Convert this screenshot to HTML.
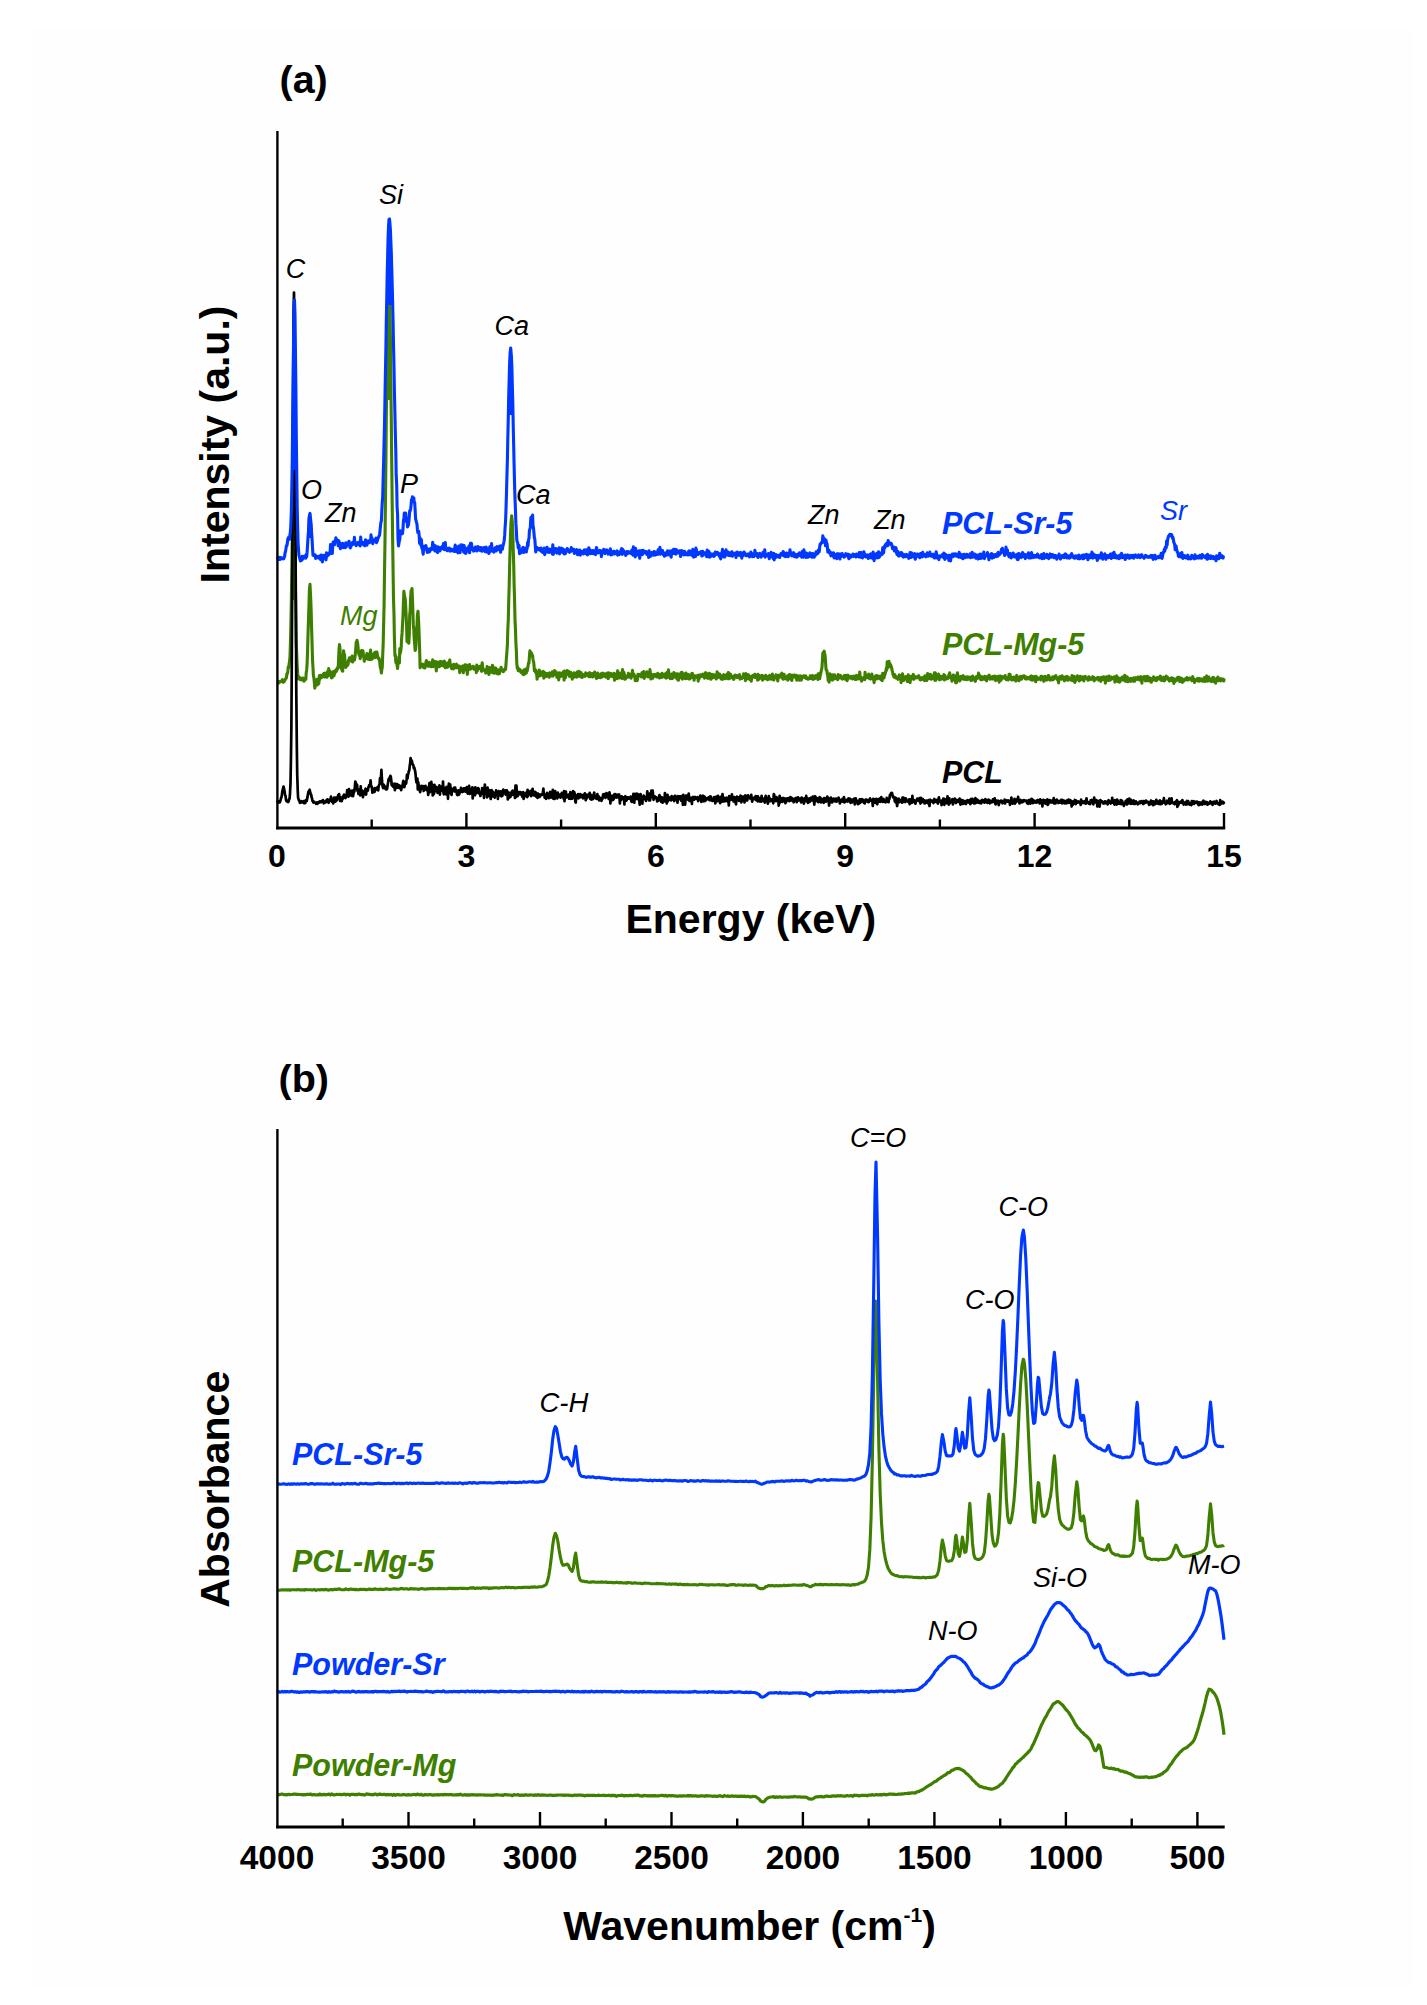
<!DOCTYPE html>
<html><head><meta charset="utf-8"><title>EDS and FTIR spectra</title>
<style>html,body{margin:0;padding:0;background:#fff;} svg{display:block;}</style>
</head><body>
<svg width="1427" height="2005" viewBox="0 0 1427 2005">
<rect x="0" y="0" width="1427" height="2005" fill="#ffffff"/>
<rect x="32" y="28" width="1381" height="1960" fill="#fefefe"/>
<g id="curves-a">
<path d="M277.0 681.9 L277.4 682.0 L277.9 682.1 L278.3 683.2 L278.8 682.8 L279.2 681.4 L279.7 682.2 L280.1 681.5 L280.6 681.4 L281.0 681.5 L281.5 681.2 L281.9 680.5 L282.4 679.6 L282.8 681.7 L283.3 682.3 L283.7 680.5 L284.2 681.6 L284.6 680.2 L285.1 680.0 L285.5 678.9 L286.0 678.4 L286.4 677.7 L286.9 673.7 L287.3 673.9 L287.8 671.8 L288.2 667.1 L288.7 667.7 L289.1 664.5 L289.6 660.6 L290.0 656.5 L290.5 640.6 L290.9 623.7 L291.4 597.9 L291.8 568.1 L292.3 532.1 L292.7 499.4 L293.2 477.7 L293.6 471.6 L294.1 483.7 L294.5 511.4 L295.0 546.5 L295.4 584.6 L295.9 618.3 L296.3 642.6 L296.8 656.8 L297.2 666.0 L297.7 673.7 L298.1 677.2 L298.6 678.9 L299.0 678.4 L299.5 677.1 L299.9 679.2 L300.4 679.7 L300.8 679.1 L301.3 678.6 L301.7 679.9 L302.2 679.3 L302.6 678.2 L303.1 679.7 L303.5 678.3 L304.0 681.2 L304.4 680.6 L304.9 678.5 L305.3 679.0 L305.8 679.4 L306.2 672.9 L306.7 669.7 L307.1 663.9 L307.6 650.0 L308.0 634.8 L308.5 619.6 L308.9 607.6 L309.4 589.6 L310.0 584.3 L310.7 598.5 L311.2 612.2 L311.6 628.3 L312.1 644.8 L312.5 659.4 L313.0 667.8 L313.4 675.4 L313.9 678.0 L314.3 681.9 L314.8 688.2 L315.2 686.7 L315.7 684.7 L316.1 684.2 L316.6 684.2 L317.0 679.4 L317.5 684.9 L317.9 680.5 L318.4 680.4 L318.8 683.7 L319.3 675.9 L319.7 679.5 L320.2 675.4 L320.6 676.8 L321.1 677.4 L321.5 676.6 L322.0 677.3 L322.4 675.3 L322.9 676.3 L323.3 674.1 L323.8 675.4 L324.2 673.3 L324.7 677.0 L325.1 673.1 L325.6 676.8 L326.0 674.5 L326.5 674.6 L326.9 677.3 L327.4 675.1 L327.8 671.0 L328.3 675.6 L328.7 668.6 L329.2 674.9 L329.6 673.4 L330.1 671.2 L330.5 674.2 L331.0 673.2 L331.4 677.9 L331.9 672.7 L332.3 677.5 L332.8 676.2 L333.2 671.9 L333.7 671.3 L334.1 675.6 L334.6 672.5 L335.0 672.9 L335.5 671.9 L335.9 669.8 L336.4 671.3 L336.8 669.9 L337.3 667.8 L337.7 668.8 L338.2 668.1 L338.6 658.6 L339.1 648.3 L339.5 644.6 L340.0 649.1 L340.4 659.9 L340.9 664.7 L341.3 667.6 L341.8 669.4 L342.2 670.8 L342.7 671.1 L343.1 658.2 L343.6 650.7 L344.0 654.1 L344.5 654.4 L344.9 659.3 L345.4 667.2 L345.8 667.4 L346.3 664.3 L346.7 662.6 L347.2 665.7 L347.6 662.4 L348.1 664.4 L348.5 660.2 L349.0 661.1 L349.4 657.8 L349.9 659.3 L350.3 658.4 L350.8 659.9 L351.2 661.1 L351.7 657.6 L352.1 656.1 L352.6 662.0 L353.0 658.6 L353.5 659.1 L353.9 658.8 L354.4 660.1 L354.8 658.0 L355.3 654.3 L355.7 649.5 L356.2 642.4 L356.6 644.5 L357.0 640.4 L357.5 642.3 L358.0 646.6 L358.4 651.8 L358.9 654.3 L359.3 655.5 L359.8 653.5 L360.2 658.7 L360.7 656.9 L361.1 651.5 L361.6 650.5 L362.0 650.6 L362.5 650.7 L362.9 650.8 L363.4 654.2 L363.8 656.4 L364.3 661.3 L364.7 656.1 L365.2 657.2 L365.6 655.6 L366.1 656.9 L366.5 658.6 L367.0 653.5 L367.4 656.1 L367.9 659.1 L368.3 657.7 L368.8 656.3 L369.2 659.5 L369.7 659.4 L370.1 652.9 L370.6 650.1 L371.0 659.5 L371.5 655.6 L371.9 656.3 L372.4 658.9 L372.8 657.3 L373.3 654.0 L373.7 654.9 L374.2 653.4 L374.6 657.1 L375.1 652.2 L375.5 657.7 L376.0 652.0 L376.4 655.3 L376.9 652.1 L377.3 654.4 L377.8 657.1 L378.2 657.4 L378.7 659.2 L379.1 658.3 L379.6 660.8 L380.0 664.7 L380.5 668.6 L380.9 668.5 L381.4 673.0 L381.8 669.8 L382.3 666.9 L382.7 655.1 L383.2 643.5 L383.6 625.2 L384.1 604.1 L384.5 572.1 L385.0 541.0 L385.4 504.8 L385.9 463.1 L386.3 416.1 L386.8 378.4 L387.2 338.4 L387.7 306.2 L388.1 283.0 L388.8 270.0 L389.5 283.5 L389.9 307.6 L390.4 338.2 L390.8 378.2 L391.3 419.3 L391.7 460.3 L392.2 503.7 L392.6 538.0 L393.1 571.9 L393.5 598.2 L394.0 614.7 L394.4 637.6 L394.9 655.7 L395.3 654.7 L395.8 661.7 L396.2 663.0 L396.7 662.4 L397.1 665.5 L397.6 668.4 L398.0 662.4 L398.5 662.5 L398.9 656.7 L399.4 662.9 L399.8 648.5 L400.3 653.2 L400.7 651.0 L401.2 647.2 L401.6 638.6 L402.1 632.7 L402.5 625.2 L403.0 616.4 L403.4 603.3 L403.9 591.4 L404.5 595.9 L405.2 598.6 L405.7 606.5 L406.1 614.5 L406.6 625.7 L407.0 641.5 L407.5 640.8 L407.9 640.6 L408.4 642.5 L408.8 643.2 L409.3 634.3 L409.7 614.9 L410.2 610.3 L410.6 597.9 L411.1 590.8 L411.5 590.3 L412.0 588.6 L412.4 597.9 L412.9 611.8 L413.3 624.4 L413.8 629.7 L414.2 638.7 L414.7 644.2 L415.1 650.4 L415.6 649.6 L416.0 643.8 L416.5 627.9 L416.9 627.9 L417.4 615.1 L418.0 611.2 L418.7 623.0 L419.2 636.6 L419.6 648.9 L420.1 667.7 L420.5 665.6 L421.0 664.2 L421.4 665.1 L421.9 665.0 L422.3 665.8 L422.8 664.2 L423.2 665.1 L423.7 667.7 L424.1 667.0 L424.6 665.6 L425.0 667.9 L425.5 665.2 L425.9 662.3 L426.4 660.6 L426.8 662.8 L427.3 664.1 L427.7 665.0 L428.2 666.2 L428.6 662.9 L429.1 662.3 L429.5 665.5 L430.0 666.3 L430.4 663.0 L430.9 664.6 L431.3 666.7 L431.8 664.6 L432.2 663.8 L432.7 659.8 L433.1 666.6 L433.6 665.3 L434.0 664.2 L434.5 663.1 L434.9 661.5 L435.4 663.9 L435.8 663.9 L436.3 671.0 L436.7 661.7 L437.2 667.0 L437.6 666.9 L438.1 666.6 L438.5 662.3 L439.0 665.0 L439.4 666.7 L439.9 664.6 L440.3 661.5 L440.8 663.8 L441.2 665.5 L441.7 661.7 L442.1 661.7 L442.6 665.1 L443.0 662.7 L443.5 666.0 L443.9 662.4 L444.4 661.1 L444.8 662.4 L445.3 667.8 L445.7 663.2 L446.2 665.0 L446.6 665.5 L447.1 663.2 L447.5 667.3 L448.0 665.5 L448.4 666.1 L448.9 662.0 L449.3 661.9 L449.8 659.9 L450.2 665.1 L450.7 665.1 L451.1 667.0 L451.6 668.6 L452.0 665.2 L452.5 665.2 L452.9 666.7 L453.4 668.9 L453.8 664.3 L454.3 667.2 L454.7 667.8 L455.2 665.4 L455.6 667.8 L456.1 664.7 L456.5 664.2 L457.0 667.7 L457.4 666.4 L457.9 665.9 L458.3 666.3 L458.8 667.6 L459.2 665.9 L459.7 672.7 L460.1 667.6 L460.6 669.7 L461.0 669.4 L461.5 670.4 L461.9 666.6 L462.4 667.3 L462.8 665.9 L463.3 672.8 L463.7 666.8 L464.2 668.4 L464.6 670.0 L465.1 664.7 L465.5 665.8 L466.0 666.7 L466.4 665.6 L466.9 665.1 L467.3 674.4 L467.8 670.2 L468.2 669.2 L468.7 667.9 L469.1 667.9 L469.6 664.6 L470.0 669.3 L470.5 668.8 L470.9 667.8 L471.4 668.5 L471.8 667.7 L472.3 667.2 L472.7 666.3 L473.2 666.9 L473.6 666.5 L474.1 669.3 L474.5 669.1 L475.0 669.1 L475.4 668.1 L475.9 667.7 L476.3 672.6 L476.8 665.0 L477.2 671.0 L477.7 669.4 L478.1 668.9 L478.6 667.8 L479.0 668.4 L479.5 666.6 L479.9 666.3 L480.4 668.8 L480.8 665.8 L481.3 670.7 L481.7 671.3 L482.2 662.7 L482.6 666.2 L483.1 669.8 L483.5 669.8 L484.0 669.6 L484.4 670.3 L484.9 670.9 L485.3 671.2 L485.8 673.0 L486.2 669.7 L486.7 671.3 L487.1 666.6 L487.6 669.5 L488.0 667.5 L488.5 672.6 L488.9 674.4 L489.4 671.0 L489.8 667.5 L490.3 669.8 L490.7 670.1 L491.2 670.5 L491.6 672.3 L492.1 672.1 L492.5 665.2 L493.0 672.9 L493.4 669.4 L493.9 669.3 L494.3 673.2 L494.8 670.0 L495.2 667.9 L495.7 668.0 L496.1 670.7 L496.6 672.4 L497.0 673.6 L497.5 670.4 L497.9 669.9 L498.4 673.9 L498.8 670.0 L499.3 673.7 L499.7 671.4 L500.2 671.4 L500.6 670.6 L501.1 667.2 L501.5 670.2 L502.0 669.8 L502.4 670.9 L502.9 669.9 L503.3 671.7 L503.8 671.2 L504.2 669.9 L504.7 669.4 L505.1 668.6 L505.6 669.3 L506.0 663.8 L506.5 657.0 L506.9 652.2 L507.4 644.6 L507.8 629.5 L508.3 619.7 L508.7 602.1 L509.2 585.0 L509.6 566.8 L510.1 548.9 L510.5 534.0 L511.0 522.6 L511.7 515.7 L512.3 521.8 L512.8 532.8 L513.2 547.8 L513.7 564.9 L514.1 583.9 L514.6 601.8 L515.0 619.6 L515.5 630.4 L515.9 642.8 L516.4 651.8 L516.8 663.1 L517.3 668.3 L517.7 667.1 L518.2 670.7 L518.6 670.8 L519.1 670.3 L519.5 669.1 L520.0 671.1 L520.4 669.9 L520.9 672.1 L521.3 672.6 L521.8 672.6 L522.2 672.6 L522.7 673.9 L523.1 671.3 L523.6 674.7 L524.0 669.9 L524.5 673.0 L524.9 673.8 L525.4 671.1 L525.8 669.1 L526.3 672.9 L526.7 670.6 L527.2 670.8 L527.6 668.6 L528.1 665.9 L528.5 663.0 L529.0 663.2 L529.4 656.4 L529.9 650.8 L530.3 652.3 L531.0 652.7 L531.7 653.4 L532.1 656.2 L532.6 655.7 L533.0 659.5 L533.5 661.6 L533.9 664.1 L534.4 670.8 L534.8 668.9 L535.3 671.6 L535.7 669.9 L536.2 673.6 L536.6 672.3 L537.1 679.2 L537.5 672.0 L538.0 672.0 L538.4 675.6 L538.9 676.0 L539.3 670.0 L539.8 674.4 L540.2 675.6 L540.7 671.7 L541.1 675.3 L541.6 673.0 L542.0 672.1 L542.5 673.4 L542.9 673.2 L543.4 671.4 L543.8 678.2 L544.3 673.2 L544.7 672.7 L545.2 675.7 L545.6 673.9 L546.1 676.6 L546.5 673.6 L547.0 674.8 L547.4 674.3 L547.9 673.6 L548.3 676.4 L548.8 674.0 L549.2 677.3 L549.7 672.9 L550.1 673.2 L550.6 673.6 L551.0 675.3 L551.5 675.0 L551.9 676.0 L552.4 671.8 L552.8 676.2 L553.3 673.9 L553.7 673.7 L554.2 674.6 L554.6 670.6 L555.1 674.8 L555.5 674.6 L556.0 671.7 L556.4 674.1 L556.9 677.2 L557.3 673.6 L557.8 675.4 L558.2 673.9 L558.7 679.9 L559.1 672.7 L559.6 673.7 L560.0 676.8 L560.5 675.9 L560.9 673.1 L561.4 676.3 L561.8 674.2 L562.3 673.2 L562.7 675.2 L563.2 672.8 L563.6 671.6 L564.1 680.2 L564.5 671.1 L565.0 675.5 L565.4 677.8 L565.9 674.5 L566.3 674.2 L566.8 673.7 L567.2 670.5 L567.7 674.3 L568.1 674.5 L568.6 672.9 L569.0 671.4 L569.5 676.4 L569.9 673.3 L570.4 673.4 L570.8 672.5 L571.3 675.3 L571.7 675.8 L572.2 679.1 L572.6 676.3 L573.1 675.4 L573.5 677.2 L574.0 672.8 L574.4 676.6 L574.9 673.7 L575.3 673.5 L575.8 676.7 L576.2 675.1 L576.7 677.1 L577.1 672.1 L577.6 675.2 L578.0 673.8 L578.5 674.2 L578.9 671.3 L579.4 676.4 L579.8 675.1 L580.3 673.0 L580.7 672.3 L581.2 673.2 L581.6 677.3 L582.1 677.4 L582.5 674.2 L583.0 675.7 L583.4 674.8 L583.9 675.2 L584.3 676.2 L584.8 675.4 L585.2 676.4 L585.7 672.7 L586.1 675.0 L586.6 674.2 L587.0 675.1 L587.5 674.8 L587.9 673.7 L588.4 674.3 L588.8 676.6 L589.3 673.9 L589.7 672.7 L590.2 676.0 L590.6 676.7 L591.1 674.5 L591.5 675.2 L592.0 673.5 L592.4 674.6 L592.9 676.9 L593.3 676.4 L593.8 675.2 L594.2 674.5 L594.7 672.1 L595.1 675.6 L595.6 676.2 L596.0 676.9 L596.5 678.6 L596.9 675.7 L597.4 676.7 L597.8 673.1 L598.3 677.2 L598.7 676.6 L599.2 677.5 L599.6 676.3 L600.1 675.9 L600.5 677.7 L601.0 673.9 L601.4 676.2 L601.9 677.0 L602.3 673.7 L602.8 673.1 L603.2 675.9 L603.7 675.3 L604.1 676.2 L604.6 676.3 L605.0 673.8 L605.5 675.7 L605.9 677.1 L606.4 674.5 L606.8 674.7 L607.3 673.2 L607.7 676.6 L608.2 678.6 L608.6 672.8 L609.1 676.5 L609.5 676.8 L610.0 674.2 L610.4 674.6 L610.9 673.4 L611.3 673.8 L611.8 675.5 L612.2 676.4 L612.7 675.4 L613.1 676.7 L613.6 675.6 L614.0 673.2 L614.5 680.3 L614.9 677.3 L615.4 674.0 L615.8 678.4 L616.3 676.1 L616.7 675.5 L617.2 678.6 L617.6 670.9 L618.1 672.5 L618.5 676.5 L619.0 674.9 L619.4 674.7 L619.9 677.9 L620.3 676.2 L620.8 673.1 L621.2 674.2 L621.7 676.8 L622.1 678.5 L622.6 669.5 L623.0 675.8 L623.5 674.7 L623.9 672.3 L624.4 675.1 L624.8 679.3 L625.3 679.0 L625.7 678.2 L626.2 676.3 L626.6 676.7 L627.1 676.4 L627.5 676.0 L628.0 677.1 L628.4 673.4 L628.9 674.8 L629.3 676.9 L629.8 674.2 L630.2 674.7 L630.7 677.5 L631.1 678.1 L631.6 674.4 L632.0 674.0 L632.5 670.4 L632.9 675.9 L633.4 674.3 L633.8 674.2 L634.3 676.4 L634.7 675.6 L635.2 680.6 L635.6 677.8 L636.1 676.9 L636.5 677.3 L637.0 680.8 L637.4 680.1 L637.9 674.3 L638.3 676.1 L638.8 675.6 L639.2 674.5 L639.7 676.0 L640.1 676.0 L640.6 675.4 L641.0 674.7 L641.5 677.0 L641.9 672.8 L642.4 677.0 L642.8 675.6 L643.3 676.0 L643.7 671.5 L644.2 678.5 L644.6 672.6 L645.1 674.1 L645.5 676.7 L646.0 674.5 L646.4 674.9 L646.9 671.8 L647.3 674.8 L647.8 676.0 L648.2 676.8 L648.7 674.9 L649.1 676.0 L649.6 676.4 L650.0 669.6 L650.5 674.3 L650.9 679.0 L651.4 674.2 L651.8 677.8 L652.3 675.8 L652.7 678.2 L653.2 674.6 L653.6 676.5 L654.1 676.2 L654.5 675.3 L655.0 676.2 L655.4 674.4 L655.9 675.5 L656.3 675.0 L656.8 677.0 L657.2 675.5 L657.7 673.3 L658.1 675.1 L658.6 675.5 L659.0 674.2 L659.5 678.0 L659.9 676.4 L660.4 677.1 L660.8 674.4 L661.3 675.0 L661.7 677.4 L662.2 673.3 L662.6 676.4 L663.1 675.9 L663.5 674.9 L664.0 675.9 L664.4 677.1 L664.9 676.1 L665.3 673.7 L665.8 673.6 L666.2 678.1 L666.7 674.6 L667.1 672.2 L667.6 677.4 L668.0 674.5 L668.5 669.8 L668.9 675.7 L669.4 677.4 L669.8 676.4 L670.3 678.7 L670.7 675.6 L671.2 676.8 L671.6 674.1 L672.1 676.1 L672.5 678.4 L673.0 676.7 L673.4 676.1 L673.9 672.5 L674.3 675.2 L674.8 673.6 L675.2 677.2 L675.7 673.9 L676.1 676.5 L676.6 674.1 L677.0 679.1 L677.5 673.9 L677.9 676.1 L678.4 680.3 L678.8 676.2 L679.3 674.4 L679.7 676.9 L680.2 677.6 L680.6 677.4 L681.1 672.6 L681.5 676.3 L682.0 672.3 L682.4 679.1 L682.9 676.0 L683.3 675.1 L683.8 677.1 L684.2 676.7 L684.7 673.9 L685.1 678.7 L685.6 675.5 L686.0 673.0 L686.5 678.3 L686.9 678.5 L687.4 678.1 L687.8 676.9 L688.3 674.5 L688.7 677.6 L689.2 679.1 L689.6 677.4 L690.1 678.7 L690.5 674.7 L691.0 677.7 L691.4 677.6 L691.9 673.5 L692.3 673.3 L692.8 674.8 L693.2 676.2 L693.7 676.8 L694.1 680.2 L694.6 675.9 L695.0 675.8 L695.5 676.2 L695.9 677.0 L696.4 676.9 L696.8 676.0 L697.3 677.7 L697.7 675.3 L698.2 681.2 L698.6 675.2 L699.1 678.8 L699.5 676.0 L700.0 676.6 L700.4 674.8 L700.9 675.5 L701.3 676.4 L701.8 676.1 L702.2 675.1 L702.7 674.2 L703.1 676.2 L703.6 676.4 L704.0 677.1 L704.5 678.2 L704.9 675.6 L705.4 672.8 L705.8 675.9 L706.3 673.1 L706.7 674.0 L707.2 677.9 L707.6 677.1 L708.1 678.3 L708.5 675.1 L709.0 676.0 L709.4 673.2 L709.9 677.0 L710.3 675.6 L710.8 679.3 L711.2 674.4 L711.7 677.9 L712.1 675.1 L712.6 677.9 L713.0 674.6 L713.5 677.5 L713.9 675.5 L714.4 674.9 L714.8 676.0 L715.3 677.1 L715.7 676.9 L716.2 678.9 L716.6 677.7 L717.1 671.9 L717.5 675.6 L718.0 673.0 L718.4 675.7 L718.9 677.3 L719.3 674.1 L719.8 674.3 L720.2 676.6 L720.7 675.8 L721.1 679.0 L721.6 676.9 L722.0 677.2 L722.5 679.3 L722.9 675.5 L723.4 676.4 L723.8 674.7 L724.3 676.8 L724.7 678.1 L725.2 678.7 L725.6 676.3 L726.1 675.2 L726.5 675.1 L727.0 674.1 L727.4 676.6 L727.9 678.7 L728.3 672.5 L728.8 672.8 L729.2 678.8 L729.7 677.1 L730.1 677.0 L730.6 674.3 L731.0 677.7 L731.5 677.8 L731.9 676.7 L732.4 677.8 L732.8 676.6 L733.3 677.4 L733.7 679.5 L734.2 678.3 L734.6 675.4 L735.1 675.2 L735.5 676.1 L736.0 676.1 L736.4 676.6 L736.9 675.5 L737.3 677.6 L737.8 676.6 L738.2 677.1 L738.7 676.6 L739.1 675.8 L739.6 674.6 L740.0 679.2 L740.5 677.1 L740.9 677.3 L741.4 677.6 L741.8 678.4 L742.3 677.8 L742.7 677.0 L743.2 676.3 L743.6 673.9 L744.1 677.0 L744.5 676.1 L745.0 676.1 L745.4 680.6 L745.9 673.6 L746.3 676.7 L746.8 678.6 L747.2 678.2 L747.7 678.7 L748.1 674.6 L748.6 675.1 L749.0 677.7 L749.5 676.2 L749.9 679.5 L750.4 677.1 L750.8 677.0 L751.3 681.2 L751.7 676.3 L752.2 676.9 L752.6 675.6 L753.1 676.7 L753.5 675.9 L754.0 677.1 L754.4 674.4 L754.9 674.3 L755.3 677.5 L755.8 677.1 L756.2 675.2 L756.7 676.4 L757.1 675.0 L757.6 680.1 L758.0 674.2 L758.5 679.6 L758.9 675.4 L759.4 677.5 L759.8 676.4 L760.3 676.2 L760.7 678.3 L761.2 678.1 L761.6 676.3 L762.1 675.3 L762.5 680.2 L763.0 679.1 L763.4 677.1 L763.9 676.4 L764.3 677.3 L764.8 677.0 L765.2 678.8 L765.7 675.3 L766.1 676.9 L766.6 676.4 L767.0 679.0 L767.5 679.8 L767.9 676.7 L768.4 677.8 L768.8 679.2 L769.3 676.4 L769.7 675.4 L770.2 678.6 L770.6 677.7 L771.1 676.6 L771.5 679.3 L772.0 677.3 L772.4 674.0 L772.9 677.5 L773.3 676.8 L773.8 680.0 L774.2 676.9 L774.7 676.6 L775.1 677.7 L775.6 677.3 L776.0 674.7 L776.5 677.2 L776.9 676.4 L777.4 679.2 L777.8 680.9 L778.3 675.2 L778.7 675.4 L779.2 675.6 L779.6 675.9 L780.1 675.9 L780.5 677.1 L781.0 674.4 L781.4 674.9 L781.9 673.2 L782.3 674.0 L782.8 678.8 L783.2 679.2 L783.7 674.5 L784.1 674.4 L784.6 677.2 L785.0 678.8 L785.5 678.7 L785.9 677.4 L786.4 678.1 L786.8 677.6 L787.3 676.2 L787.7 680.1 L788.2 675.9 L788.6 675.3 L789.1 676.3 L789.5 674.6 L790.0 677.1 L790.4 678.8 L790.9 675.0 L791.3 678.9 L791.8 680.5 L792.2 677.7 L792.7 675.2 L793.1 675.7 L793.6 676.6 L794.0 675.0 L794.5 675.1 L794.9 676.7 L795.4 676.8 L795.8 678.1 L796.3 675.2 L796.7 680.1 L797.2 678.8 L797.6 678.6 L798.1 676.1 L798.5 679.9 L799.0 676.6 L799.4 680.1 L799.9 678.9 L800.3 675.7 L800.8 676.4 L801.2 680.2 L801.7 678.8 L802.1 676.9 L802.6 677.5 L803.0 677.5 L803.5 675.9 L803.9 676.9 L804.4 676.1 L804.8 676.5 L805.3 677.9 L805.7 675.7 L806.2 678.4 L806.6 677.4 L807.1 678.4 L807.5 678.6 L808.0 679.2 L808.4 678.2 L808.9 678.3 L809.3 678.6 L809.8 678.1 L810.2 675.8 L810.7 676.8 L811.1 678.4 L811.6 677.1 L812.0 677.9 L812.5 675.6 L812.9 679.4 L813.4 676.3 L813.8 677.9 L814.3 677.2 L814.7 678.7 L815.2 676.6 L815.6 675.7 L816.1 676.7 L816.5 676.8 L817.0 675.4 L817.4 678.1 L817.9 679.5 L818.3 673.7 L818.8 675.1 L819.2 673.6 L819.7 678.7 L820.1 675.9 L820.6 674.1 L821.0 671.9 L821.5 669.5 L821.9 668.1 L822.4 661.1 L822.8 653.2 L823.3 652.4 L823.8 652.3 L824.2 651.2 L824.6 653.8 L825.1 655.5 L825.5 661.6 L826.0 669.2 L826.4 670.3 L826.9 670.6 L827.3 674.0 L827.8 675.8 L828.2 680.5 L828.7 677.5 L829.1 682.1 L829.6 678.1 L830.0 673.9 L830.5 677.9 L830.9 676.0 L831.4 675.2 L831.8 675.7 L832.3 680.2 L832.7 674.9 L833.2 676.4 L833.6 679.2 L834.1 678.4 L834.5 674.7 L835.0 677.2 L835.4 676.6 L835.9 677.1 L836.3 678.6 L836.8 676.5 L837.2 676.9 L837.7 679.7 L838.1 674.5 L838.6 676.8 L839.0 678.1 L839.5 675.4 L839.9 676.4 L840.4 675.3 L840.8 677.5 L841.3 676.4 L841.7 678.6 L842.2 679.0 L842.6 677.5 L843.1 676.8 L843.5 677.8 L844.0 677.5 L844.4 675.5 L844.9 679.1 L845.3 677.8 L845.8 678.7 L846.2 675.3 L846.7 678.8 L847.1 680.7 L847.6 678.4 L848.0 675.2 L848.5 677.5 L848.9 677.3 L849.4 677.8 L849.8 677.1 L850.3 678.2 L850.7 676.7 L851.2 677.8 L851.6 676.4 L852.1 677.6 L852.5 679.0 L853.0 676.7 L853.4 678.5 L853.9 676.1 L854.3 676.9 L854.8 677.1 L855.2 679.4 L855.7 676.3 L856.1 679.4 L856.6 675.2 L857.0 677.2 L857.5 678.9 L857.9 678.6 L858.4 675.9 L858.8 675.6 L859.3 678.8 L859.7 672.1 L860.2 678.4 L860.6 676.7 L861.1 677.5 L861.5 681.1 L862.0 679.9 L862.4 678.8 L862.9 678.2 L863.3 678.0 L863.8 677.6 L864.2 677.3 L864.7 679.6 L865.1 672.3 L865.6 678.0 L866.0 677.7 L866.5 676.3 L866.9 676.2 L867.4 675.5 L867.8 677.6 L868.3 677.6 L868.7 674.1 L869.2 675.3 L869.6 678.6 L870.1 678.7 L870.5 679.0 L871.0 678.4 L871.4 677.9 L871.9 674.1 L872.3 677.9 L872.8 676.7 L873.2 679.3 L873.7 679.6 L874.1 682.6 L874.6 678.6 L875.0 678.8 L875.5 676.0 L875.9 677.7 L876.4 675.6 L876.8 678.9 L877.3 675.7 L877.7 677.2 L878.2 676.3 L878.6 676.8 L879.1 678.3 L879.5 676.7 L880.0 677.9 L880.4 676.0 L880.9 679.6 L881.3 676.5 L881.8 678.7 L882.2 680.6 L882.7 673.3 L883.1 675.1 L883.6 675.8 L884.0 678.0 L884.5 675.1 L884.9 674.6 L885.4 672.3 L885.8 671.6 L886.3 668.2 L886.7 670.1 L887.2 661.9 L887.6 663.0 L888.1 667.5 L888.5 663.8 L889.0 661.2 L889.4 665.1 L889.9 663.8 L890.3 664.9 L890.8 665.0 L891.2 666.9 L891.7 668.0 L892.1 670.8 L892.6 672.1 L893.0 674.9 L893.5 675.1 L893.9 676.8 L894.4 674.5 L894.8 674.8 L895.3 676.9 L895.7 677.9 L896.2 676.7 L896.6 677.0 L897.1 678.5 L897.5 678.2 L898.0 679.3 L898.4 678.0 L898.9 676.3 L899.3 674.9 L899.8 677.3 L900.2 677.1 L900.7 677.1 L901.1 682.6 L901.6 675.2 L902.0 677.0 L902.5 673.7 L902.9 677.0 L903.4 676.3 L903.8 680.5 L904.3 678.3 L904.7 677.3 L905.2 677.9 L905.6 678.8 L906.1 676.5 L906.5 677.3 L907.0 677.1 L907.4 681.5 L907.9 677.8 L908.3 674.7 L908.8 678.9 L909.2 681.6 L909.7 676.2 L910.1 682.6 L910.6 677.6 L911.0 679.2 L911.5 676.8 L911.9 677.3 L912.4 675.8 L912.8 676.1 L913.3 674.4 L913.7 679.4 L914.2 675.9 L914.6 678.3 L915.1 678.2 L915.5 676.7 L916.0 677.8 L916.4 677.6 L916.9 676.9 L917.3 677.8 L917.8 677.8 L918.2 676.1 L918.7 675.7 L919.1 676.4 L919.6 677.9 L920.0 679.8 L920.5 679.9 L920.9 678.2 L921.4 679.2 L921.8 677.9 L922.3 679.4 L922.7 677.9 L923.2 678.2 L923.6 677.3 L924.1 677.7 L924.5 680.6 L925.0 675.9 L925.4 677.7 L925.9 676.8 L926.3 679.2 L926.8 680.5 L927.2 677.3 L927.7 673.5 L928.1 678.7 L928.6 678.7 L929.0 675.2 L929.5 677.4 L929.9 677.6 L930.4 674.2 L930.8 678.8 L931.3 679.2 L931.7 678.1 L932.2 676.1 L932.6 676.7 L933.1 676.8 L933.5 678.5 L934.0 676.3 L934.4 672.7 L934.9 680.5 L935.3 672.7 L935.8 680.3 L936.2 678.0 L936.7 676.9 L937.1 677.9 L937.6 675.0 L938.0 678.1 L938.5 674.0 L938.9 676.2 L939.4 679.8 L939.8 679.7 L940.3 677.3 L940.7 676.3 L941.2 679.2 L941.6 677.7 L942.1 678.1 L942.5 678.7 L943.0 676.2 L943.4 679.0 L943.9 674.6 L944.3 680.0 L944.8 675.4 L945.2 676.8 L945.7 676.8 L946.1 678.9 L946.6 678.9 L947.0 678.3 L947.5 678.6 L947.9 678.5 L948.4 677.7 L948.8 674.9 L949.3 675.8 L949.7 672.8 L950.2 677.7 L950.6 677.5 L951.1 677.6 L951.5 678.2 L952.0 681.2 L952.4 676.3 L952.9 675.6 L953.3 675.0 L953.8 679.7 L954.2 679.2 L954.7 675.8 L955.1 677.4 L955.6 682.7 L956.0 680.2 L956.5 682.7 L956.9 678.1 L957.4 672.9 L957.8 675.2 L958.3 676.7 L958.7 677.8 L959.2 676.8 L959.6 681.0 L960.1 679.1 L960.5 678.1 L961.0 676.4 L961.4 679.2 L961.9 678.8 L962.3 677.1 L962.8 677.2 L963.2 675.7 L963.7 677.7 L964.1 679.2 L964.6 679.4 L965.0 678.7 L965.5 679.1 L965.9 677.0 L966.4 677.2 L966.8 679.7 L967.3 678.5 L967.7 676.7 L968.2 678.6 L968.6 679.1 L969.1 678.9 L969.5 678.0 L970.0 677.1 L970.4 678.5 L970.9 680.4 L971.3 678.1 L971.8 676.9 L972.2 680.3 L972.7 676.1 L973.1 679.4 L973.6 677.5 L974.0 679.3 L974.5 678.1 L974.9 679.5 L975.4 681.3 L975.8 677.6 L976.3 676.7 L976.7 678.6 L977.2 677.8 L977.6 678.1 L978.1 677.0 L978.5 673.1 L979.0 678.0 L979.4 674.7 L979.9 677.6 L980.3 678.4 L980.8 679.7 L981.2 677.1 L981.7 676.7 L982.1 679.6 L982.6 677.0 L983.0 678.1 L983.5 678.6 L983.9 679.0 L984.4 678.0 L984.8 676.3 L985.3 679.4 L985.7 677.3 L986.2 677.2 L986.6 680.9 L987.1 677.1 L987.5 676.4 L988.0 677.3 L988.4 677.6 L988.9 676.9 L989.3 675.2 L989.8 679.1 L990.2 679.1 L990.7 678.3 L991.1 677.4 L991.6 678.3 L992.0 678.9 L992.5 676.5 L992.9 677.5 L993.4 677.2 L993.8 679.0 L994.3 678.4 L994.7 676.1 L995.2 677.1 L995.6 680.6 L996.1 676.6 L996.5 678.2 L997.0 677.1 L997.4 679.8 L997.9 677.9 L998.3 677.4 L998.8 676.1 L999.2 682.1 L999.7 679.2 L1000.1 679.0 L1000.6 676.1 L1001.0 680.3 L1001.5 677.7 L1001.9 676.5 L1002.4 678.2 L1002.8 677.1 L1003.3 677.2 L1003.7 677.1 L1004.2 677.9 L1004.6 677.3 L1005.1 675.6 L1005.5 678.8 L1006.0 677.3 L1006.4 679.8 L1006.9 678.8 L1007.3 678.9 L1007.8 678.3 L1008.2 679.9 L1008.7 677.6 L1009.1 674.2 L1009.6 678.6 L1010.0 674.2 L1010.5 677.5 L1010.9 679.1 L1011.4 677.5 L1011.8 679.9 L1012.3 679.1 L1012.7 678.3 L1013.2 677.5 L1013.6 679.7 L1014.1 677.1 L1014.5 677.5 L1015.0 679.2 L1015.4 679.0 L1015.9 681.0 L1016.3 677.8 L1016.8 675.4 L1017.2 679.1 L1017.7 679.9 L1018.1 677.9 L1018.6 680.3 L1019.0 680.7 L1019.5 677.2 L1019.9 677.4 L1020.4 676.3 L1020.8 678.9 L1021.3 679.2 L1021.7 678.9 L1022.2 676.4 L1022.6 677.1 L1023.1 676.1 L1023.5 675.9 L1024.0 676.2 L1024.4 675.9 L1024.9 677.9 L1025.3 678.8 L1025.8 679.0 L1026.2 678.1 L1026.7 677.2 L1027.1 678.1 L1027.6 679.0 L1028.0 677.7 L1028.5 678.2 L1028.9 677.7 L1029.4 677.4 L1029.8 678.2 L1030.3 676.6 L1030.7 679.7 L1031.2 676.0 L1031.6 678.8 L1032.1 676.3 L1032.5 680.3 L1033.0 679.4 L1033.4 677.1 L1033.9 677.6 L1034.3 676.6 L1034.8 678.1 L1035.2 678.8 L1035.7 681.8 L1036.1 676.3 L1036.6 680.0 L1037.0 677.4 L1037.5 678.6 L1037.9 679.5 L1038.4 679.0 L1038.8 678.8 L1039.3 678.0 L1039.7 678.2 L1040.2 678.5 L1040.6 679.9 L1041.1 676.2 L1041.5 677.6 L1042.0 676.5 L1042.4 678.1 L1042.9 677.1 L1043.3 679.8 L1043.8 681.3 L1044.2 680.2 L1044.7 676.6 L1045.1 678.4 L1045.6 676.7 L1046.0 678.9 L1046.5 680.1 L1046.9 679.1 L1047.4 679.5 L1047.8 678.1 L1048.3 675.5 L1048.7 675.5 L1049.2 678.2 L1049.6 678.0 L1050.1 680.1 L1050.5 677.8 L1051.0 678.4 L1051.4 678.7 L1051.9 679.8 L1052.3 678.2 L1052.8 676.8 L1053.2 679.8 L1053.7 678.9 L1054.1 678.9 L1054.6 676.6 L1055.0 678.3 L1055.5 675.9 L1055.9 675.6 L1056.4 678.0 L1056.8 677.7 L1057.3 679.1 L1057.7 680.3 L1058.2 678.3 L1058.6 682.9 L1059.1 677.5 L1059.5 679.4 L1060.0 676.6 L1060.4 678.5 L1060.9 677.9 L1061.3 678.1 L1061.8 679.2 L1062.2 675.8 L1062.7 678.5 L1063.1 677.3 L1063.6 678.5 L1064.0 678.9 L1064.5 680.8 L1064.9 677.9 L1065.4 676.8 L1065.8 679.2 L1066.3 677.5 L1066.7 679.0 L1067.2 676.4 L1067.6 680.3 L1068.1 677.0 L1068.5 680.0 L1069.0 677.8 L1069.4 679.2 L1069.9 678.2 L1070.3 679.4 L1070.8 678.4 L1071.2 680.2 L1071.7 679.4 L1072.1 675.5 L1072.6 680.7 L1073.0 677.5 L1073.5 680.2 L1073.9 678.5 L1074.4 676.4 L1074.8 682.5 L1075.3 678.2 L1075.7 680.8 L1076.2 677.8 L1076.6 678.5 L1077.1 678.8 L1077.5 675.9 L1078.0 679.2 L1078.4 677.1 L1078.9 680.4 L1079.3 680.8 L1079.8 678.5 L1080.2 676.3 L1080.7 678.7 L1081.1 678.7 L1081.6 679.5 L1082.0 678.1 L1082.5 676.9 L1082.9 678.3 L1083.4 677.2 L1083.8 680.9 L1084.3 677.6 L1084.7 677.6 L1085.2 676.4 L1085.6 676.8 L1086.1 677.9 L1086.5 678.3 L1087.0 677.9 L1087.4 678.2 L1087.9 680.2 L1088.3 679.1 L1088.8 676.7 L1089.2 678.0 L1089.7 679.6 L1090.1 677.7 L1090.6 678.7 L1091.0 678.5 L1091.5 679.3 L1091.9 678.3 L1092.4 678.4 L1092.8 676.7 L1093.3 679.1 L1093.7 677.3 L1094.2 680.9 L1094.6 678.6 L1095.1 678.3 L1095.5 679.6 L1096.0 678.5 L1096.4 678.7 L1096.9 678.5 L1097.3 677.6 L1097.8 677.4 L1098.2 677.7 L1098.7 680.1 L1099.1 677.8 L1099.6 678.1 L1100.0 678.0 L1100.5 679.6 L1100.9 681.3 L1101.4 677.4 L1101.8 679.4 L1102.3 678.8 L1102.7 678.2 L1103.2 679.3 L1103.6 676.9 L1104.1 679.8 L1104.5 678.9 L1105.0 677.3 L1105.4 683.1 L1105.9 679.8 L1106.3 680.2 L1106.8 676.7 L1107.2 678.3 L1107.7 678.0 L1108.1 679.5 L1108.6 680.5 L1109.0 676.1 L1109.5 678.7 L1109.9 678.5 L1110.4 680.0 L1110.8 678.6 L1111.3 677.0 L1111.7 678.4 L1112.2 677.3 L1112.6 677.7 L1113.1 678.8 L1113.5 678.1 L1114.0 679.1 L1114.4 676.7 L1114.9 682.2 L1115.3 680.4 L1115.8 679.7 L1116.2 677.0 L1116.7 675.9 L1117.1 677.6 L1117.6 678.4 L1118.0 681.7 L1118.5 680.5 L1118.9 678.0 L1119.4 680.3 L1119.8 682.1 L1120.3 678.8 L1120.7 680.4 L1121.2 679.2 L1121.6 677.9 L1122.1 677.2 L1122.5 678.6 L1123.0 680.1 L1123.4 677.0 L1123.9 676.7 L1124.3 679.5 L1124.8 675.2 L1125.2 681.2 L1125.7 678.2 L1126.1 679.8 L1126.6 681.2 L1127.0 676.9 L1127.5 677.4 L1127.9 681.8 L1128.4 678.4 L1128.8 678.6 L1129.3 679.1 L1129.7 680.2 L1130.2 680.6 L1130.6 681.3 L1131.1 678.4 L1131.5 678.8 L1132.0 679.2 L1132.4 680.6 L1132.9 679.0 L1133.3 681.2 L1133.8 677.7 L1134.2 679.5 L1134.7 681.1 L1135.1 680.5 L1135.6 679.3 L1136.0 677.7 L1136.5 677.9 L1136.9 678.7 L1137.4 679.3 L1137.8 678.5 L1138.3 677.0 L1138.7 677.9 L1139.2 679.6 L1139.6 680.0 L1140.1 677.1 L1140.5 678.4 L1141.0 676.7 L1141.4 678.2 L1141.9 683.2 L1142.3 679.0 L1142.8 678.5 L1143.2 678.1 L1143.7 677.3 L1144.1 676.5 L1144.6 678.9 L1145.0 678.6 L1145.5 680.8 L1145.9 676.8 L1146.4 679.5 L1146.8 680.7 L1147.3 676.4 L1147.7 679.8 L1148.2 676.9 L1148.6 679.6 L1149.1 680.9 L1149.5 679.0 L1150.0 679.3 L1150.4 678.1 L1150.9 679.3 L1151.3 682.2 L1151.8 678.7 L1152.2 678.8 L1152.7 679.5 L1153.1 680.0 L1153.6 676.9 L1154.0 679.1 L1154.5 678.1 L1154.9 679.6 L1155.4 680.3 L1155.8 679.4 L1156.3 680.7 L1156.7 677.7 L1157.2 678.5 L1157.6 677.7 L1158.1 679.1 L1158.5 677.8 L1159.0 678.8 L1159.4 677.5 L1159.9 678.9 L1160.3 676.0 L1160.8 679.8 L1161.2 678.7 L1161.7 680.5 L1162.1 679.3 L1162.6 678.7 L1163.0 678.8 L1163.5 677.2 L1163.9 680.3 L1164.4 680.9 L1164.8 679.0 L1165.3 679.6 L1165.7 677.2 L1166.2 676.2 L1166.6 678.4 L1167.1 678.8 L1167.5 677.1 L1168.0 679.2 L1168.4 679.5 L1168.9 679.9 L1169.3 681.1 L1169.8 680.1 L1170.2 678.6 L1170.7 679.2 L1171.1 679.9 L1171.6 677.8 L1172.0 680.8 L1172.5 680.3 L1172.9 678.8 L1173.4 678.3 L1173.8 683.4 L1174.3 680.2 L1174.7 680.3 L1175.2 681.4 L1175.6 680.4 L1176.1 679.4 L1176.5 680.0 L1177.0 678.0 L1177.4 680.1 L1177.9 677.2 L1178.3 679.7 L1178.8 679.9 L1179.2 677.2 L1179.7 681.6 L1180.1 677.7 L1180.6 680.5 L1181.0 678.5 L1181.5 679.6 L1181.9 678.4 L1182.4 682.4 L1182.8 680.5 L1183.3 681.5 L1183.7 680.2 L1184.2 680.1 L1184.6 679.4 L1185.1 678.9 L1185.5 680.0 L1186.0 679.4 L1186.4 679.0 L1186.9 677.5 L1187.3 678.9 L1187.8 680.0 L1188.2 678.7 L1188.7 679.7 L1189.1 679.1 L1189.6 678.0 L1190.0 678.1 L1190.5 678.3 L1190.9 678.9 L1191.4 679.0 L1191.8 680.7 L1192.3 677.9 L1192.7 676.7 L1193.2 680.2 L1193.6 678.7 L1194.1 679.2 L1194.5 682.5 L1195.0 681.2 L1195.4 680.1 L1195.9 680.5 L1196.3 679.5 L1196.8 680.5 L1197.2 678.6 L1197.7 678.4 L1198.1 678.8 L1198.6 681.3 L1199.0 681.3 L1199.5 678.6 L1199.9 680.8 L1200.4 679.2 L1200.8 680.7 L1201.3 679.0 L1201.7 680.6 L1202.2 679.2 L1202.6 681.2 L1203.1 679.4 L1203.5 679.6 L1204.0 678.7 L1204.4 677.7 L1204.9 681.5 L1205.3 678.9 L1205.8 677.1 L1206.2 676.6 L1206.7 675.9 L1207.1 678.7 L1207.6 681.1 L1208.0 677.4 L1208.5 679.0 L1208.9 677.1 L1209.4 680.8 L1209.8 679.9 L1210.3 679.8 L1210.7 681.1 L1211.2 681.5 L1211.6 680.7 L1212.1 678.7 L1212.5 677.8 L1213.0 678.2 L1213.4 677.3 L1213.9 681.7 L1214.3 679.2 L1214.8 679.6 L1215.2 679.7 L1215.7 683.1 L1216.1 678.8 L1216.6 681.0 L1217.0 679.9 L1217.5 679.3 L1217.9 677.1 L1218.4 680.6 L1218.8 678.6 L1219.3 678.9 L1219.7 679.8 L1220.2 679.6 L1220.6 680.9 L1221.1 678.7 L1221.5 679.7 L1222.0 679.9 L1222.4 679.6 L1222.9 680.4 L1223.3 679.2 L1223.8 681.0 L1224.0 678.3" fill="none" stroke="#3f7f00" stroke-width="3.1" stroke-linejoin="round"/>
<path d="M291.36 600.00 L291.40 597.94 L291.85 568.12 L292.30 532.14 L292.75 499.40 L293.20 477.69 L293.60 471.60 L294.10 483.69 L294.55 511.37 L295.00 546.49 L295.45 584.56 L295.66 600.00 Z" fill="#3f7f00" stroke="none"/>
<path d="M308.34 625.00 L308.50 619.61 L308.95 607.56 L309.40 589.57 L310.00 584.29 L310.75 598.51 L311.20 612.20 L311.56 625.00 Z" fill="#3f7f00" stroke="none"/>
<path d="M386.54 400.00 L386.80 378.39 L387.25 338.38 L387.70 306.24 L388.15 283.05 L388.80 270.00 L389.50 283.54 L389.95 307.60 L390.40 338.20 L390.85 378.21 L391.09 400.00 Z" fill="#3f7f00" stroke="none"/>
<path d="M510.22 545.00 L510.55 534.05 L511.00 522.58 L511.70 515.70 L512.35 521.80 L512.80 532.75 L513.17 545.00 Z" fill="#3f7f00" stroke="none"/>
<path d="M277.0 800.6 L277.4 801.6 L277.9 802.1 L278.3 802.5 L278.8 801.5 L279.2 801.8 L279.7 802.4 L280.1 801.6 L280.6 799.9 L281.0 798.2 L281.5 797.3 L281.9 794.6 L282.4 790.6 L282.8 789.4 L283.5 786.6 L284.2 789.4 L284.6 791.5 L285.1 795.4 L285.5 795.6 L286.0 799.8 L286.4 801.0 L286.9 801.4 L287.3 800.6 L287.8 800.9 L288.2 802.0 L288.7 801.2 L289.1 798.9 L289.6 798.7 L290.0 793.3 L290.5 783.6 L290.9 760.9 L291.4 724.4 L291.8 659.4 L292.3 570.8 L292.7 470.3 L293.2 375.1 L293.6 309.4 L294.0 292.5 L294.5 333.1 L295.0 415.0 L295.4 519.2 L295.9 612.7 L296.3 693.1 L296.8 744.7 L297.2 773.6 L297.7 789.6 L298.1 797.9 L298.6 799.3 L299.0 800.6 L299.5 800.5 L299.9 802.9 L300.4 801.9 L300.8 801.7 L301.3 801.3 L301.7 802.3 L302.2 801.9 L302.6 802.3 L303.1 801.4 L303.5 801.1 L304.0 803.2 L304.4 801.3 L304.9 801.9 L305.3 803.0 L305.8 800.0 L306.2 801.0 L306.7 800.9 L307.1 799.1 L307.6 796.6 L308.0 794.0 L308.5 791.6 L308.9 791.3 L309.7 789.7 L310.3 792.9 L310.7 794.2 L311.2 794.7 L311.6 797.3 L312.1 798.8 L312.5 801.1 L313.0 801.4 L313.4 802.5 L313.9 801.6 L314.3 802.0 L314.8 802.3 L315.2 802.6 L315.7 802.7 L316.1 803.8 L316.6 803.0 L317.0 802.3 L317.5 803.8 L317.9 802.5 L318.4 802.5 L318.8 802.6 L319.3 801.9 L319.7 801.3 L320.2 802.2 L320.6 801.8 L321.1 801.2 L321.5 802.0 L322.0 801.7 L322.4 801.2 L322.9 800.1 L323.3 801.5 L323.8 803.3 L324.2 802.4 L324.7 802.5 L325.1 801.3 L325.6 802.4 L326.0 800.5 L326.5 800.6 L326.9 801.6 L327.4 799.3 L327.8 801.0 L328.3 801.2 L328.7 802.8 L329.2 799.8 L329.6 801.1 L330.1 799.6 L330.5 799.7 L331.0 796.7 L331.4 798.9 L331.9 801.7 L332.3 800.7 L332.8 800.1 L333.2 803.4 L333.7 800.5 L334.1 797.7 L334.6 799.1 L335.0 799.2 L335.5 801.7 L335.9 797.6 L336.4 799.6 L336.8 800.4 L337.3 797.3 L337.7 798.6 L338.2 795.0 L338.6 798.4 L339.1 794.2 L339.5 797.3 L340.0 800.8 L340.4 798.4 L340.9 797.6 L341.3 797.6 L341.8 801.2 L342.2 798.1 L342.7 798.9 L343.1 796.0 L343.6 795.9 L344.0 794.6 L344.5 796.1 L344.9 797.1 L345.4 798.1 L345.8 797.3 L346.3 795.7 L346.7 794.8 L347.2 790.0 L347.6 794.4 L348.1 796.1 L348.5 796.7 L349.0 789.1 L349.4 790.3 L349.9 795.4 L350.3 792.8 L350.8 794.4 L351.2 793.7 L351.7 795.8 L352.1 790.6 L352.6 793.1 L353.0 796.2 L353.5 793.7 L353.9 790.2 L354.4 791.7 L354.8 787.5 L355.3 781.5 L356.0 783.3 L356.6 784.5 L357.1 784.9 L357.5 790.9 L358.0 789.2 L358.4 794.0 L358.9 792.5 L359.3 790.8 L359.8 791.4 L360.2 795.3 L360.7 786.3 L361.1 791.6 L361.6 790.8 L362.0 790.4 L362.5 794.3 L362.9 797.1 L363.4 795.0 L363.8 793.0 L364.3 793.4 L364.7 790.8 L365.2 790.4 L365.6 788.7 L366.1 794.6 L366.5 790.4 L367.0 789.5 L367.4 789.3 L367.9 790.5 L368.3 787.2 L368.8 787.0 L369.2 785.0 L370.0 785.6 L370.6 780.3 L371.0 786.3 L371.5 786.3 L371.9 787.5 L372.4 792.7 L372.8 791.1 L373.3 788.7 L373.7 790.6 L374.2 788.6 L374.6 791.9 L375.1 788.1 L375.5 790.2 L376.0 788.5 L376.4 788.9 L376.9 788.5 L377.3 787.3 L377.8 788.8 L378.2 790.4 L378.7 786.1 L379.1 785.1 L379.6 784.1 L380.0 778.2 L380.5 777.7 L381.0 777.5 L381.4 769.8 L381.8 777.1 L382.3 784.3 L382.7 786.5 L383.2 788.2 L383.6 784.5 L384.1 785.6 L384.5 787.1 L385.0 786.3 L385.4 788.8 L385.9 789.3 L386.3 788.2 L386.8 789.3 L387.2 788.2 L387.7 784.9 L388.1 782.4 L388.6 779.1 L389.0 780.7 L389.5 777.6 L390.0 777.7 L390.4 775.8 L390.8 776.7 L391.3 780.7 L391.7 785.2 L392.2 785.0 L392.6 786.0 L393.1 783.9 L393.5 787.0 L394.0 787.4 L394.4 783.9 L394.9 790.2 L395.3 783.9 L395.8 788.3 L396.2 785.6 L396.7 786.4 L397.1 784.2 L397.6 784.7 L398.0 787.7 L398.5 785.6 L398.9 785.2 L399.4 788.1 L399.8 787.8 L400.3 786.4 L400.7 786.5 L401.2 790.1 L401.6 785.6 L402.1 786.9 L402.5 787.0 L403.0 782.4 L403.4 780.8 L403.9 785.7 L404.3 787.1 L404.8 784.7 L405.2 782.3 L405.7 781.7 L406.1 783.7 L406.6 779.4 L407.0 774.6 L407.5 778.6 L407.9 775.4 L408.4 773.2 L408.8 771.1 L409.3 770.4 L409.7 766.0 L410.2 763.1 L410.6 758.2 L411.1 762.5 L411.8 760.5 L412.4 764.0 L412.9 764.5 L413.3 765.1 L413.8 768.3 L414.2 767.4 L414.7 769.4 L415.1 770.8 L415.6 774.5 L416.0 779.5 L416.5 782.5 L416.9 779.4 L417.4 778.6 L417.8 789.5 L418.3 782.3 L418.7 785.6 L419.2 787.4 L419.6 789.1 L420.1 792.1 L420.5 790.5 L421.0 787.7 L421.4 785.9 L421.9 787.8 L422.3 788.0 L422.8 788.8 L423.2 786.1 L423.7 791.0 L424.1 786.6 L424.6 790.1 L425.0 789.0 L425.5 785.9 L425.9 788.7 L426.4 788.7 L426.8 788.2 L427.3 790.7 L427.7 787.7 L428.2 795.0 L428.6 791.6 L429.1 786.7 L429.5 783.0 L430.0 792.1 L430.4 789.7 L430.9 789.3 L431.3 781.9 L431.8 785.7 L432.2 784.7 L432.7 795.5 L433.1 793.2 L433.6 789.2 L434.0 793.9 L434.5 784.9 L434.9 791.1 L435.4 791.2 L435.8 787.4 L436.3 788.4 L436.7 787.0 L437.2 789.7 L437.6 792.8 L438.1 792.1 L438.5 790.7 L439.0 789.3 L439.4 785.4 L439.9 794.7 L440.3 789.7 L440.8 786.6 L441.2 788.9 L441.7 788.3 L442.1 790.2 L442.6 790.8 L443.0 781.6 L443.5 793.2 L443.9 794.3 L444.4 787.6 L444.8 793.8 L445.3 793.3 L445.7 792.7 L446.2 794.3 L446.6 786.8 L447.1 792.1 L447.5 787.8 L448.0 798.8 L448.4 788.0 L448.9 783.6 L449.3 793.2 L449.8 792.0 L450.2 784.5 L450.7 790.9 L451.1 792.1 L451.6 794.9 L452.0 788.8 L452.5 789.2 L452.9 789.2 L453.4 790.5 L453.8 790.8 L454.3 787.6 L454.7 791.5 L455.2 787.7 L455.6 790.1 L456.1 790.2 L456.5 790.3 L457.0 794.6 L457.4 795.0 L457.9 793.6 L458.3 794.9 L458.8 790.3 L459.2 794.5 L459.7 790.9 L460.1 791.7 L460.6 791.8 L461.0 787.8 L461.5 789.7 L461.9 790.8 L462.4 792.1 L462.8 790.9 L463.3 789.2 L463.7 788.4 L464.2 791.3 L464.6 788.4 L465.1 788.5 L465.5 791.1 L466.0 791.8 L466.4 789.4 L466.9 787.1 L467.3 792.2 L467.8 793.5 L468.2 790.5 L468.7 790.6 L469.1 785.9 L469.6 793.8 L470.0 788.9 L470.5 793.4 L470.9 790.2 L471.4 791.3 L471.8 791.3 L472.3 787.3 L472.7 798.5 L473.2 787.9 L473.6 792.1 L474.1 789.8 L474.5 791.3 L475.0 795.2 L475.4 787.3 L475.9 791.6 L476.3 793.1 L476.8 792.3 L477.2 792.9 L477.7 790.2 L478.1 788.0 L478.6 788.8 L479.0 791.1 L479.5 793.9 L479.9 792.3 L480.4 796.0 L480.8 792.4 L481.3 792.6 L481.7 792.7 L482.2 788.0 L482.6 793.6 L483.1 789.6 L483.5 791.4 L484.0 798.0 L484.4 789.3 L484.9 784.5 L485.3 793.1 L485.8 792.7 L486.2 792.4 L486.7 791.1 L487.1 797.3 L487.6 787.6 L488.0 790.0 L488.5 796.1 L488.9 793.8 L489.4 790.7 L489.8 790.4 L490.3 792.0 L490.7 799.0 L491.2 793.8 L491.6 790.1 L492.1 793.2 L492.5 791.2 L493.0 796.3 L493.4 793.4 L493.9 795.8 L494.3 793.1 L494.8 797.7 L495.2 793.8 L495.7 793.5 L496.1 790.4 L496.6 791.8 L497.0 793.8 L497.5 791.7 L497.9 798.9 L498.4 792.9 L498.8 791.1 L499.3 795.3 L499.7 791.7 L500.2 794.0 L500.6 792.8 L501.1 791.3 L501.5 796.4 L502.0 793.3 L502.4 795.7 L502.9 792.3 L503.3 789.7 L503.8 790.2 L504.2 791.9 L504.7 792.8 L505.1 793.4 L505.6 794.5 L506.0 790.3 L506.5 793.8 L506.9 790.4 L507.4 791.7 L507.8 799.5 L508.3 796.4 L508.7 792.5 L509.2 797.7 L509.6 796.8 L510.1 795.5 L510.5 796.9 L511.0 792.9 L511.4 793.2 L511.9 791.5 L512.3 794.9 L512.8 790.6 L513.2 792.4 L513.7 794.7 L514.1 792.4 L514.6 794.4 L515.0 798.0 L515.5 785.6 L515.9 797.0 L516.4 785.6 L516.8 791.5 L517.3 794.3 L517.7 796.2 L518.2 792.1 L518.6 792.1 L519.1 792.8 L519.5 792.1 L520.0 794.3 L520.4 792.2 L520.9 793.3 L521.3 794.7 L521.8 792.9 L522.2 796.6 L522.7 792.3 L523.1 792.1 L523.6 798.8 L524.0 797.5 L524.5 794.2 L524.9 796.0 L525.4 794.8 L525.8 792.9 L526.3 795.7 L526.7 794.8 L527.2 797.1 L527.6 789.8 L528.1 796.0 L528.5 794.6 L529.0 792.6 L529.4 793.2 L529.9 793.3 L530.3 791.1 L530.8 792.9 L531.2 796.1 L531.7 790.7 L532.1 793.4 L532.6 788.8 L533.0 793.0 L533.5 795.3 L533.9 794.3 L534.4 794.5 L534.8 791.8 L535.3 795.8 L535.7 792.3 L536.2 796.6 L536.6 795.0 L537.1 793.6 L537.5 798.0 L538.0 793.6 L538.4 796.9 L538.9 794.8 L539.3 794.6 L539.8 796.9 L540.2 795.6 L540.7 794.6 L541.1 794.4 L541.6 795.2 L542.0 794.9 L542.5 793.9 L542.9 792.3 L543.4 788.7 L543.8 794.5 L544.3 794.2 L544.7 797.6 L545.2 795.8 L545.6 797.4 L546.1 798.8 L546.5 794.6 L547.0 792.9 L547.4 796.8 L547.9 793.5 L548.3 794.3 L548.8 798.2 L549.2 796.2 L549.7 797.5 L550.1 791.9 L550.6 795.1 L551.0 797.6 L551.5 792.1 L551.9 795.5 L552.4 796.0 L552.8 789.8 L553.3 798.7 L553.7 793.5 L554.2 794.8 L554.6 799.0 L555.1 791.0 L555.5 795.3 L556.0 794.2 L556.4 795.3 L556.9 793.3 L557.3 798.3 L557.8 792.7 L558.2 796.1 L558.7 796.5 L559.1 795.1 L559.6 794.7 L560.0 794.7 L560.5 797.7 L560.9 796.4 L561.4 795.2 L561.8 792.9 L562.3 795.8 L562.7 796.6 L563.2 795.3 L563.6 798.7 L564.1 791.1 L564.5 801.1 L565.0 795.1 L565.4 792.9 L565.9 791.6 L566.3 797.5 L566.8 796.8 L567.2 795.1 L567.7 795.5 L568.1 796.0 L568.6 794.6 L569.0 798.7 L569.5 797.0 L569.9 795.4 L570.4 792.0 L570.8 798.8 L571.3 794.6 L571.7 793.4 L572.2 798.6 L572.6 796.9 L573.1 791.2 L573.5 792.0 L574.0 794.9 L574.4 792.4 L574.9 795.5 L575.3 801.7 L575.8 802.5 L576.2 795.7 L576.7 797.7 L577.1 797.9 L577.6 795.6 L578.0 794.1 L578.5 798.3 L578.9 795.5 L579.4 797.0 L579.8 797.5 L580.3 794.2 L580.7 795.5 L581.2 796.2 L581.6 796.5 L582.1 795.1 L582.5 797.6 L583.0 798.3 L583.4 794.8 L583.9 797.4 L584.3 795.1 L584.8 793.4 L585.2 795.4 L585.7 800.2 L586.1 797.4 L586.6 798.6 L587.0 794.7 L587.5 795.5 L587.9 796.4 L588.4 796.9 L588.8 796.0 L589.3 794.1 L589.7 792.8 L590.2 798.9 L590.6 798.7 L591.1 794.8 L591.5 799.6 L592.0 796.2 L592.4 797.3 L592.9 799.1 L593.3 795.3 L593.8 794.6 L594.2 792.5 L594.7 797.1 L595.1 797.4 L595.6 798.3 L596.0 797.8 L596.5 796.7 L596.9 799.0 L597.4 794.2 L597.8 797.3 L598.3 797.6 L598.7 796.2 L599.2 800.3 L599.6 797.5 L600.1 799.5 L600.5 798.5 L601.0 798.1 L601.4 800.8 L601.9 799.0 L602.3 799.3 L602.8 796.4 L603.2 794.3 L603.7 796.3 L604.1 794.2 L604.6 797.1 L605.0 795.7 L605.5 797.9 L605.9 796.5 L606.4 793.2 L606.8 795.6 L607.3 794.8 L607.7 793.9 L608.2 796.2 L608.6 798.8 L609.1 794.3 L609.5 792.4 L610.0 796.4 L610.4 803.4 L610.9 795.5 L611.3 797.4 L611.8 795.9 L612.2 798.7 L612.7 800.0 L613.1 796.5 L613.6 799.5 L614.0 794.5 L614.5 797.4 L614.9 794.2 L615.4 797.3 L615.8 795.6 L616.3 797.5 L616.7 794.5 L617.2 797.5 L617.6 797.2 L618.1 795.8 L618.5 795.3 L619.0 794.4 L619.4 796.2 L619.9 803.5 L620.3 796.8 L620.8 797.4 L621.2 799.8 L621.7 796.4 L622.1 797.7 L622.6 798.9 L623.0 798.2 L623.5 798.0 L623.9 797.3 L624.4 804.4 L624.8 797.0 L625.3 796.3 L625.7 798.5 L626.2 800.7 L626.6 800.3 L627.1 797.3 L627.5 799.0 L628.0 798.3 L628.4 797.4 L628.9 798.7 L629.3 798.6 L629.8 797.6 L630.2 798.9 L630.7 796.5 L631.1 800.3 L631.6 801.8 L632.0 801.9 L632.5 797.9 L632.9 797.0 L633.4 793.9 L633.8 797.2 L634.3 802.6 L634.7 794.0 L635.2 794.1 L635.6 799.2 L636.1 798.7 L636.5 793.5 L637.0 797.3 L637.4 798.2 L637.9 794.2 L638.3 799.5 L638.8 794.6 L639.2 799.9 L639.7 804.6 L640.1 796.0 L640.6 794.1 L641.0 796.8 L641.5 797.3 L641.9 797.3 L642.4 803.7 L642.8 797.1 L643.3 799.4 L643.7 795.6 L644.2 797.1 L644.6 798.6 L645.1 797.6 L645.5 799.4 L646.0 800.9 L646.4 796.9 L646.9 798.1 L647.3 791.4 L647.8 796.9 L648.2 799.1 L648.7 795.3 L649.1 800.5 L649.6 793.7 L650.0 800.5 L650.5 796.6 L650.9 795.6 L651.4 790.6 L651.8 797.2 L652.3 795.6 L652.7 790.6 L653.2 796.7 L653.6 799.8 L654.1 798.6 L654.5 797.6 L655.0 796.5 L655.4 797.1 L655.9 797.1 L656.3 798.1 L656.8 798.8 L657.2 801.5 L657.7 799.3 L658.1 798.2 L658.6 800.7 L659.0 796.2 L659.5 795.1 L659.9 799.3 L660.4 798.2 L660.8 798.2 L661.3 801.8 L661.7 797.2 L662.2 797.7 L662.6 802.7 L663.1 799.3 L663.5 800.0 L664.0 798.2 L664.4 801.3 L664.9 793.0 L665.3 800.5 L665.8 794.7 L666.2 797.9 L666.7 803.3 L667.1 797.3 L667.6 794.8 L668.0 801.4 L668.5 796.9 L668.9 797.7 L669.4 797.7 L669.8 799.6 L670.3 799.5 L670.7 797.8 L671.2 800.4 L671.6 796.2 L672.1 799.5 L672.5 796.8 L673.0 799.6 L673.4 796.8 L673.9 797.2 L674.3 801.2 L674.8 795.9 L675.2 795.8 L675.7 799.4 L676.1 797.6 L676.6 797.3 L677.0 797.9 L677.5 802.6 L677.9 796.1 L678.4 797.7 L678.8 798.6 L679.3 796.3 L679.7 798.2 L680.2 799.3 L680.6 796.4 L681.1 800.6 L681.5 796.0 L682.0 798.0 L682.4 799.0 L682.9 804.8 L683.3 794.8 L683.8 798.9 L684.2 803.5 L684.7 797.1 L685.1 804.6 L685.6 798.8 L686.0 795.5 L686.5 799.2 L686.9 796.6 L687.4 798.6 L687.8 795.4 L688.3 799.9 L688.7 793.5 L689.2 798.1 L689.6 801.0 L690.1 799.5 L690.5 797.7 L691.0 798.0 L691.4 797.6 L691.9 804.0 L692.3 798.4 L692.8 798.5 L693.2 797.0 L693.7 797.5 L694.1 799.7 L694.6 797.3 L695.0 796.9 L695.5 797.4 L695.9 797.8 L696.4 798.9 L696.8 797.6 L697.3 798.2 L697.7 797.1 L698.2 801.1 L698.6 798.8 L699.1 798.0 L699.5 799.2 L700.0 798.5 L700.4 795.5 L700.9 798.3 L701.3 801.9 L701.8 799.6 L702.2 801.0 L702.7 797.3 L703.1 795.7 L703.6 797.3 L704.0 801.4 L704.5 796.7 L704.9 797.1 L705.4 800.9 L705.8 798.2 L706.3 798.3 L706.7 799.5 L707.2 798.9 L707.6 798.1 L708.1 799.2 L708.5 797.3 L709.0 798.7 L709.4 800.1 L709.9 796.7 L710.3 798.4 L710.8 796.5 L711.2 800.3 L711.7 800.0 L712.1 800.7 L712.6 800.9 L713.0 800.8 L713.5 800.2 L713.9 797.3 L714.4 800.7 L714.8 797.1 L715.3 803.4 L715.7 799.4 L716.2 800.0 L716.6 796.5 L717.1 801.0 L717.5 801.2 L718.0 795.8 L718.4 800.7 L718.9 798.0 L719.3 797.7 L719.8 801.6 L720.2 803.2 L720.7 796.9 L721.1 801.0 L721.6 798.5 L722.0 801.6 L722.5 794.2 L722.9 798.1 L723.4 801.4 L723.8 797.5 L724.3 801.3 L724.7 798.0 L725.2 801.2 L725.6 800.2 L726.1 798.2 L726.5 797.6 L727.0 798.7 L727.4 801.3 L727.9 799.0 L728.3 797.8 L728.8 805.5 L729.2 796.0 L729.7 798.7 L730.1 800.1 L730.6 797.1 L731.0 799.1 L731.5 798.3 L731.9 794.3 L732.4 800.0 L732.8 796.9 L733.3 797.7 L733.7 801.5 L734.2 797.0 L734.6 800.3 L735.1 802.0 L735.5 801.1 L736.0 804.3 L736.4 798.7 L736.9 796.5 L737.3 799.5 L737.8 800.1 L738.2 798.2 L738.7 797.3 L739.1 800.9 L739.6 797.2 L740.0 800.1 L740.5 795.6 L740.9 796.0 L741.4 802.3 L741.8 800.4 L742.3 800.3 L742.7 796.6 L743.2 799.0 L743.6 799.8 L744.1 797.9 L744.5 802.4 L745.0 795.5 L745.4 800.6 L745.9 795.7 L746.3 796.3 L746.8 796.9 L747.2 800.4 L747.7 798.0 L748.1 795.4 L748.6 797.6 L749.0 796.5 L749.5 797.6 L749.9 797.5 L750.4 798.7 L750.8 798.6 L751.3 794.8 L751.7 798.1 L752.2 801.6 L752.6 798.5 L753.1 799.2 L753.5 798.0 L754.0 798.1 L754.4 799.2 L754.9 796.8 L755.3 799.0 L755.8 796.2 L756.2 800.0 L756.7 796.4 L757.1 800.6 L757.6 801.2 L758.0 796.3 L758.5 800.6 L758.9 798.6 L759.4 801.5 L759.8 798.4 L760.3 798.8 L760.7 798.8 L761.2 801.7 L761.6 795.8 L762.1 800.8 L762.5 799.6 L763.0 798.5 L763.4 799.0 L763.9 801.1 L764.3 800.9 L764.8 802.5 L765.2 798.2 L765.7 795.9 L766.1 798.4 L766.6 799.1 L767.0 798.6 L767.5 801.7 L767.9 803.6 L768.4 800.1 L768.8 796.2 L769.3 801.4 L769.7 798.3 L770.2 799.5 L770.6 801.0 L771.1 800.1 L771.5 799.4 L772.0 800.0 L772.4 800.9 L772.9 800.6 L773.3 803.3 L773.8 794.1 L774.2 794.7 L774.7 798.5 L775.1 801.0 L775.6 799.9 L776.0 801.1 L776.5 797.0 L776.9 799.2 L777.4 800.7 L777.8 799.5 L778.3 798.8 L778.7 805.6 L779.2 802.5 L779.6 795.8 L780.1 802.4 L780.5 800.1 L781.0 798.1 L781.4 800.8 L781.9 799.7 L782.3 801.8 L782.8 798.2 L783.2 801.4 L783.7 798.0 L784.1 800.2 L784.6 800.9 L785.0 799.5 L785.5 803.2 L785.9 798.6 L786.4 801.6 L786.8 798.8 L787.3 798.4 L787.7 799.5 L788.2 799.6 L788.6 798.2 L789.1 801.1 L789.5 799.5 L790.0 800.8 L790.4 797.1 L790.9 800.5 L791.3 799.2 L791.8 798.0 L792.2 799.5 L792.7 800.7 L793.1 800.2 L793.6 802.3 L794.0 801.1 L794.5 798.5 L794.9 800.7 L795.4 798.8 L795.8 800.7 L796.3 797.9 L796.7 802.1 L797.2 800.3 L797.6 799.3 L798.1 797.4 L798.5 800.3 L799.0 798.9 L799.4 800.3 L799.9 798.6 L800.3 798.9 L800.8 800.9 L801.2 802.4 L801.7 797.6 L802.1 799.5 L802.6 800.5 L803.0 799.6 L803.5 799.1 L803.9 803.6 L804.4 798.4 L804.8 800.5 L805.3 799.0 L805.7 799.7 L806.2 795.9 L806.6 801.4 L807.1 799.5 L807.5 798.2 L808.0 802.8 L808.4 799.4 L808.9 798.9 L809.3 798.5 L809.8 801.8 L810.2 800.0 L810.7 799.4 L811.1 797.7 L811.6 798.4 L812.0 800.5 L812.5 799.9 L812.9 796.5 L813.4 798.5 L813.8 800.4 L814.3 804.6 L814.7 798.7 L815.2 796.2 L815.6 801.3 L816.1 799.2 L816.5 797.7 L817.0 801.0 L817.4 799.6 L817.9 798.4 L818.3 802.1 L818.8 799.8 L819.2 800.2 L819.7 797.0 L820.1 801.7 L820.6 797.9 L821.0 802.4 L821.5 800.6 L821.9 799.7 L822.4 800.6 L822.8 799.1 L823.3 799.9 L823.7 802.8 L824.2 798.0 L824.6 801.5 L825.1 798.6 L825.5 800.0 L826.0 801.7 L826.4 798.1 L826.9 800.7 L827.3 796.5 L827.8 798.2 L828.2 799.4 L828.7 801.6 L829.1 805.5 L829.6 798.6 L830.0 799.9 L830.5 800.4 L830.9 797.5 L831.4 800.8 L831.8 802.4 L832.3 802.2 L832.7 799.2 L833.2 799.5 L833.6 798.6 L834.1 799.3 L834.5 799.7 L835.0 801.3 L835.4 800.3 L835.9 798.6 L836.3 801.5 L836.8 801.6 L837.2 799.2 L837.7 799.8 L838.1 800.0 L838.6 797.5 L839.0 800.4 L839.5 801.3 L839.9 803.4 L840.4 800.5 L840.8 799.8 L841.3 800.0 L841.7 801.2 L842.2 801.5 L842.6 798.8 L843.1 800.6 L843.5 801.3 L844.0 797.0 L844.4 802.5 L844.9 799.9 L845.3 801.7 L845.8 800.2 L846.2 799.9 L846.7 800.2 L847.1 800.8 L847.6 801.5 L848.0 799.9 L848.5 798.5 L848.9 799.2 L849.4 798.7 L849.8 801.5 L850.3 798.8 L850.7 802.8 L851.2 800.5 L851.6 800.2 L852.1 802.4 L852.5 799.7 L853.0 799.9 L853.4 801.6 L853.9 801.5 L854.3 798.7 L854.8 804.3 L855.2 801.3 L855.7 798.3 L856.1 800.1 L856.6 801.9 L857.0 800.7 L857.5 801.8 L857.9 804.2 L858.4 801.9 L858.8 803.6 L859.3 801.5 L859.7 799.3 L860.2 802.8 L860.6 799.3 L861.1 801.8 L861.5 801.5 L862.0 799.1 L862.4 799.3 L862.9 800.2 L863.3 801.1 L863.8 802.6 L864.2 800.6 L864.7 803.5 L865.1 801.9 L865.6 799.5 L866.0 799.5 L866.5 800.6 L866.9 799.7 L867.4 800.4 L867.8 801.8 L868.3 800.9 L868.7 802.1 L869.2 801.2 L869.6 799.2 L870.1 798.4 L870.5 800.6 L871.0 799.9 L871.4 800.7 L871.9 800.3 L872.3 800.6 L872.8 806.0 L873.2 798.9 L873.7 800.2 L874.1 799.8 L874.6 799.2 L875.0 802.7 L875.5 800.6 L875.9 802.6 L876.4 798.9 L876.8 803.6 L877.3 804.2 L877.7 799.3 L878.2 800.6 L878.6 800.4 L879.1 801.5 L879.5 798.6 L880.0 801.4 L880.4 801.8 L880.9 799.7 L881.3 797.2 L881.8 799.6 L882.2 800.1 L882.7 801.9 L883.1 799.7 L883.6 798.9 L884.0 801.6 L884.5 801.3 L884.9 801.8 L885.4 800.8 L885.8 802.3 L886.3 801.5 L886.7 797.9 L887.2 800.9 L887.6 801.7 L888.1 800.2 L888.5 802.2 L889.0 798.7 L889.4 799.0 L889.9 795.0 L890.3 795.1 L890.8 793.7 L891.5 792.8 L892.1 793.1 L892.6 796.0 L893.0 797.4 L893.5 796.7 L893.9 797.2 L894.4 798.1 L894.8 801.4 L895.3 797.5 L895.7 802.3 L896.2 798.2 L896.6 801.2 L897.1 806.0 L897.5 802.6 L898.0 800.2 L898.4 799.7 L898.9 798.7 L899.3 802.2 L899.8 800.6 L900.2 800.1 L900.7 800.2 L901.1 801.2 L901.6 800.9 L902.0 802.6 L902.5 797.6 L902.9 802.1 L903.4 797.5 L903.8 800.7 L904.3 800.4 L904.7 800.7 L905.2 802.0 L905.6 798.4 L906.1 798.7 L906.5 800.8 L907.0 800.7 L907.4 801.4 L907.9 800.9 L908.3 800.8 L908.8 802.4 L909.2 799.3 L909.7 804.1 L910.1 800.1 L910.6 799.4 L911.0 802.1 L911.5 802.5 L911.9 802.8 L912.4 795.9 L912.8 801.6 L913.3 801.0 L913.7 801.5 L914.2 800.9 L914.6 800.1 L915.1 803.3 L915.5 803.6 L916.0 801.0 L916.4 800.6 L916.9 800.2 L917.3 798.5 L917.8 800.0 L918.2 800.2 L918.7 800.9 L919.1 799.5 L919.6 798.2 L920.0 801.9 L920.5 803.5 L920.9 797.8 L921.4 800.8 L921.8 802.3 L922.3 799.3 L922.7 798.9 L923.2 801.1 L923.6 800.7 L924.1 800.1 L924.5 803.4 L925.0 803.2 L925.4 802.0 L925.9 800.9 L926.3 800.6 L926.8 802.3 L927.2 800.7 L927.7 803.2 L928.1 802.9 L928.6 800.2 L929.0 802.2 L929.5 806.0 L929.9 802.0 L930.4 799.7 L930.8 800.7 L931.3 800.6 L931.7 801.3 L932.2 801.1 L932.6 800.6 L933.1 802.4 L933.5 803.1 L934.0 800.3 L934.4 799.0 L934.9 801.7 L935.3 801.1 L935.8 801.8 L936.2 800.1 L936.7 801.6 L937.1 799.8 L937.6 802.8 L938.0 803.6 L938.5 799.8 L938.9 797.4 L939.4 800.5 L939.8 800.4 L940.3 801.5 L940.7 801.2 L941.2 801.9 L941.6 805.2 L942.1 800.4 L942.5 800.7 L943.0 801.9 L943.4 798.5 L943.9 802.4 L944.3 804.9 L944.8 799.1 L945.2 800.0 L945.7 802.0 L946.1 802.5 L946.6 803.1 L947.0 801.9 L947.5 796.4 L947.9 802.1 L948.4 801.2 L948.8 804.7 L949.3 798.3 L949.7 803.6 L950.2 802.4 L950.6 801.9 L951.1 801.2 L951.5 800.5 L952.0 799.9 L952.4 799.1 L952.9 804.3 L953.3 802.7 L953.8 802.3 L954.2 801.9 L954.7 798.6 L955.1 800.9 L955.6 801.5 L956.0 803.0 L956.5 799.9 L956.9 801.8 L957.4 801.0 L957.8 801.4 L958.3 800.2 L958.7 801.9 L959.2 801.5 L959.6 798.7 L960.1 803.1 L960.5 804.6 L961.0 800.1 L961.4 803.1 L961.9 800.0 L962.3 800.6 L962.8 804.0 L963.2 800.6 L963.7 803.6 L964.1 801.9 L964.6 802.9 L965.0 801.2 L965.5 803.5 L965.9 804.0 L966.4 802.4 L966.8 800.6 L967.3 800.9 L967.7 800.1 L968.2 802.3 L968.6 802.2 L969.1 800.5 L969.5 802.8 L970.0 799.8 L970.4 804.1 L970.9 802.7 L971.3 798.9 L971.8 800.5 L972.2 800.1 L972.7 798.9 L973.1 802.6 L973.6 799.9 L974.0 803.4 L974.5 801.7 L974.9 803.5 L975.4 798.1 L975.8 800.7 L976.3 801.8 L976.7 802.6 L977.2 799.7 L977.6 802.0 L978.1 800.4 L978.5 802.7 L979.0 801.2 L979.4 801.1 L979.9 802.2 L980.3 803.2 L980.8 801.2 L981.2 803.3 L981.7 800.2 L982.1 802.0 L982.6 800.0 L983.0 801.9 L983.5 800.3 L983.9 801.6 L984.4 802.5 L984.8 800.2 L985.3 799.1 L985.7 801.4 L986.2 802.3 L986.6 801.9 L987.1 800.3 L987.5 802.8 L988.0 801.2 L988.4 799.5 L988.9 800.4 L989.3 802.2 L989.8 803.3 L990.2 800.7 L990.7 801.2 L991.1 802.5 L991.6 802.4 L992.0 802.1 L992.5 801.5 L992.9 799.4 L993.4 801.6 L993.8 799.8 L994.3 801.8 L994.7 798.4 L995.2 803.7 L995.6 804.3 L996.1 802.3 L996.5 800.5 L997.0 801.2 L997.4 803.2 L997.9 802.6 L998.3 800.7 L998.8 805.1 L999.2 802.7 L999.7 802.4 L1000.1 801.2 L1000.6 801.7 L1001.0 800.7 L1001.5 801.9 L1001.9 800.8 L1002.4 803.3 L1002.8 801.7 L1003.3 802.0 L1003.7 802.2 L1004.2 802.1 L1004.6 799.7 L1005.1 803.5 L1005.5 801.8 L1006.0 800.9 L1006.4 800.4 L1006.9 800.8 L1007.3 800.9 L1007.8 801.7 L1008.2 800.5 L1008.7 801.9 L1009.1 801.9 L1009.6 800.8 L1010.0 804.8 L1010.5 801.6 L1010.9 802.2 L1011.4 797.6 L1011.8 801.5 L1012.3 802.7 L1012.7 803.6 L1013.2 801.3 L1013.6 800.6 L1014.1 802.5 L1014.5 798.8 L1015.0 803.6 L1015.4 801.5 L1015.9 802.2 L1016.3 799.7 L1016.8 801.2 L1017.2 800.3 L1017.7 801.0 L1018.1 796.9 L1018.6 801.5 L1019.0 800.9 L1019.5 803.4 L1019.9 801.8 L1020.4 799.9 L1020.8 800.3 L1021.3 802.3 L1021.7 802.4 L1022.2 802.1 L1022.6 802.1 L1023.1 800.5 L1023.5 801.6 L1024.0 800.1 L1024.4 800.6 L1024.9 800.5 L1025.3 800.6 L1025.8 801.3 L1026.2 801.4 L1026.7 800.7 L1027.1 803.2 L1027.6 801.1 L1028.0 803.8 L1028.5 803.1 L1028.9 800.1 L1029.4 803.0 L1029.8 799.8 L1030.3 803.7 L1030.7 802.2 L1031.2 800.4 L1031.6 798.8 L1032.1 801.2 L1032.5 799.9 L1033.0 803.2 L1033.4 800.1 L1033.9 801.4 L1034.3 802.4 L1034.8 801.8 L1035.2 802.1 L1035.7 801.4 L1036.1 802.7 L1036.6 800.5 L1037.0 802.5 L1037.5 800.1 L1037.9 802.0 L1038.4 800.2 L1038.8 801.5 L1039.3 802.5 L1039.7 803.4 L1040.2 799.3 L1040.6 800.7 L1041.1 800.4 L1041.5 803.4 L1042.0 800.6 L1042.4 806.4 L1042.9 801.1 L1043.3 799.8 L1043.8 801.9 L1044.2 800.2 L1044.7 802.8 L1045.1 802.9 L1045.6 803.6 L1046.0 800.4 L1046.5 803.9 L1046.9 803.1 L1047.4 799.4 L1047.8 804.8 L1048.3 804.1 L1048.7 800.4 L1049.2 802.2 L1049.6 800.0 L1050.1 801.6 L1050.5 802.1 L1051.0 802.6 L1051.4 800.7 L1051.9 801.8 L1052.3 800.6 L1052.8 802.3 L1053.2 802.7 L1053.7 798.1 L1054.1 803.4 L1054.6 802.8 L1055.0 802.3 L1055.5 803.4 L1055.9 800.2 L1056.4 801.8 L1056.8 799.5 L1057.3 801.8 L1057.7 801.2 L1058.2 803.0 L1058.6 801.3 L1059.1 801.0 L1059.5 801.7 L1060.0 801.7 L1060.4 802.6 L1060.9 800.7 L1061.3 799.9 L1061.8 799.8 L1062.2 803.4 L1062.7 800.2 L1063.1 801.3 L1063.6 800.4 L1064.0 803.1 L1064.5 801.1 L1064.9 803.5 L1065.4 801.0 L1065.8 802.3 L1066.3 802.9 L1066.7 803.2 L1067.2 800.3 L1067.6 801.4 L1068.1 801.8 L1068.5 799.5 L1069.0 802.9 L1069.4 802.4 L1069.9 802.6 L1070.3 800.1 L1070.8 802.2 L1071.2 802.5 L1071.7 806.5 L1072.1 801.3 L1072.6 802.8 L1073.0 804.6 L1073.5 801.4 L1073.9 801.4 L1074.4 801.5 L1074.8 800.0 L1075.3 801.5 L1075.7 804.1 L1076.2 800.7 L1076.6 801.7 L1077.1 802.7 L1077.5 802.7 L1078.0 802.3 L1078.4 801.5 L1078.9 801.8 L1079.3 802.0 L1079.8 802.9 L1080.2 802.1 L1080.7 804.9 L1081.1 799.6 L1081.6 803.1 L1082.0 801.3 L1082.5 802.0 L1082.9 801.5 L1083.4 802.9 L1083.8 801.9 L1084.3 802.9 L1084.7 801.0 L1085.2 801.8 L1085.6 803.7 L1086.1 803.5 L1086.5 798.3 L1087.0 802.2 L1087.4 801.6 L1087.9 801.9 L1088.3 802.1 L1088.8 803.6 L1089.2 802.8 L1089.7 804.0 L1090.1 804.1 L1090.6 800.4 L1091.0 802.5 L1091.5 801.5 L1091.9 800.0 L1092.4 800.7 L1092.8 801.4 L1093.3 804.3 L1093.7 802.2 L1094.2 797.6 L1094.6 802.1 L1095.1 801.1 L1095.5 802.3 L1096.0 802.0 L1096.4 800.0 L1096.9 801.4 L1097.3 806.5 L1097.8 802.9 L1098.2 802.0 L1098.7 803.0 L1099.1 800.9 L1099.6 806.6 L1100.0 803.3 L1100.5 800.1 L1100.9 801.2 L1101.4 801.6 L1101.8 801.8 L1102.3 801.5 L1102.7 802.5 L1103.2 803.5 L1103.6 802.6 L1104.1 803.5 L1104.5 803.5 L1105.0 801.4 L1105.4 802.5 L1105.9 801.7 L1106.3 803.0 L1106.8 801.7 L1107.2 801.9 L1107.7 804.4 L1108.1 802.0 L1108.6 800.2 L1109.0 802.3 L1109.5 802.6 L1109.9 801.5 L1110.4 802.3 L1110.8 803.5 L1111.3 801.5 L1111.7 802.0 L1112.2 797.8 L1112.6 802.6 L1113.1 802.1 L1113.5 801.0 L1114.0 802.0 L1114.4 804.6 L1114.9 800.1 L1115.3 800.5 L1115.8 802.7 L1116.2 800.5 L1116.7 804.7 L1117.1 799.5 L1117.6 800.6 L1118.0 801.6 L1118.5 803.6 L1118.9 803.3 L1119.4 803.0 L1119.8 802.6 L1120.3 803.9 L1120.7 800.0 L1121.2 802.6 L1121.6 804.1 L1122.1 800.9 L1122.5 802.7 L1123.0 803.8 L1123.4 803.9 L1123.9 806.0 L1124.3 804.6 L1124.8 802.9 L1125.2 803.6 L1125.7 800.9 L1126.1 801.3 L1126.6 801.3 L1127.0 804.5 L1127.5 799.4 L1127.9 800.0 L1128.4 803.3 L1128.8 802.5 L1129.3 798.6 L1129.7 801.8 L1130.2 801.9 L1130.6 803.8 L1131.1 799.9 L1131.5 801.7 L1132.0 803.7 L1132.4 803.3 L1132.9 801.2 L1133.3 802.0 L1133.8 800.5 L1134.2 804.0 L1134.7 801.8 L1135.1 803.9 L1135.6 803.4 L1136.0 801.3 L1136.5 802.2 L1136.9 803.2 L1137.4 802.9 L1137.8 804.3 L1138.3 803.8 L1138.7 802.8 L1139.2 803.2 L1139.6 801.5 L1140.1 801.6 L1140.5 803.1 L1141.0 802.8 L1141.4 801.0 L1141.9 802.3 L1142.3 801.4 L1142.8 802.5 L1143.2 804.0 L1143.7 801.2 L1144.1 801.6 L1144.6 803.1 L1145.0 802.5 L1145.5 802.6 L1145.9 800.6 L1146.4 802.4 L1146.8 802.0 L1147.3 801.9 L1147.7 801.7 L1148.2 802.1 L1148.6 803.5 L1149.1 804.8 L1149.5 802.6 L1150.0 804.3 L1150.4 802.6 L1150.9 800.6 L1151.3 802.5 L1151.8 804.0 L1152.2 804.2 L1152.7 801.4 L1153.1 805.2 L1153.6 801.6 L1154.0 801.6 L1154.5 801.8 L1154.9 804.3 L1155.4 803.0 L1155.8 803.6 L1156.3 799.8 L1156.7 802.4 L1157.2 802.4 L1157.6 803.4 L1158.1 801.9 L1158.5 804.0 L1159.0 801.7 L1159.4 800.8 L1159.9 800.5 L1160.3 804.1 L1160.8 803.4 L1161.2 801.6 L1161.7 803.9 L1162.1 802.3 L1162.6 802.4 L1163.0 800.8 L1163.5 801.9 L1163.9 798.2 L1164.4 802.8 L1164.8 801.9 L1165.3 802.0 L1165.7 804.3 L1166.2 801.6 L1166.6 803.0 L1167.1 800.7 L1167.5 803.1 L1168.0 801.4 L1168.4 802.4 L1168.9 802.8 L1169.3 798.7 L1169.8 803.8 L1170.2 801.6 L1170.7 802.0 L1171.1 803.0 L1171.6 798.3 L1172.0 802.9 L1172.5 802.3 L1172.9 802.6 L1173.4 803.4 L1173.8 802.7 L1174.3 803.7 L1174.7 804.2 L1175.2 802.2 L1175.6 801.7 L1176.1 802.1 L1176.5 801.8 L1177.0 800.2 L1177.4 806.8 L1177.9 803.1 L1178.3 805.4 L1178.8 802.0 L1179.2 803.3 L1179.7 803.0 L1180.1 802.6 L1180.6 801.7 L1181.0 802.7 L1181.5 802.6 L1181.9 802.8 L1182.4 800.0 L1182.8 801.8 L1183.3 801.8 L1183.7 804.6 L1184.2 803.4 L1184.6 803.6 L1185.1 803.4 L1185.5 802.4 L1186.0 804.6 L1186.4 802.4 L1186.9 801.0 L1187.3 803.4 L1187.8 804.1 L1188.2 801.0 L1188.7 803.1 L1189.1 803.8 L1189.6 804.5 L1190.0 803.4 L1190.5 804.7 L1190.9 803.0 L1191.4 805.2 L1191.8 801.1 L1192.3 803.8 L1192.7 803.1 L1193.2 802.9 L1193.6 801.2 L1194.1 804.0 L1194.5 802.5 L1195.0 801.6 L1195.4 802.0 L1195.9 802.5 L1196.3 802.9 L1196.8 801.7 L1197.2 801.7 L1197.7 803.2 L1198.1 802.7 L1198.6 805.1 L1199.0 802.3 L1199.5 803.6 L1199.9 804.8 L1200.4 802.5 L1200.8 803.9 L1201.3 803.1 L1201.7 802.8 L1202.2 804.6 L1202.6 801.6 L1203.1 802.1 L1203.5 800.7 L1204.0 802.6 L1204.4 803.9 L1204.9 802.5 L1205.3 803.7 L1205.8 801.9 L1206.2 804.1 L1206.7 802.7 L1207.1 802.2 L1207.6 804.7 L1208.0 802.8 L1208.5 803.5 L1208.9 802.9 L1209.4 803.6 L1209.8 802.9 L1210.3 801.4 L1210.7 803.1 L1211.2 803.4 L1211.6 803.3 L1212.1 802.5 L1212.5 804.9 L1213.0 802.0 L1213.4 803.0 L1213.9 803.1 L1214.3 801.6 L1214.8 802.5 L1215.2 803.6 L1215.7 803.6 L1216.1 803.0 L1216.6 801.0 L1217.0 802.5 L1217.5 803.1 L1217.9 803.6 L1218.4 804.2 L1218.8 803.4 L1219.3 804.0 L1219.7 804.8 L1220.2 800.2 L1220.6 804.0 L1221.1 802.4 L1221.5 803.4 L1222.0 803.1 L1222.4 801.7 L1222.9 801.8 L1223.3 803.4 L1223.8 802.7 L1224.0 803.7" fill="none" stroke="#000000" stroke-width="2.7" stroke-linejoin="round"/>
<path d="M277.0 558.9 L277.4 558.3 L277.9 558.6 L278.3 558.5 L278.8 557.7 L279.2 559.5 L279.7 557.3 L280.1 559.4 L280.6 559.2 L281.0 558.3 L281.5 557.7 L281.9 558.1 L282.4 558.6 L282.8 558.8 L283.3 558.4 L283.7 558.9 L284.2 557.3 L284.6 556.6 L285.1 552.5 L285.5 551.8 L286.0 548.5 L286.4 545.8 L286.9 545.6 L287.3 543.6 L287.8 538.7 L288.2 539.9 L288.7 537.1 L289.1 538.6 L289.6 539.1 L290.0 534.6 L290.5 530.5 L290.9 523.3 L291.4 509.6 L291.8 488.0 L292.3 459.2 L292.7 416.0 L293.2 374.2 L293.6 334.6 L294.1 307.5 L294.5 300.0 L295.0 314.8 L295.4 347.4 L295.9 389.7 L296.3 436.3 L296.8 478.5 L297.2 507.0 L297.7 529.3 L298.1 543.6 L298.6 550.9 L299.0 556.0 L299.5 557.3 L299.9 558.9 L300.4 560.9 L300.8 559.0 L301.3 558.8 L301.7 560.3 L302.2 556.2 L302.6 559.3 L303.1 558.2 L303.5 558.2 L304.0 557.3 L304.4 556.2 L304.9 557.9 L305.3 557.1 L305.8 558.1 L306.2 554.6 L306.7 556.7 L307.1 552.2 L307.6 544.5 L308.0 537.4 L308.5 531.1 L308.9 519.0 L309.4 515.6 L310.0 513.4 L310.7 520.5 L311.2 524.7 L311.6 532.9 L312.1 539.6 L312.5 547.4 L313.0 555.3 L313.4 555.3 L313.9 555.6 L314.3 554.7 L314.8 555.3 L315.2 555.0 L315.7 558.5 L316.1 556.4 L316.6 557.6 L317.0 556.5 L317.5 557.6 L317.9 557.4 L318.4 556.3 L318.8 556.8 L319.3 556.1 L319.7 558.7 L320.2 555.7 L320.6 559.6 L321.1 555.1 L321.5 555.0 L322.0 558.0 L322.4 561.9 L322.9 557.4 L323.3 558.7 L323.8 557.5 L324.2 555.2 L324.7 556.6 L325.1 556.6 L325.6 555.6 L326.0 559.9 L326.5 552.9 L326.9 556.4 L327.4 555.8 L327.8 553.6 L328.3 554.3 L328.7 554.9 L329.2 552.9 L329.6 552.7 L330.1 552.5 L330.5 544.5 L331.0 552.7 L331.4 553.4 L331.9 550.3 L332.3 553.5 L332.8 544.1 L333.2 542.1 L333.7 543.2 L334.1 542.7 L334.6 544.7 L335.0 540.7 L335.5 541.3 L335.9 537.7 L336.4 540.7 L336.8 541.2 L337.3 540.0 L337.7 540.4 L338.2 545.8 L338.6 540.6 L339.1 541.5 L339.5 542.5 L340.0 546.7 L340.4 548.7 L340.9 545.6 L341.3 543.7 L341.8 544.2 L342.2 547.0 L342.7 543.3 L343.1 547.6 L343.6 547.5 L344.0 545.0 L344.5 546.0 L344.9 546.2 L345.4 547.7 L345.8 542.7 L346.3 546.9 L346.7 543.9 L347.2 543.1 L347.6 544.7 L348.1 544.0 L348.5 542.5 L349.0 541.3 L349.4 542.5 L349.9 547.0 L350.3 547.9 L350.8 545.3 L351.2 546.3 L351.7 543.0 L352.1 543.8 L352.6 544.5 L353.0 542.1 L353.5 542.0 L353.9 544.0 L354.4 537.3 L354.8 541.8 L355.3 544.5 L355.7 543.2 L356.2 545.7 L356.6 543.7 L357.1 543.1 L357.5 543.9 L358.0 543.3 L358.4 542.3 L358.9 542.8 L359.3 545.0 L359.8 544.8 L360.2 546.0 L360.7 537.1 L361.1 542.7 L361.6 542.6 L362.0 543.7 L362.5 542.4 L362.9 542.3 L363.4 544.8 L363.8 543.6 L364.3 542.8 L364.7 545.8 L365.2 545.1 L365.6 539.7 L366.1 544.6 L366.5 541.5 L367.0 545.1 L367.4 542.3 L367.9 541.1 L368.3 541.8 L368.8 540.9 L369.2 542.7 L369.7 542.5 L370.1 542.1 L370.6 540.8 L371.0 534.9 L371.5 541.9 L371.9 537.6 L372.4 541.9 L372.8 543.7 L373.3 541.7 L373.7 540.2 L374.2 540.6 L374.6 540.5 L375.1 539.5 L375.5 539.1 L376.0 538.1 L376.4 542.7 L376.9 539.5 L377.3 541.1 L377.8 538.4 L378.2 538.1 L378.7 536.7 L379.1 536.0 L379.6 535.1 L380.0 531.0 L380.5 525.8 L380.9 522.3 L381.4 521.0 L381.8 511.0 L382.3 502.0 L382.7 496.6 L383.2 477.1 L383.6 463.4 L384.1 441.7 L384.5 424.7 L385.0 396.6 L385.4 373.5 L385.9 348.6 L386.3 320.9 L386.8 296.4 L387.2 273.8 L387.7 253.9 L388.1 237.2 L388.6 225.3 L389.0 219.3 L389.5 219.0 L389.5 219.0 L389.9 223.1 L390.4 230.4 L390.8 240.6 L391.3 252.5 L391.7 266.9 L392.2 285.4 L392.6 301.3 L393.1 323.4 L393.5 344.8 L394.0 368.2 L394.4 391.3 L394.9 412.6 L395.3 432.4 L395.8 451.0 L396.2 475.7 L396.7 485.1 L397.1 507.1 L397.6 514.6 L398.0 538.5 L398.5 545.9 L398.9 543.6 L399.4 540.6 L399.8 539.3 L400.3 530.9 L400.7 531.5 L401.2 532.0 L401.6 532.1 L402.1 532.3 L402.5 533.7 L403.0 528.6 L403.4 521.1 L403.9 517.9 L404.3 513.1 L405.0 521.0 L405.7 513.0 L406.1 518.4 L406.6 521.7 L407.0 518.7 L407.5 527.0 L407.9 518.6 L408.4 525.2 L409.0 520.4 L409.7 510.8 L410.2 510.8 L410.6 509.0 L411.1 505.1 L411.5 499.7 L412.0 502.0 L412.4 496.8 L413.0 499.6 L413.8 497.8 L414.2 502.3 L414.7 502.6 L415.1 509.6 L415.6 518.8 L416.0 520.5 L416.5 522.5 L416.9 523.5 L417.4 529.4 L417.8 532.5 L418.3 532.3 L418.7 531.2 L419.2 536.0 L419.6 543.5 L420.1 537.8 L420.5 542.5 L421.0 545.6 L421.4 539.6 L421.9 548.3 L422.3 546.1 L422.8 551.7 L423.2 554.2 L423.7 546.3 L424.1 547.8 L424.6 548.7 L425.0 547.1 L425.5 548.3 L425.9 545.5 L426.4 548.0 L426.8 550.1 L427.3 552.5 L427.7 550.0 L428.2 549.2 L428.6 550.9 L429.1 550.7 L429.5 551.9 L430.0 550.8 L430.4 548.6 L430.9 549.3 L431.3 549.2 L431.8 549.4 L432.2 549.3 L432.7 542.4 L433.1 547.1 L433.6 547.6 L434.0 545.1 L434.5 549.1 L434.9 550.9 L435.4 545.8 L435.8 550.3 L436.3 550.6 L436.7 549.2 L437.2 552.1 L437.6 552.5 L438.1 546.7 L438.5 551.0 L439.0 549.8 L439.4 549.8 L439.9 550.8 L440.3 547.6 L440.8 547.9 L441.2 547.4 L441.7 547.6 L442.1 548.8 L442.6 546.3 L443.0 547.0 L443.5 543.5 L443.9 548.9 L444.4 549.7 L444.8 545.5 L445.3 542.6 L445.7 548.0 L446.2 549.1 L446.6 547.9 L447.1 550.8 L447.5 548.9 L448.0 549.0 L448.4 549.0 L448.9 550.3 L449.3 548.1 L449.8 551.1 L450.2 549.9 L450.7 549.3 L451.1 549.1 L451.6 550.0 L452.0 550.9 L452.5 550.8 L452.9 549.7 L453.4 550.7 L453.8 549.2 L454.3 551.4 L454.7 549.0 L455.2 545.1 L455.6 551.5 L456.1 549.2 L456.5 546.8 L457.0 548.6 L457.4 547.4 L457.9 552.9 L458.3 549.9 L458.8 546.1 L459.2 550.0 L459.7 548.3 L460.1 552.6 L460.6 547.1 L461.0 544.8 L461.5 549.1 L461.9 548.4 L462.4 548.2 L462.8 545.0 L463.3 549.8 L463.7 552.1 L464.2 545.5 L464.6 551.2 L465.1 548.0 L465.5 553.4 L466.0 553.2 L466.4 548.7 L466.9 551.1 L467.3 550.0 L467.8 547.9 L468.2 550.3 L468.7 548.1 L469.1 545.7 L469.6 552.8 L470.0 548.4 L470.5 543.4 L470.9 549.7 L471.4 543.3 L471.8 546.5 L472.3 548.1 L472.7 548.1 L473.2 549.2 L473.6 551.1 L474.1 550.4 L474.5 549.9 L475.0 550.1 L475.4 547.0 L475.9 549.4 L476.3 547.3 L476.8 551.0 L477.2 549.9 L477.7 549.1 L478.1 546.6 L478.6 549.2 L479.0 547.6 L479.5 550.3 L479.9 548.8 L480.4 547.5 L480.8 550.7 L481.3 550.4 L481.7 547.9 L482.2 551.2 L482.6 548.5 L483.1 548.5 L483.5 549.3 L484.0 547.6 L484.4 548.2 L484.9 548.7 L485.3 551.8 L485.8 551.8 L486.2 547.0 L486.7 552.0 L487.1 548.9 L487.6 549.7 L488.0 550.7 L488.5 549.6 L488.9 553.5 L489.4 549.5 L489.8 546.8 L490.3 551.4 L490.7 548.3 L491.2 548.5 L491.6 543.6 L492.1 550.9 L492.5 550.5 L493.0 550.5 L493.4 550.8 L493.9 552.1 L494.3 549.0 L494.8 550.7 L495.2 547.7 L495.7 548.4 L496.1 551.0 L496.6 549.7 L497.0 546.6 L497.5 549.7 L497.9 548.7 L498.4 547.6 L498.8 549.8 L499.3 548.3 L499.7 546.1 L500.2 546.9 L500.6 552.3 L501.1 545.8 L501.5 549.1 L502.0 549.2 L502.4 549.2 L502.9 545.9 L503.3 544.7 L503.8 542.5 L504.2 540.5 L504.7 535.2 L505.1 527.5 L505.6 520.7 L506.0 508.9 L506.5 492.7 L506.9 476.9 L507.4 459.5 L507.8 438.8 L508.3 418.1 L508.7 396.1 L509.2 378.8 L509.6 363.7 L510.1 353.3 L510.7 348.0 L511.4 356.2 L511.9 368.1 L512.3 384.8 L512.8 403.1 L513.2 424.3 L513.7 446.2 L514.1 465.0 L514.6 485.9 L515.0 498.2 L515.5 511.1 L515.9 523.4 L516.4 531.3 L516.8 539.9 L517.3 542.3 L517.7 542.7 L518.2 547.9 L518.6 546.2 L519.1 545.5 L519.5 553.7 L520.0 549.7 L520.4 550.7 L520.9 550.6 L521.3 552.8 L521.8 550.2 L522.2 551.9 L522.7 547.9 L523.1 547.3 L523.6 552.3 L524.0 552.4 L524.5 550.7 L524.9 550.1 L525.4 550.0 L525.8 548.0 L526.3 551.9 L526.7 549.6 L527.2 548.2 L527.6 542.5 L528.1 545.6 L528.5 540.0 L529.0 538.4 L529.4 530.5 L529.9 529.1 L530.3 527.9 L530.8 518.2 L531.2 517.0 L531.7 519.3 L531.7 519.1 L532.1 519.1 L532.6 515.1 L533.0 525.2 L533.5 528.2 L533.9 532.1 L534.4 538.1 L534.8 538.9 L535.3 545.8 L535.7 552.0 L536.2 548.1 L536.6 550.2 L537.1 547.6 L537.5 548.6 L538.0 549.3 L538.4 549.5 L538.9 548.5 L539.3 549.3 L539.8 550.2 L540.2 548.8 L540.7 548.0 L541.1 548.1 L541.6 551.4 L542.0 550.7 L542.5 552.4 L542.9 552.4 L543.4 550.0 L543.8 551.8 L544.3 548.1 L544.7 554.7 L545.2 552.8 L545.6 550.3 L546.1 548.6 L546.5 551.4 L547.0 547.4 L547.4 549.3 L547.9 552.1 L548.3 550.9 L548.8 549.9 L549.2 552.5 L549.7 549.0 L550.1 551.3 L550.6 549.9 L551.0 549.3 L551.5 551.7 L551.9 549.1 L552.4 554.2 L552.8 544.9 L553.3 554.4 L553.7 549.0 L554.2 552.0 L554.6 548.8 L555.1 548.6 L555.5 551.2 L556.0 552.2 L556.4 548.7 L556.9 553.1 L557.3 549.6 L557.8 551.2 L558.2 551.7 L558.7 552.1 L559.1 547.9 L559.6 553.9 L560.0 552.1 L560.5 550.3 L560.9 549.3 L561.4 548.1 L561.8 548.7 L562.3 552.1 L562.7 550.6 L563.2 549.2 L563.6 550.2 L564.1 553.9 L564.5 550.6 L565.0 550.2 L565.4 553.6 L565.9 552.0 L566.3 551.3 L566.8 550.2 L567.2 548.6 L567.7 549.2 L568.1 550.4 L568.6 550.9 L569.0 551.9 L569.5 552.3 L569.9 551.7 L570.4 551.7 L570.8 549.6 L571.3 547.6 L571.7 550.5 L572.2 549.7 L572.6 550.3 L573.1 550.9 L573.5 549.3 L574.0 549.5 L574.4 553.5 L574.9 551.7 L575.3 550.3 L575.8 552.3 L576.2 551.1 L576.7 549.7 L577.1 551.6 L577.6 554.8 L578.0 550.4 L578.5 553.6 L578.9 553.9 L579.4 554.2 L579.8 550.1 L580.3 555.1 L580.7 551.8 L581.2 551.2 L581.6 551.2 L582.1 552.7 L582.5 551.7 L583.0 551.3 L583.4 553.9 L583.9 550.4 L584.3 549.9 L584.8 553.1 L585.2 552.9 L585.7 553.6 L586.1 549.9 L586.6 553.6 L587.0 552.6 L587.5 554.8 L587.9 549.6 L588.4 552.2 L588.8 547.7 L589.3 549.0 L589.7 550.6 L590.2 553.7 L590.6 551.0 L591.1 550.6 L591.5 553.3 L592.0 553.5 L592.4 553.5 L592.9 550.5 L593.3 551.8 L593.8 553.6 L594.2 550.8 L594.7 550.6 L595.1 553.3 L595.6 554.6 L596.0 549.9 L596.5 547.5 L596.9 549.5 L597.4 550.2 L597.8 551.7 L598.3 553.0 L598.7 551.7 L599.2 550.8 L599.6 552.3 L600.1 550.4 L600.5 551.9 L601.0 550.9 L601.4 556.6 L601.9 553.4 L602.3 550.6 L602.8 550.4 L603.2 551.3 L603.7 549.3 L604.1 550.8 L604.6 550.8 L605.0 553.6 L605.5 551.4 L605.9 550.8 L606.4 549.8 L606.8 550.1 L607.3 552.0 L607.7 551.8 L608.2 554.1 L608.6 551.1 L609.1 554.0 L609.5 552.6 L610.0 552.2 L610.4 548.8 L610.9 555.0 L611.3 553.5 L611.8 554.6 L612.2 552.6 L612.7 553.5 L613.1 551.5 L613.6 551.6 L614.0 551.1 L614.5 553.9 L614.9 552.8 L615.4 551.9 L615.8 551.7 L616.3 553.2 L616.7 552.8 L617.2 550.9 L617.6 555.2 L618.1 552.8 L618.5 552.3 L619.0 554.8 L619.4 554.1 L619.9 552.2 L620.3 553.3 L620.8 550.6 L621.2 551.3 L621.7 548.6 L622.1 554.4 L622.6 549.2 L623.0 553.5 L623.5 551.0 L623.9 550.8 L624.4 552.1 L624.8 552.9 L625.3 553.5 L625.7 555.4 L626.2 553.1 L626.6 553.9 L627.1 551.5 L627.5 553.7 L628.0 552.7 L628.4 551.7 L628.9 552.3 L629.3 552.4 L629.8 552.8 L630.2 553.2 L630.7 551.7 L631.1 551.3 L631.6 553.8 L632.0 549.7 L632.5 551.5 L632.9 555.2 L633.4 546.9 L633.8 551.4 L634.3 553.7 L634.7 549.8 L635.2 556.9 L635.6 548.3 L636.1 555.0 L636.5 555.2 L637.0 554.1 L637.4 552.3 L637.9 553.2 L638.3 551.1 L638.8 554.0 L639.2 550.8 L639.7 558.3 L640.1 554.3 L640.6 550.8 L641.0 552.1 L641.5 553.0 L641.9 550.5 L642.4 554.6 L642.8 553.3 L643.3 550.2 L643.7 552.6 L644.2 551.4 L644.6 551.6 L645.1 552.9 L645.5 551.6 L646.0 551.9 L646.4 551.6 L646.9 554.4 L647.3 552.7 L647.8 554.2 L648.2 551.9 L648.7 557.5 L649.1 550.9 L649.6 553.8 L650.0 554.4 L650.5 556.3 L650.9 554.9 L651.4 552.9 L651.8 552.5 L652.3 553.5 L652.7 552.8 L653.2 555.3 L653.6 554.4 L654.1 551.5 L654.5 551.7 L655.0 555.1 L655.4 553.4 L655.9 552.5 L656.3 554.8 L656.8 552.3 L657.2 552.4 L657.7 552.1 L658.1 549.7 L658.6 554.3 L659.0 550.9 L659.5 552.0 L659.9 547.3 L660.4 554.1 L660.8 552.8 L661.3 553.0 L661.7 550.4 L662.2 552.8 L662.6 550.6 L663.1 554.5 L663.5 553.6 L664.0 553.0 L664.4 556.3 L664.9 553.9 L665.3 555.7 L665.8 553.3 L666.2 552.7 L666.7 554.6 L667.1 554.8 L667.6 550.9 L668.0 554.8 L668.5 553.9 L668.9 554.6 L669.4 553.8 L669.8 551.0 L670.3 551.2 L670.7 556.1 L671.2 557.1 L671.6 550.8 L672.1 553.7 L672.5 552.5 L673.0 550.1 L673.4 549.4 L673.9 550.5 L674.3 553.6 L674.8 553.1 L675.2 549.4 L675.7 553.6 L676.1 554.1 L676.6 549.7 L677.0 552.7 L677.5 551.8 L677.9 551.2 L678.4 552.3 L678.8 553.0 L679.3 552.8 L679.7 550.8 L680.2 552.4 L680.6 556.5 L681.1 551.5 L681.5 550.5 L682.0 553.7 L682.4 554.2 L682.9 554.0 L683.3 551.4 L683.8 554.9 L684.2 552.0 L684.7 551.4 L685.1 552.3 L685.6 554.7 L686.0 554.5 L686.5 554.3 L686.9 553.3 L687.4 554.8 L687.8 553.5 L688.3 554.8 L688.7 551.1 L689.2 550.8 L689.6 554.6 L690.1 551.1 L690.5 552.9 L691.0 553.2 L691.4 555.0 L691.9 552.7 L692.3 555.6 L692.8 549.3 L693.2 554.8 L693.7 557.1 L694.1 552.3 L694.6 553.4 L695.0 554.6 L695.5 556.4 L695.9 548.1 L696.4 550.0 L696.8 553.2 L697.3 554.4 L697.7 553.7 L698.2 554.5 L698.6 552.8 L699.1 553.6 L699.5 552.4 L700.0 552.4 L700.4 553.3 L700.9 553.3 L701.3 551.6 L701.8 556.0 L702.2 553.3 L702.7 551.3 L703.1 555.3 L703.6 552.4 L704.0 554.4 L704.5 553.5 L704.9 554.0 L705.4 553.9 L705.8 552.7 L706.3 553.7 L706.7 556.8 L707.2 550.0 L707.6 553.7 L708.1 554.3 L708.5 552.0 L709.0 551.5 L709.4 557.1 L709.9 553.1 L710.3 557.0 L710.8 554.5 L711.2 553.8 L711.7 554.4 L712.1 554.7 L712.6 555.6 L713.0 554.4 L713.5 553.9 L713.9 556.4 L714.4 555.9 L714.8 555.0 L715.3 552.1 L715.7 552.7 L716.2 554.3 L716.6 552.8 L717.1 553.2 L717.5 552.3 L718.0 553.4 L718.4 554.5 L718.9 555.4 L719.3 553.8 L719.8 557.1 L720.2 553.7 L720.7 558.9 L721.1 555.4 L721.6 554.6 L722.0 553.1 L722.5 549.4 L722.9 553.6 L723.4 554.2 L723.8 556.9 L724.3 551.7 L724.7 556.9 L725.2 553.5 L725.6 555.1 L726.1 549.9 L726.5 554.1 L727.0 553.4 L727.4 555.0 L727.9 554.1 L728.3 552.1 L728.8 555.5 L729.2 555.1 L729.7 554.9 L730.1 555.6 L730.6 555.7 L731.0 554.0 L731.5 551.9 L731.9 551.8 L732.4 556.1 L732.8 555.1 L733.3 554.2 L733.7 553.4 L734.2 554.1 L734.6 554.1 L735.1 553.5 L735.5 553.0 L736.0 557.5 L736.4 554.4 L736.9 553.1 L737.3 552.0 L737.8 553.0 L738.2 555.2 L738.7 555.3 L739.1 553.8 L739.6 554.2 L740.0 553.7 L740.5 552.4 L740.9 556.2 L741.4 554.8 L741.8 558.1 L742.3 553.0 L742.7 554.0 L743.2 555.6 L743.6 553.8 L744.1 552.0 L744.5 552.7 L745.0 554.4 L745.4 554.8 L745.9 554.1 L746.3 555.8 L746.8 555.8 L747.2 554.8 L747.7 554.3 L748.1 553.9 L748.6 555.1 L749.0 555.7 L749.5 556.9 L749.9 555.0 L750.4 553.8 L750.8 552.1 L751.3 552.8 L751.7 555.5 L752.2 555.0 L752.6 556.8 L753.1 554.4 L753.5 555.7 L754.0 556.4 L754.4 555.9 L754.9 550.4 L755.3 554.1 L755.8 554.6 L756.2 552.9 L756.7 555.2 L757.1 556.0 L757.6 553.7 L758.0 557.5 L758.5 554.0 L758.9 554.1 L759.4 554.1 L759.8 553.4 L760.3 555.1 L760.7 554.5 L761.2 557.1 L761.6 555.4 L762.1 555.3 L762.5 554.2 L763.0 552.3 L763.4 554.4 L763.9 553.2 L764.3 556.0 L764.8 549.7 L765.2 557.1 L765.7 555.7 L766.1 555.9 L766.6 554.9 L767.0 554.9 L767.5 555.6 L767.9 556.0 L768.4 553.5 L768.8 555.4 L769.3 558.7 L769.7 554.5 L770.2 554.2 L770.6 553.6 L771.1 552.4 L771.5 556.5 L772.0 554.7 L772.4 555.1 L772.9 557.5 L773.3 558.6 L773.8 553.3 L774.2 559.9 L774.7 555.7 L775.1 555.3 L775.6 555.4 L776.0 554.7 L776.5 557.2 L776.9 555.7 L777.4 555.3 L777.8 556.7 L778.3 556.1 L778.7 555.5 L779.2 555.3 L779.6 557.5 L780.1 555.6 L780.5 554.6 L781.0 553.5 L781.4 554.3 L781.9 553.2 L782.3 555.0 L782.8 555.2 L783.2 551.6 L783.7 554.8 L784.1 555.8 L784.6 555.1 L785.0 553.4 L785.5 556.8 L785.9 553.8 L786.4 553.0 L786.8 553.2 L787.3 554.8 L787.7 556.4 L788.2 556.7 L788.6 555.2 L789.1 553.0 L789.5 553.9 L790.0 549.7 L790.4 554.6 L790.9 552.2 L791.3 555.1 L791.8 555.9 L792.2 554.7 L792.7 555.6 L793.1 553.5 L793.6 552.7 L794.0 554.0 L794.5 556.7 L794.9 556.5 L795.4 554.2 L795.8 556.8 L796.3 554.5 L796.7 557.3 L797.2 555.7 L797.6 554.3 L798.1 556.2 L798.5 554.1 L799.0 553.6 L799.4 552.8 L799.9 555.4 L800.3 554.9 L800.8 554.9 L801.2 554.4 L801.7 557.2 L802.1 551.5 L802.6 553.9 L803.0 556.9 L803.5 557.2 L803.9 549.8 L804.4 552.4 L804.8 554.1 L805.3 556.0 L805.7 555.1 L806.2 557.4 L806.6 553.0 L807.1 556.1 L807.5 554.1 L808.0 557.1 L808.4 555.0 L808.9 556.7 L809.3 554.1 L809.8 552.9 L810.2 553.4 L810.7 554.2 L811.1 553.5 L811.6 556.9 L812.0 557.2 L812.5 555.7 L812.9 553.5 L813.4 554.1 L813.8 554.1 L814.3 557.3 L814.7 555.4 L815.2 555.7 L815.6 554.3 L816.1 551.7 L816.5 553.4 L817.0 552.1 L817.4 553.8 L817.9 553.2 L818.3 550.0 L818.8 550.4 L819.2 551.8 L819.7 546.7 L820.1 544.3 L820.6 544.4 L821.0 542.8 L821.5 542.5 L821.9 542.7 L822.4 542.3 L822.8 535.9 L823.3 537.3 L823.8 538.5 L824.2 542.4 L824.6 539.0 L825.1 540.8 L825.5 545.8 L826.0 540.0 L826.4 542.7 L826.9 543.2 L827.3 546.0 L827.8 552.0 L828.2 551.2 L828.7 549.9 L829.1 552.3 L829.6 553.1 L830.0 551.7 L830.5 552.4 L830.9 555.9 L831.4 554.9 L831.8 553.9 L832.3 553.5 L832.7 555.6 L833.2 556.1 L833.6 552.7 L834.1 557.9 L834.5 555.3 L835.0 555.1 L835.4 556.9 L835.9 555.4 L836.3 554.4 L836.8 558.6 L837.2 553.7 L837.7 555.2 L838.1 556.6 L838.6 553.7 L839.0 555.2 L839.5 555.9 L839.9 559.0 L840.4 554.0 L840.8 555.3 L841.3 556.4 L841.7 555.5 L842.2 553.6 L842.6 556.0 L843.1 555.5 L843.5 556.1 L844.0 557.1 L844.4 556.9 L844.9 556.0 L845.3 555.9 L845.8 553.7 L846.2 555.2 L846.7 555.7 L847.1 554.8 L847.6 555.6 L848.0 554.2 L848.5 557.7 L848.9 558.7 L849.4 554.8 L849.8 556.0 L850.3 555.1 L850.7 557.3 L851.2 556.1 L851.6 555.6 L852.1 555.1 L852.5 555.6 L853.0 554.0 L853.4 556.5 L853.9 554.4 L854.3 556.3 L854.8 555.7 L855.2 555.2 L855.7 555.4 L856.1 557.0 L856.6 554.1 L857.0 556.4 L857.5 555.1 L857.9 555.8 L858.4 555.6 L858.8 556.9 L859.3 552.5 L859.7 556.0 L860.2 553.3 L860.6 557.3 L861.1 552.6 L861.5 554.0 L862.0 553.0 L862.4 558.0 L862.9 553.6 L863.3 555.7 L863.8 551.7 L864.2 552.8 L864.7 555.0 L865.1 556.5 L865.6 555.3 L866.0 556.9 L866.5 555.0 L866.9 555.6 L867.4 555.0 L867.8 556.1 L868.3 558.4 L868.7 556.1 L869.2 555.9 L869.6 554.6 L870.1 554.4 L870.5 557.7 L871.0 553.9 L871.4 554.2 L871.9 555.4 L872.3 555.0 L872.8 558.5 L873.2 552.1 L873.7 556.1 L874.1 560.7 L874.6 554.0 L875.0 554.6 L875.5 556.2 L875.9 557.8 L876.4 554.2 L876.8 553.4 L877.3 556.9 L877.7 557.8 L878.2 554.8 L878.6 551.7 L879.1 557.4 L879.5 554.2 L880.0 556.2 L880.4 554.3 L880.9 553.7 L881.3 553.0 L881.8 554.0 L882.2 554.3 L882.7 547.9 L883.1 549.9 L883.6 552.8 L884.0 548.5 L884.5 546.2 L884.9 547.8 L885.4 544.7 L885.8 545.3 L886.3 543.6 L886.7 544.6 L887.2 543.2 L887.6 545.8 L888.1 540.6 L888.5 541.7 L889.0 543.2 L889.4 544.2 L889.9 542.9 L890.3 544.2 L890.8 543.7 L891.2 543.3 L891.7 544.8 L892.1 546.1 L892.6 548.7 L893.0 547.6 L893.5 546.8 L893.9 548.1 L894.4 550.9 L894.8 550.4 L895.3 551.0 L895.7 547.5 L896.2 548.6 L896.6 553.1 L897.1 554.6 L897.5 554.7 L898.0 551.5 L898.4 555.9 L898.9 554.1 L899.3 555.9 L899.8 555.3 L900.2 554.6 L900.7 554.4 L901.1 552.6 L901.6 554.4 L902.0 553.1 L902.5 556.3 L902.9 555.7 L903.4 557.1 L903.8 556.2 L904.3 554.7 L904.7 556.4 L905.2 555.2 L905.6 556.7 L906.1 556.2 L906.5 554.4 L907.0 555.8 L907.4 555.9 L907.9 555.3 L908.3 557.1 L908.8 558.3 L909.2 555.3 L909.7 555.3 L910.1 552.5 L910.6 555.6 L911.0 557.4 L911.5 552.7 L911.9 556.2 L912.4 556.7 L912.8 554.8 L913.3 555.3 L913.7 554.4 L914.2 556.9 L914.6 553.6 L915.1 559.2 L915.5 558.7 L916.0 555.9 L916.4 556.5 L916.9 555.6 L917.3 554.1 L917.8 555.8 L918.2 556.4 L918.7 554.4 L919.1 556.4 L919.6 557.7 L920.0 557.4 L920.5 553.6 L920.9 554.4 L921.4 553.5 L921.8 556.1 L922.3 556.8 L922.7 552.3 L923.2 554.6 L923.6 554.2 L924.1 556.0 L924.5 556.0 L925.0 554.6 L925.4 556.1 L925.9 556.8 L926.3 556.2 L926.8 554.4 L927.2 552.8 L927.7 555.5 L928.1 556.1 L928.6 555.5 L929.0 555.3 L929.5 554.9 L929.9 552.1 L930.4 555.8 L930.8 556.1 L931.3 554.5 L931.7 555.0 L932.2 556.2 L932.6 554.5 L933.1 554.1 L933.5 555.5 L934.0 557.7 L934.4 556.2 L934.9 558.0 L935.3 555.7 L935.8 555.5 L936.2 551.7 L936.7 555.1 L937.1 558.0 L937.6 556.4 L938.0 557.0 L938.5 557.0 L938.9 559.6 L939.4 555.7 L939.8 556.1 L940.3 556.9 L940.7 556.6 L941.2 556.7 L941.6 556.2 L942.1 554.9 L942.5 555.6 L943.0 554.6 L943.4 557.4 L943.9 553.0 L944.3 555.7 L944.8 559.4 L945.2 555.5 L945.7 554.4 L946.1 556.0 L946.6 557.8 L947.0 555.8 L947.5 556.9 L947.9 556.1 L948.4 555.5 L948.8 560.5 L949.3 556.1 L949.7 555.2 L950.2 555.3 L950.6 560.9 L951.1 556.6 L951.5 557.1 L952.0 556.2 L952.4 554.0 L952.9 556.8 L953.3 555.6 L953.8 555.6 L954.2 553.9 L954.7 555.2 L955.1 555.0 L955.6 556.0 L956.0 553.9 L956.5 556.1 L956.9 556.2 L957.4 554.4 L957.8 555.1 L958.3 554.8 L958.7 557.3 L959.2 552.4 L959.6 555.5 L960.1 553.7 L960.5 555.4 L961.0 557.3 L961.4 555.1 L961.9 556.2 L962.3 554.8 L962.8 558.8 L963.2 557.4 L963.7 557.7 L964.1 554.2 L964.6 554.5 L965.0 557.6 L965.5 555.8 L965.9 555.7 L966.4 556.5 L966.8 554.3 L967.3 557.2 L967.7 556.1 L968.2 556.8 L968.6 556.1 L969.1 556.8 L969.5 555.1 L970.0 553.9 L970.4 557.7 L970.9 557.4 L971.3 556.8 L971.8 557.0 L972.2 552.2 L972.7 557.3 L973.1 555.7 L973.6 556.2 L974.0 555.7 L974.5 554.1 L974.9 555.3 L975.4 557.0 L975.8 558.1 L976.3 555.2 L976.7 554.8 L977.2 558.2 L977.6 557.1 L978.1 559.0 L978.5 556.2 L979.0 554.9 L979.4 557.5 L979.9 558.5 L980.3 554.1 L980.8 558.3 L981.2 555.7 L981.7 558.2 L982.1 555.6 L982.6 553.9 L983.0 556.8 L983.5 557.4 L983.9 552.0 L984.4 558.6 L984.8 557.1 L985.3 555.8 L985.7 555.4 L986.2 555.7 L986.6 555.0 L987.1 555.8 L987.5 552.6 L988.0 556.4 L988.4 556.1 L988.9 559.8 L989.3 557.2 L989.8 555.5 L990.2 557.0 L990.7 554.4 L991.1 555.3 L991.6 553.5 L992.0 558.2 L992.5 557.0 L992.9 554.6 L993.4 556.1 L993.8 557.4 L994.3 556.8 L994.7 556.6 L995.2 554.7 L995.6 555.0 L996.1 555.8 L996.5 556.5 L997.0 554.1 L997.4 553.4 L997.9 556.2 L998.3 552.4 L998.8 555.2 L999.2 553.7 L999.7 554.1 L1000.1 554.1 L1000.6 553.0 L1001.0 551.6 L1001.5 549.3 L1001.9 550.2 L1002.4 548.3 L1003.0 551.8 L1003.7 552.8 L1004.2 553.5 L1004.6 555.4 L1005.1 553.9 L1005.5 553.8 L1006.0 547.0 L1006.4 552.5 L1006.9 551.7 L1007.3 549.8 L1007.8 552.7 L1008.2 555.3 L1008.7 553.3 L1009.1 556.8 L1009.6 554.3 L1010.0 557.1 L1010.5 553.6 L1010.9 555.4 L1011.4 557.9 L1011.8 555.0 L1012.3 556.2 L1012.7 555.5 L1013.2 553.0 L1013.6 556.6 L1014.1 556.8 L1014.5 554.7 L1015.0 557.0 L1015.4 555.1 L1015.9 554.8 L1016.3 556.2 L1016.8 555.3 L1017.2 559.4 L1017.7 554.1 L1018.1 559.7 L1018.6 557.6 L1019.0 553.5 L1019.5 553.9 L1019.9 557.0 L1020.4 555.6 L1020.8 556.8 L1021.3 557.5 L1021.7 555.7 L1022.2 554.8 L1022.6 552.5 L1023.1 556.5 L1023.5 555.0 L1024.0 556.7 L1024.4 556.6 L1024.9 554.4 L1025.3 558.6 L1025.8 557.7 L1026.2 557.4 L1026.7 554.7 L1027.1 555.7 L1027.6 555.5 L1028.0 555.7 L1028.5 552.8 L1028.9 557.9 L1029.4 556.6 L1029.8 556.8 L1030.3 555.6 L1030.7 558.0 L1031.2 556.5 L1031.6 552.6 L1032.1 555.4 L1032.5 556.2 L1033.0 557.6 L1033.4 555.9 L1033.9 555.9 L1034.3 555.4 L1034.8 557.2 L1035.2 555.7 L1035.7 555.5 L1036.1 555.3 L1036.6 557.0 L1037.0 555.6 L1037.5 554.0 L1037.9 557.1 L1038.4 555.4 L1038.8 556.8 L1039.3 556.8 L1039.7 557.9 L1040.2 557.7 L1040.6 555.5 L1041.1 556.1 L1041.5 554.6 L1042.0 558.6 L1042.4 556.9 L1042.9 558.2 L1043.3 555.9 L1043.8 553.6 L1044.2 558.4 L1044.7 556.4 L1045.1 556.5 L1045.6 556.4 L1046.0 557.2 L1046.5 557.0 L1046.9 554.2 L1047.4 557.8 L1047.8 555.6 L1048.3 555.7 L1048.7 558.6 L1049.2 557.6 L1049.6 555.9 L1050.1 553.9 L1050.5 556.6 L1051.0 557.1 L1051.4 556.2 L1051.9 554.7 L1052.3 555.3 L1052.8 554.7 L1053.2 556.6 L1053.7 557.4 L1054.1 557.7 L1054.6 555.4 L1055.0 556.7 L1055.5 557.1 L1055.9 555.7 L1056.4 556.2 L1056.8 559.2 L1057.3 556.6 L1057.7 557.5 L1058.2 555.8 L1058.6 556.4 L1059.1 554.1 L1059.5 556.3 L1060.0 557.9 L1060.4 559.1 L1060.9 557.9 L1061.3 557.3 L1061.8 556.4 L1062.2 555.6 L1062.7 556.2 L1063.1 557.2 L1063.6 555.3 L1064.0 557.6 L1064.5 555.1 L1064.9 554.0 L1065.4 555.1 L1065.8 554.2 L1066.3 554.6 L1066.7 557.9 L1067.2 556.1 L1067.6 556.7 L1068.1 557.9 L1068.5 558.0 L1069.0 555.7 L1069.4 558.1 L1069.9 556.9 L1070.3 556.4 L1070.8 557.0 L1071.2 554.5 L1071.7 553.6 L1072.1 556.3 L1072.6 557.2 L1073.0 555.9 L1073.5 556.2 L1073.9 557.7 L1074.4 558.2 L1074.8 557.4 L1075.3 558.1 L1075.7 555.9 L1076.2 556.0 L1076.6 556.8 L1077.1 556.0 L1077.5 555.8 L1078.0 558.6 L1078.4 556.2 L1078.9 555.2 L1079.3 557.1 L1079.8 558.8 L1080.2 556.5 L1080.7 558.0 L1081.1 555.9 L1081.6 555.8 L1082.0 555.5 L1082.5 556.3 L1082.9 558.8 L1083.4 555.0 L1083.8 558.6 L1084.3 555.1 L1084.7 556.1 L1085.2 557.5 L1085.6 557.3 L1086.1 556.8 L1086.5 554.3 L1087.0 556.9 L1087.4 555.1 L1087.9 559.8 L1088.3 556.2 L1088.8 556.7 L1089.2 555.0 L1089.7 555.9 L1090.1 554.8 L1090.6 557.7 L1091.0 556.1 L1091.5 557.2 L1091.9 552.1 L1092.4 555.8 L1092.8 558.1 L1093.3 555.2 L1093.7 554.2 L1094.2 557.0 L1094.6 555.0 L1095.1 555.9 L1095.5 557.6 L1096.0 555.4 L1096.4 557.6 L1096.9 555.6 L1097.3 560.5 L1097.8 558.2 L1098.2 555.9 L1098.7 556.2 L1099.1 555.4 L1099.6 556.8 L1100.0 558.0 L1100.5 554.7 L1100.9 557.7 L1101.4 552.9 L1101.8 555.4 L1102.3 554.3 L1102.7 559.2 L1103.2 556.6 L1103.6 556.8 L1104.1 555.7 L1104.5 557.9 L1105.0 553.9 L1105.4 556.6 L1105.9 559.3 L1106.3 556.0 L1106.8 556.5 L1107.2 557.4 L1107.7 555.5 L1108.1 556.6 L1108.6 557.7 L1109.0 556.8 L1109.5 557.0 L1109.9 556.1 L1110.4 554.0 L1110.8 556.6 L1111.3 558.4 L1111.7 557.4 L1112.2 556.2 L1112.6 553.5 L1113.1 557.4 L1113.5 557.5 L1114.0 552.3 L1114.4 554.1 L1114.9 555.1 L1115.3 557.7 L1115.8 555.2 L1116.2 556.0 L1116.7 556.8 L1117.1 558.1 L1117.6 556.5 L1118.0 556.4 L1118.5 555.9 L1118.9 558.6 L1119.4 558.4 L1119.8 556.5 L1120.3 554.8 L1120.7 555.6 L1121.2 557.3 L1121.6 553.4 L1122.1 557.7 L1122.5 557.0 L1123.0 556.9 L1123.4 557.4 L1123.9 557.2 L1124.3 555.5 L1124.8 556.2 L1125.2 559.5 L1125.7 555.1 L1126.1 556.0 L1126.6 557.9 L1127.0 556.4 L1127.5 555.6 L1127.9 555.0 L1128.4 557.3 L1128.8 557.9 L1129.3 558.3 L1129.7 556.7 L1130.2 557.9 L1130.6 555.3 L1131.1 556.8 L1131.5 555.8 L1132.0 556.8 L1132.4 557.5 L1132.9 557.9 L1133.3 555.4 L1133.8 558.2 L1134.2 556.1 L1134.7 555.4 L1135.1 556.4 L1135.6 554.9 L1136.0 556.6 L1136.5 557.0 L1136.9 556.4 L1137.4 557.3 L1137.8 556.3 L1138.3 556.6 L1138.7 554.9 L1139.2 556.7 L1139.6 555.6 L1140.1 557.6 L1140.5 556.5 L1141.0 556.9 L1141.4 554.7 L1141.9 554.8 L1142.3 556.3 L1142.8 557.2 L1143.2 557.1 L1143.7 557.7 L1144.1 558.2 L1144.6 557.3 L1145.0 556.6 L1145.5 555.4 L1145.9 555.5 L1146.4 556.1 L1146.8 557.0 L1147.3 556.9 L1147.7 556.7 L1148.2 556.5 L1148.6 557.4 L1149.1 556.9 L1149.5 557.0 L1150.0 557.1 L1150.4 556.0 L1150.9 555.5 L1151.3 557.3 L1151.8 557.2 L1152.2 555.6 L1152.7 556.2 L1153.1 559.4 L1153.6 555.8 L1154.0 556.5 L1154.5 557.0 L1154.9 555.3 L1155.4 556.8 L1155.8 558.9 L1156.3 557.8 L1156.7 557.4 L1157.2 557.4 L1157.6 556.8 L1158.1 557.7 L1158.5 556.5 L1159.0 556.1 L1159.4 556.6 L1159.9 557.6 L1160.3 556.9 L1160.8 556.7 L1161.2 553.3 L1161.7 557.4 L1162.1 558.3 L1162.6 555.9 L1163.0 553.1 L1163.5 551.9 L1163.9 552.4 L1164.4 549.2 L1164.8 551.0 L1165.3 547.2 L1165.7 547.4 L1166.2 548.0 L1166.6 541.0 L1167.1 545.2 L1167.5 540.4 L1168.0 538.1 L1168.4 536.3 L1168.9 535.9 L1169.3 535.2 L1169.8 534.5 L1170.2 535.7 L1170.7 534.5 L1170.7 534.2 L1171.1 535.2 L1171.6 534.7 L1172.0 535.8 L1172.5 538.3 L1172.9 537.3 L1173.4 539.7 L1173.8 542.3 L1174.3 543.4 L1174.7 544.6 L1175.2 549.8 L1175.6 545.8 L1176.1 546.0 L1176.5 549.3 L1177.0 550.6 L1177.4 552.5 L1177.9 552.5 L1178.3 555.9 L1178.8 556.6 L1179.2 556.0 L1179.7 554.9 L1180.1 555.7 L1180.6 557.0 L1181.0 553.2 L1181.5 556.7 L1181.9 552.6 L1182.4 557.0 L1182.8 558.4 L1183.3 555.2 L1183.7 555.9 L1184.2 556.9 L1184.6 555.9 L1185.1 557.5 L1185.5 555.9 L1186.0 557.9 L1186.4 557.3 L1186.9 557.9 L1187.3 556.7 L1187.8 555.2 L1188.2 558.9 L1188.7 556.7 L1189.1 558.4 L1189.6 557.3 L1190.0 557.6 L1190.5 559.0 L1190.9 557.2 L1191.4 558.5 L1191.8 555.2 L1192.3 557.9 L1192.7 556.6 L1193.2 556.7 L1193.6 556.9 L1194.1 557.3 L1194.5 558.8 L1195.0 554.8 L1195.4 556.9 L1195.9 556.1 L1196.3 558.2 L1196.8 556.4 L1197.2 557.4 L1197.7 556.4 L1198.1 557.6 L1198.6 558.0 L1199.0 556.4 L1199.5 557.0 L1199.9 555.3 L1200.4 557.2 L1200.8 557.9 L1201.3 556.3 L1201.7 558.2 L1202.2 554.6 L1202.6 554.8 L1203.1 555.3 L1203.5 556.4 L1204.0 556.9 L1204.4 556.8 L1204.9 556.8 L1205.3 557.7 L1205.8 556.4 L1206.2 555.5 L1206.7 555.5 L1207.1 559.3 L1207.6 554.3 L1208.0 556.7 L1208.5 558.6 L1208.9 557.5 L1209.4 556.0 L1209.8 556.9 L1210.3 557.9 L1210.7 558.3 L1211.2 555.9 L1211.6 557.8 L1212.1 557.2 L1212.5 558.2 L1213.0 558.5 L1213.4 556.6 L1213.9 557.0 L1214.3 557.4 L1214.8 558.9 L1215.2 557.7 L1215.7 557.2 L1216.1 560.7 L1216.6 555.8 L1217.0 558.0 L1217.5 556.3 L1217.9 557.0 L1218.4 557.1 L1218.8 558.7 L1219.3 555.9 L1219.7 553.2 L1220.2 555.2 L1220.6 557.5 L1221.1 556.5 L1221.5 557.5 L1222.0 555.8 L1222.4 556.6 L1222.9 558.1 L1223.3 556.8 L1223.8 557.7 L1224.0 557.6" fill="none" stroke="#0038ff" stroke-width="3.1" stroke-linejoin="round"/>
<path d="M292.13 470.00 L292.30 459.20 L292.75 415.97 L293.20 374.21 L293.65 334.58 L294.10 307.48 L294.50 300.00 L295.00 314.77 L295.45 347.36 L295.90 389.65 L296.35 436.33 L296.71 470.00 Z" fill="#0038ff" stroke="none"/>
<path d="M308.01 538.00 L308.05 537.41 L308.50 531.09 L308.95 518.96 L309.40 515.63 L310.00 513.45 L310.75 520.48 L311.20 524.71 L311.65 532.86 L312.00 538.00 Z" fill="#0038ff" stroke="none"/>
<path d="M386.64 305.00 L386.80 296.35 L387.25 273.84 L387.70 253.93 L388.15 237.19 L388.60 225.27 L389.05 219.35 L389.50 219.00 L389.50 219.00 L389.95 223.11 L390.40 230.44 L390.85 240.61 L391.30 252.47 L391.75 266.89 L392.20 285.40 L392.65 301.26 L392.73 305.00 Z" fill="#0038ff" stroke="none"/>
<path d="M508.36 415.00 L508.75 396.15 L509.20 378.80 L509.65 363.70 L510.10 353.32 L510.70 348.00 L511.45 356.21 L511.90 368.11 L512.35 384.84 L512.80 403.10 L513.05 415.00 Z" fill="#0038ff" stroke="none"/>
</g>
<g id="curves-b">
<path d="M277.0 1794.5 L278.3 1794.6 L279.6 1794.6 L280.9 1794.3 L282.2 1794.0 L283.5 1794.6 L284.8 1794.7 L286.1 1794.9 L287.4 1794.6 L288.7 1794.3 L290.0 1794.6 L291.3 1794.5 L292.6 1794.4 L293.9 1794.2 L295.2 1794.1 L296.5 1794.4 L297.8 1794.4 L299.1 1794.5 L300.4 1794.5 L301.7 1794.6 L303.0 1795.0 L304.3 1794.5 L305.6 1794.9 L306.9 1794.3 L308.2 1794.4 L309.5 1794.4 L310.8 1794.1 L312.1 1795.0 L313.4 1794.6 L314.7 1794.7 L316.0 1795.0 L317.3 1794.7 L318.6 1795.0 L319.9 1794.0 L321.2 1794.9 L322.5 1794.6 L323.8 1794.4 L325.1 1794.8 L326.4 1794.6 L327.7 1794.4 L329.0 1794.1 L330.3 1795.0 L331.6 1793.9 L332.9 1794.6 L334.2 1795.0 L335.5 1794.7 L336.8 1794.4 L338.1 1794.5 L339.4 1794.4 L340.7 1794.6 L342.0 1794.6 L343.3 1794.3 L344.6 1794.2 L345.9 1794.9 L347.2 1794.3 L348.5 1794.3 L349.8 1795.2 L351.1 1794.4 L352.4 1794.3 L353.7 1794.4 L355.0 1794.8 L356.3 1794.4 L357.6 1794.6 L358.9 1794.0 L360.2 1794.5 L361.5 1794.6 L362.8 1794.6 L364.1 1795.0 L365.4 1794.8 L366.7 1793.9 L368.0 1794.2 L369.3 1794.4 L370.6 1794.6 L371.9 1794.7 L373.2 1794.8 L374.5 1794.2 L375.8 1794.1 L377.1 1794.9 L378.4 1794.4 L379.7 1794.1 L381.0 1794.4 L382.3 1794.6 L383.6 1794.4 L384.9 1794.4 L386.2 1794.9 L387.5 1794.4 L388.8 1794.8 L390.1 1794.7 L391.4 1794.6 L392.7 1795.3 L394.0 1794.4 L395.3 1795.3 L396.6 1794.5 L397.9 1794.6 L399.2 1794.8 L400.5 1795.0 L401.8 1794.9 L403.1 1794.6 L404.4 1794.6 L405.7 1795.0 L407.0 1795.1 L408.3 1794.6 L409.6 1795.0 L410.9 1794.9 L412.2 1794.8 L413.5 1794.5 L414.8 1794.4 L416.1 1794.9 L417.4 1794.1 L418.7 1794.6 L420.0 1794.9 L421.3 1794.3 L422.6 1795.2 L423.9 1795.2 L425.2 1794.5 L426.5 1794.8 L427.8 1794.8 L429.1 1794.7 L430.4 1794.7 L431.7 1794.9 L433.0 1795.2 L434.3 1794.8 L435.6 1794.8 L436.9 1794.8 L438.2 1794.6 L439.5 1795.0 L440.8 1794.7 L442.1 1794.6 L443.4 1795.0 L444.7 1794.4 L446.0 1794.7 L447.3 1794.7 L448.6 1794.8 L449.9 1794.5 L451.2 1794.6 L452.5 1794.8 L453.8 1795.0 L455.1 1794.8 L456.4 1794.8 L457.7 1794.7 L459.0 1794.9 L460.3 1794.2 L461.6 1795.0 L462.9 1795.1 L464.2 1794.9 L465.5 1794.7 L466.8 1795.2 L468.1 1794.7 L469.4 1795.2 L470.7 1794.8 L472.0 1794.7 L473.3 1794.9 L474.6 1794.8 L475.9 1794.9 L477.2 1795.1 L478.5 1794.9 L479.8 1794.8 L481.1 1794.9 L482.4 1795.0 L483.7 1794.9 L485.0 1795.1 L486.3 1795.1 L487.6 1795.0 L488.9 1795.1 L490.2 1795.0 L491.5 1795.3 L492.8 1795.1 L494.1 1795.2 L495.4 1794.9 L496.7 1794.6 L498.0 1794.9 L499.3 1795.0 L500.6 1795.1 L501.9 1795.0 L503.2 1795.4 L504.5 1794.7 L505.8 1794.6 L507.1 1795.0 L508.4 1794.9 L509.7 1795.0 L511.0 1795.2 L512.3 1795.7 L513.6 1794.7 L514.9 1794.8 L516.2 1795.0 L517.5 1794.7 L518.8 1794.9 L520.1 1795.4 L521.4 1795.1 L522.7 1795.1 L524.0 1795.4 L525.3 1794.7 L526.6 1795.1 L527.9 1795.1 L529.2 1795.2 L530.5 1794.9 L531.8 1795.0 L533.1 1795.1 L534.4 1795.3 L535.7 1794.9 L537.0 1795.3 L538.3 1794.6 L539.6 1795.2 L540.9 1795.3 L542.2 1794.9 L543.5 1795.1 L544.8 1795.2 L546.1 1795.2 L547.4 1795.5 L548.7 1795.2 L550.0 1795.1 L551.3 1795.1 L552.6 1795.3 L553.9 1795.4 L555.2 1795.3 L556.5 1795.1 L557.8 1795.1 L559.1 1795.0 L560.4 1795.0 L561.7 1795.1 L563.0 1795.1 L564.3 1795.4 L565.6 1795.0 L566.9 1795.3 L568.2 1795.0 L569.5 1795.5 L570.8 1795.3 L572.1 1795.6 L573.4 1795.4 L574.7 1795.0 L576.0 1795.3 L577.3 1795.1 L578.6 1795.2 L579.9 1795.1 L581.2 1795.2 L582.5 1795.3 L583.8 1795.4 L585.1 1795.9 L586.4 1795.3 L587.7 1795.4 L589.0 1795.3 L590.3 1795.3 L591.6 1795.3 L592.9 1795.4 L594.2 1795.3 L595.5 1795.6 L596.8 1795.5 L598.1 1795.2 L599.4 1795.4 L600.7 1795.5 L602.0 1795.4 L603.3 1795.4 L604.6 1795.4 L605.9 1795.6 L607.2 1795.5 L608.5 1795.3 L609.8 1795.4 L611.1 1795.8 L612.4 1795.2 L613.7 1795.6 L615.0 1795.4 L616.3 1796.3 L617.6 1795.7 L618.9 1795.5 L620.2 1795.5 L621.5 1795.2 L622.8 1795.4 L624.1 1796.0 L625.4 1795.6 L626.7 1795.5 L628.0 1795.6 L629.3 1795.6 L630.6 1795.3 L631.9 1795.6 L633.2 1795.7 L634.5 1795.2 L635.8 1795.5 L637.1 1795.0 L638.4 1795.2 L639.7 1795.8 L641.0 1795.9 L642.3 1796.1 L643.6 1795.3 L644.9 1795.6 L646.2 1795.6 L647.5 1795.9 L648.8 1795.8 L650.1 1795.7 L651.4 1795.8 L652.7 1795.6 L654.0 1795.9 L655.3 1795.6 L656.6 1796.0 L657.9 1795.8 L659.2 1795.8 L660.5 1795.5 L661.8 1795.4 L663.1 1795.4 L664.4 1795.9 L665.7 1795.3 L667.0 1796.1 L668.3 1795.7 L669.6 1795.5 L670.9 1795.9 L672.2 1795.5 L673.5 1795.8 L674.8 1795.8 L676.1 1796.1 L677.4 1796.1 L678.7 1796.1 L680.0 1795.8 L681.3 1796.2 L682.6 1795.9 L683.9 1795.9 L685.2 1796.0 L686.5 1796.0 L687.8 1795.6 L689.1 1796.1 L690.4 1795.6 L691.7 1796.1 L693.0 1795.9 L694.3 1796.0 L695.6 1795.7 L696.9 1796.2 L698.2 1796.0 L699.5 1796.2 L700.8 1795.8 L702.1 1795.8 L703.4 1796.0 L704.7 1796.3 L706.0 1795.7 L707.3 1795.9 L708.6 1795.9 L709.9 1796.0 L711.2 1796.0 L712.5 1796.3 L713.8 1796.2 L715.1 1796.1 L716.4 1796.3 L717.7 1796.3 L719.0 1795.9 L720.3 1795.9 L721.6 1796.3 L722.9 1796.6 L724.2 1795.6 L725.5 1796.0 L726.8 1796.3 L728.1 1795.9 L729.4 1796.4 L730.7 1796.2 L732.0 1795.9 L733.3 1796.1 L734.6 1796.3 L735.9 1796.0 L737.2 1796.4 L738.5 1796.3 L739.8 1796.2 L741.1 1796.3 L742.4 1796.2 L743.7 1796.3 L745.0 1796.1 L746.3 1796.7 L747.6 1796.3 L748.9 1796.6 L750.2 1796.9 L751.5 1796.8 L752.8 1796.4 L754.1 1796.5 L755.4 1796.5 L756.7 1797.3 L758.0 1798.2 L759.3 1799.3 L760.6 1801.0 L761.9 1801.7 L763.2 1802.0 L764.5 1801.4 L765.8 1799.5 L767.1 1798.4 L768.4 1797.7 L769.7 1797.3 L771.0 1797.0 L772.3 1797.0 L773.6 1796.6 L774.9 1797.5 L776.2 1796.8 L777.5 1797.1 L778.8 1797.1 L780.1 1796.8 L781.4 1797.2 L782.7 1797.3 L784.0 1797.0 L785.3 1797.0 L786.6 1797.2 L787.9 1797.2 L789.2 1797.2 L790.5 1796.8 L791.8 1796.8 L793.1 1796.9 L794.4 1796.4 L795.7 1796.7 L797.0 1797.0 L798.3 1796.8 L799.6 1796.8 L800.9 1797.2 L802.2 1797.1 L803.5 1797.2 L804.8 1797.0 L806.1 1797.1 L807.4 1797.7 L808.7 1798.8 L810.0 1798.9 L811.3 1799.2 L812.6 1799.0 L813.9 1798.2 L815.2 1797.2 L816.5 1796.7 L817.8 1797.0 L819.1 1796.6 L820.4 1796.7 L821.7 1796.4 L823.0 1797.0 L824.3 1796.8 L825.6 1796.2 L826.9 1796.1 L828.2 1796.3 L829.5 1796.4 L830.8 1796.5 L832.1 1796.1 L833.4 1795.8 L834.7 1796.2 L836.0 1796.1 L837.3 1795.7 L838.6 1795.9 L839.9 1795.9 L841.2 1795.7 L842.5 1796.0 L843.8 1796.2 L845.1 1796.1 L846.4 1795.7 L847.7 1795.7 L849.0 1796.0 L850.3 1795.7 L851.6 1795.7 L852.9 1796.3 L854.2 1795.1 L855.5 1795.5 L856.8 1795.4 L858.1 1795.6 L859.4 1795.9 L860.7 1795.4 L862.0 1795.4 L863.3 1795.4 L864.6 1795.3 L865.9 1795.4 L867.2 1795.8 L868.5 1795.0 L869.8 1795.1 L871.1 1795.1 L872.4 1794.6 L873.7 1795.2 L875.0 1795.0 L876.3 1794.5 L877.6 1794.9 L878.9 1794.9 L880.2 1794.6 L881.5 1795.1 L882.8 1794.6 L884.1 1794.3 L885.4 1794.8 L886.7 1794.6 L888.0 1794.6 L889.3 1794.1 L890.6 1794.1 L891.9 1794.2 L893.2 1794.3 L894.5 1794.2 L895.8 1794.5 L897.1 1794.5 L898.4 1794.1 L899.7 1794.0 L901.0 1794.3 L902.3 1793.8 L903.6 1794.0 L904.9 1793.5 L906.2 1793.5 L907.5 1793.3 L908.8 1793.1 L910.1 1793.3 L911.4 1792.9 L912.7 1792.9 L914.0 1792.9 L915.3 1793.1 L916.6 1791.8 L917.9 1791.8 L919.2 1791.4 L920.5 1790.5 L921.8 1790.1 L923.1 1789.3 L924.4 1788.5 L925.7 1787.5 L927.0 1786.7 L928.3 1785.9 L929.6 1785.0 L930.9 1784.5 L932.2 1783.4 L933.5 1782.6 L934.8 1781.6 L936.1 1781.3 L937.4 1780.0 L938.7 1779.0 L940.0 1778.4 L941.3 1777.2 L942.6 1776.6 L943.9 1775.6 L945.2 1775.0 L946.5 1774.1 L947.8 1772.7 L949.1 1772.7 L950.4 1771.7 L951.7 1770.3 L953.0 1770.1 L954.3 1769.2 L955.6 1768.7 L956.9 1768.7 L958.2 1768.4 L959.5 1768.6 L960.8 1769.4 L962.1 1770.0 L963.4 1770.7 L964.7 1771.7 L966.0 1773.4 L967.3 1774.0 L968.6 1775.4 L969.9 1776.6 L971.2 1777.9 L972.5 1779.7 L973.8 1780.9 L975.1 1782.1 L976.4 1783.7 L977.7 1784.5 L979.0 1785.8 L980.3 1786.6 L981.6 1786.7 L982.9 1787.2 L984.2 1788.0 L985.5 1787.7 L986.8 1788.3 L988.1 1788.6 L989.4 1788.7 L990.7 1789.2 L992.0 1789.2 L993.3 1788.8 L994.6 1788.3 L995.9 1787.9 L997.2 1787.1 L998.5 1786.3 L999.8 1785.1 L1001.1 1784.1 L1002.4 1783.2 L1003.7 1781.4 L1005.0 1779.9 L1006.3 1777.6 L1007.6 1775.7 L1008.9 1773.5 L1010.2 1771.7 L1011.5 1769.8 L1012.8 1767.7 L1014.1 1766.5 L1015.4 1764.2 L1016.7 1763.4 L1018.0 1761.6 L1019.3 1760.8 L1020.6 1759.4 L1021.9 1758.4 L1023.2 1757.3 L1024.5 1755.9 L1025.8 1754.6 L1027.1 1753.3 L1028.4 1752.0 L1029.7 1750.6 L1031.0 1748.9 L1032.3 1745.8 L1033.6 1743.7 L1034.9 1740.6 L1036.2 1737.6 L1037.5 1734.6 L1038.8 1731.5 L1040.1 1728.2 L1041.4 1725.1 L1042.7 1722.7 L1044.0 1719.8 L1045.3 1717.5 L1046.6 1715.6 L1047.9 1712.7 L1049.2 1710.5 L1050.5 1708.8 L1051.8 1706.4 L1053.1 1704.2 L1054.4 1703.4 L1055.7 1702.5 L1057.0 1701.6 L1058.3 1701.6 L1059.6 1702.5 L1060.9 1703.6 L1062.2 1704.7 L1063.5 1706.1 L1064.8 1708.1 L1066.1 1709.7 L1067.4 1710.9 L1068.7 1712.6 L1070.0 1714.7 L1071.3 1716.7 L1072.6 1719.1 L1073.9 1721.4 L1075.2 1724.0 L1076.5 1725.7 L1077.8 1727.8 L1079.1 1728.8 L1080.4 1730.4 L1081.7 1732.1 L1083.0 1732.7 L1084.3 1734.5 L1085.6 1735.4 L1086.9 1736.5 L1088.2 1737.8 L1089.5 1739.1 L1090.8 1741.1 L1092.1 1744.2 L1093.4 1747.3 L1094.7 1750.3 L1096.0 1750.8 L1097.3 1748.6 L1098.6 1745.0 L1099.9 1746.1 L1101.2 1751.2 L1102.5 1758.8 L1103.8 1767.1 L1105.1 1767.4 L1106.4 1767.5 L1107.7 1768.0 L1109.0 1768.3 L1110.3 1768.3 L1111.6 1768.2 L1112.9 1768.8 L1114.2 1768.7 L1115.5 1769.3 L1116.8 1769.5 L1118.1 1769.4 L1119.4 1770.5 L1120.7 1771.2 L1122.0 1771.0 L1123.3 1771.3 L1124.6 1772.1 L1125.9 1772.0 L1127.2 1772.7 L1128.5 1773.2 L1129.8 1773.6 L1131.1 1774.4 L1132.4 1775.0 L1133.7 1775.7 L1135.0 1776.7 L1136.3 1776.8 L1137.6 1777.1 L1138.9 1777.1 L1140.2 1777.4 L1141.5 1777.2 L1142.8 1777.1 L1144.1 1777.4 L1145.4 1776.8 L1146.7 1776.8 L1148.0 1777.4 L1149.3 1777.7 L1150.6 1777.2 L1151.9 1777.4 L1153.2 1776.9 L1154.5 1777.0 L1155.8 1776.6 L1157.1 1776.2 L1158.4 1775.4 L1159.7 1775.3 L1161.0 1774.0 L1162.3 1773.9 L1163.6 1772.4 L1164.9 1771.7 L1166.2 1770.6 L1167.5 1769.3 L1168.8 1767.1 L1170.1 1765.0 L1171.4 1763.8 L1172.7 1761.6 L1174.0 1759.6 L1175.3 1757.9 L1176.6 1756.1 L1177.9 1754.8 L1179.2 1753.1 L1180.5 1751.8 L1181.8 1750.7 L1183.1 1749.4 L1184.4 1748.7 L1185.7 1748.0 L1187.0 1747.4 L1188.3 1746.1 L1189.6 1745.1 L1190.9 1743.8 L1192.2 1742.6 L1193.5 1741.0 L1194.8 1738.6 L1196.1 1734.8 L1197.4 1731.0 L1198.7 1726.6 L1200.0 1721.8 L1201.3 1717.2 L1202.6 1713.1 L1203.9 1707.9 L1205.2 1702.5 L1206.5 1696.5 L1207.8 1692.2 L1209.1 1689.2 L1210.4 1689.5 L1211.7 1690.4 L1213.0 1692.2 L1214.3 1693.5 L1215.6 1695.5 L1216.9 1698.3 L1218.2 1702.2 L1219.5 1706.8 L1220.8 1712.7 L1222.1 1720.6 L1223.4 1729.5 L1224.0 1734.7" fill="none" stroke="#3f7f00" stroke-width="3.2" stroke-linejoin="round"/>
<path d="M277.0 1692.1 L278.3 1691.6 L279.6 1692.1 L280.9 1692.0 L282.2 1691.4 L283.5 1692.0 L284.8 1691.4 L286.1 1692.0 L287.4 1691.5 L288.7 1691.8 L290.0 1691.8 L291.3 1691.4 L292.6 1691.4 L293.9 1692.0 L295.2 1691.7 L296.5 1692.1 L297.8 1691.8 L299.1 1692.5 L300.4 1691.9 L301.7 1692.2 L303.0 1691.9 L304.3 1691.8 L305.6 1691.9 L306.9 1691.6 L308.2 1691.6 L309.5 1692.2 L310.8 1691.7 L312.1 1691.5 L313.4 1691.9 L314.7 1691.6 L316.0 1691.8 L317.3 1692.0 L318.6 1692.1 L319.9 1692.2 L321.2 1692.0 L322.5 1691.9 L323.8 1691.9 L325.1 1691.8 L326.4 1691.7 L327.7 1692.3 L329.0 1691.7 L330.3 1692.1 L331.6 1691.7 L332.9 1692.0 L334.2 1691.0 L335.5 1691.7 L336.8 1691.6 L338.1 1692.1 L339.4 1692.1 L340.7 1691.5 L342.0 1691.7 L343.3 1691.9 L344.6 1691.8 L345.9 1691.7 L347.2 1691.9 L348.5 1691.4 L349.8 1692.1 L351.1 1691.8 L352.4 1691.0 L353.7 1691.4 L355.0 1691.7 L356.3 1692.2 L357.6 1691.7 L358.9 1691.3 L360.2 1692.0 L361.5 1691.8 L362.8 1691.7 L364.1 1691.9 L365.4 1691.6 L366.7 1691.6 L368.0 1691.9 L369.3 1691.8 L370.6 1691.9 L371.9 1691.6 L373.2 1692.1 L374.5 1691.3 L375.8 1691.3 L377.1 1691.8 L378.4 1691.6 L379.7 1691.7 L381.0 1691.6 L382.3 1691.6 L383.6 1691.4 L384.9 1691.7 L386.2 1691.9 L387.5 1691.4 L388.8 1692.1 L390.1 1692.0 L391.4 1691.4 L392.7 1691.8 L394.0 1691.3 L395.3 1691.6 L396.6 1691.3 L397.9 1691.5 L399.2 1691.1 L400.5 1691.6 L401.8 1691.3 L403.1 1691.4 L404.4 1691.1 L405.7 1691.6 L407.0 1692.1 L408.3 1691.5 L409.6 1691.5 L410.9 1691.3 L412.2 1691.5 L413.5 1691.4 L414.8 1691.2 L416.1 1691.4 L417.4 1691.4 L418.7 1691.7 L420.0 1691.5 L421.3 1691.6 L422.6 1691.9 L423.9 1691.8 L425.2 1691.5 L426.5 1691.1 L427.8 1691.5 L429.1 1691.6 L430.4 1691.8 L431.7 1691.6 L433.0 1692.3 L434.3 1691.5 L435.6 1691.7 L436.9 1691.3 L438.2 1691.3 L439.5 1691.5 L440.8 1691.6 L442.1 1691.7 L443.4 1690.8 L444.7 1691.8 L446.0 1691.9 L447.3 1691.9 L448.6 1691.8 L449.9 1691.5 L451.2 1691.7 L452.5 1691.9 L453.8 1691.3 L455.1 1691.7 L456.4 1691.7 L457.7 1691.5 L459.0 1692.0 L460.3 1691.4 L461.6 1691.3 L462.9 1691.5 L464.2 1691.4 L465.5 1691.9 L466.8 1691.1 L468.1 1691.2 L469.4 1691.6 L470.7 1691.7 L472.0 1691.2 L473.3 1691.8 L474.6 1691.0 L475.9 1691.8 L477.2 1691.3 L478.5 1691.4 L479.8 1692.0 L481.1 1691.5 L482.4 1691.4 L483.7 1691.6 L485.0 1692.0 L486.3 1691.5 L487.6 1691.3 L488.9 1691.6 L490.2 1691.2 L491.5 1691.3 L492.8 1691.4 L494.1 1691.7 L495.4 1691.4 L496.7 1691.6 L498.0 1691.8 L499.3 1691.9 L500.6 1691.1 L501.9 1691.5 L503.2 1691.2 L504.5 1691.7 L505.8 1691.6 L507.1 1691.5 L508.4 1691.4 L509.7 1691.3 L511.0 1691.1 L512.3 1691.8 L513.6 1691.5 L514.9 1691.5 L516.2 1691.6 L517.5 1691.7 L518.8 1692.0 L520.1 1691.5 L521.4 1691.7 L522.7 1691.1 L524.0 1691.4 L525.3 1691.3 L526.6 1691.4 L527.9 1691.8 L529.2 1691.6 L530.5 1691.5 L531.8 1691.5 L533.1 1691.5 L534.4 1691.5 L535.7 1691.4 L537.0 1691.4 L538.3 1691.4 L539.6 1691.5 L540.9 1691.1 L542.2 1691.6 L543.5 1691.5 L544.8 1691.6 L546.1 1691.3 L547.4 1691.3 L548.7 1691.7 L550.0 1691.4 L551.3 1691.7 L552.6 1691.4 L553.9 1691.3 L555.2 1691.2 L556.5 1691.4 L557.8 1691.4 L559.1 1691.3 L560.4 1691.9 L561.7 1691.6 L563.0 1691.3 L564.3 1691.9 L565.6 1691.8 L566.9 1691.4 L568.2 1691.3 L569.5 1691.5 L570.8 1691.8 L572.1 1691.2 L573.4 1691.9 L574.7 1691.5 L576.0 1691.8 L577.3 1691.6 L578.6 1691.7 L579.9 1691.8 L581.2 1691.9 L582.5 1691.4 L583.8 1692.1 L585.1 1691.3 L586.4 1691.7 L587.7 1691.8 L589.0 1691.6 L590.3 1691.8 L591.6 1691.2 L592.9 1691.6 L594.2 1691.9 L595.5 1691.6 L596.8 1691.4 L598.1 1691.7 L599.4 1691.7 L600.7 1691.4 L602.0 1692.0 L603.3 1691.5 L604.6 1691.4 L605.9 1691.7 L607.2 1691.5 L608.5 1691.6 L609.8 1691.7 L611.1 1691.6 L612.4 1691.8 L613.7 1691.8 L615.0 1692.0 L616.3 1691.5 L617.6 1691.7 L618.9 1691.8 L620.2 1691.8 L621.5 1691.2 L622.8 1691.5 L624.1 1691.8 L625.4 1691.9 L626.7 1691.7 L628.0 1691.8 L629.3 1692.0 L630.6 1691.7 L631.9 1691.6 L633.2 1692.1 L634.5 1691.9 L635.8 1691.7 L637.1 1691.6 L638.4 1692.2 L639.7 1691.7 L641.0 1691.6 L642.3 1692.1 L643.6 1691.4 L644.9 1691.8 L646.2 1692.0 L647.5 1691.7 L648.8 1691.7 L650.1 1691.9 L651.4 1691.5 L652.7 1691.8 L654.0 1692.0 L655.3 1691.6 L656.6 1692.2 L657.9 1691.8 L659.2 1691.8 L660.5 1691.7 L661.8 1692.0 L663.1 1691.7 L664.4 1691.9 L665.7 1692.2 L667.0 1692.2 L668.3 1691.5 L669.6 1692.2 L670.9 1691.8 L672.2 1692.0 L673.5 1691.9 L674.8 1692.0 L676.1 1691.8 L677.4 1692.1 L678.7 1692.2 L680.0 1691.8 L681.3 1691.9 L682.6 1692.1 L683.9 1692.2 L685.2 1692.0 L686.5 1692.0 L687.8 1692.1 L689.1 1691.9 L690.4 1692.1 L691.7 1691.9 L693.0 1691.9 L694.3 1691.4 L695.6 1691.6 L696.9 1692.1 L698.2 1692.2 L699.5 1692.1 L700.8 1692.0 L702.1 1692.0 L703.4 1692.2 L704.7 1691.9 L706.0 1692.0 L707.3 1692.4 L708.6 1691.7 L709.9 1691.9 L711.2 1692.0 L712.5 1691.6 L713.8 1691.8 L715.1 1692.3 L716.4 1692.2 L717.7 1692.0 L719.0 1692.4 L720.3 1691.8 L721.6 1692.6 L722.9 1692.1 L724.2 1692.0 L725.5 1692.4 L726.8 1692.3 L728.1 1692.2 L729.4 1692.1 L730.7 1691.7 L732.0 1691.7 L733.3 1692.2 L734.6 1692.4 L735.9 1692.0 L737.2 1692.2 L738.5 1691.8 L739.8 1691.9 L741.1 1692.2 L742.4 1692.4 L743.7 1692.5 L745.0 1692.6 L746.3 1692.1 L747.6 1692.3 L748.9 1692.6 L750.2 1692.2 L751.5 1692.4 L752.8 1692.5 L754.1 1692.5 L755.4 1692.8 L756.7 1693.2 L758.0 1694.0 L759.3 1694.7 L760.6 1696.5 L761.9 1697.2 L763.2 1697.0 L764.5 1696.4 L765.8 1695.5 L767.1 1694.6 L768.4 1693.4 L769.7 1693.0 L771.0 1692.8 L772.3 1693.0 L773.6 1692.8 L774.9 1692.8 L776.2 1692.5 L777.5 1693.0 L778.8 1693.3 L780.1 1692.3 L781.4 1693.3 L782.7 1693.0 L784.0 1692.8 L785.3 1693.1 L786.6 1692.9 L787.9 1693.0 L789.2 1693.4 L790.5 1693.0 L791.8 1693.1 L793.1 1692.9 L794.4 1693.0 L795.7 1692.8 L797.0 1693.0 L798.3 1692.8 L799.6 1693.3 L800.9 1692.9 L802.2 1693.2 L803.5 1693.3 L804.8 1693.3 L806.1 1693.1 L807.4 1694.5 L808.7 1694.6 L810.0 1696.2 L811.3 1695.3 L812.6 1695.0 L813.9 1694.1 L815.2 1693.1 L816.5 1692.4 L817.8 1692.5 L819.1 1692.9 L820.4 1692.3 L821.7 1692.8 L823.0 1692.9 L824.3 1692.8 L825.6 1692.5 L826.9 1692.4 L828.2 1692.3 L829.5 1693.0 L830.8 1692.6 L832.1 1692.4 L833.4 1692.3 L834.7 1692.4 L836.0 1691.7 L837.3 1692.3 L838.6 1691.9 L839.9 1691.5 L841.2 1692.3 L842.5 1691.8 L843.8 1692.1 L845.1 1691.8 L846.4 1691.9 L847.7 1692.3 L849.0 1692.0 L850.3 1692.0 L851.6 1691.5 L852.9 1692.1 L854.2 1691.7 L855.5 1691.9 L856.8 1691.5 L858.1 1691.8 L859.4 1691.9 L860.7 1691.3 L862.0 1691.7 L863.3 1691.4 L864.6 1691.9 L865.9 1691.7 L867.2 1691.5 L868.5 1692.3 L869.8 1691.7 L871.1 1691.4 L872.4 1691.7 L873.7 1691.5 L875.0 1691.7 L876.3 1691.1 L877.6 1691.9 L878.9 1691.2 L880.2 1691.2 L881.5 1691.1 L882.8 1691.2 L884.1 1691.8 L885.4 1691.3 L886.7 1691.0 L888.0 1691.2 L889.3 1691.3 L890.6 1691.4 L891.9 1691.1 L893.2 1691.2 L894.5 1691.8 L895.8 1691.0 L897.1 1691.1 L898.4 1690.7 L899.7 1691.2 L901.0 1690.8 L902.3 1691.3 L903.6 1691.1 L904.9 1691.0 L906.2 1690.6 L907.5 1690.6 L908.8 1690.5 L910.1 1690.6 L911.4 1690.4 L912.7 1690.3 L914.0 1690.4 L915.3 1690.2 L916.6 1689.8 L917.9 1689.5 L919.2 1688.8 L920.5 1687.5 L921.8 1687.1 L923.1 1685.6 L924.4 1684.8 L925.7 1683.9 L927.0 1681.8 L928.3 1680.8 L929.6 1679.4 L930.9 1677.7 L932.2 1675.9 L933.5 1674.2 L934.8 1671.8 L936.1 1670.2 L937.4 1669.0 L938.7 1666.8 L940.0 1665.9 L941.3 1664.7 L942.6 1663.4 L943.9 1662.2 L945.2 1660.7 L946.5 1659.2 L947.8 1658.0 L949.1 1657.4 L950.4 1656.8 L951.7 1656.4 L953.0 1656.3 L954.3 1656.4 L955.6 1656.4 L956.9 1657.2 L958.2 1658.0 L959.5 1658.3 L960.8 1659.4 L962.1 1660.2 L963.4 1661.7 L964.7 1662.6 L966.0 1664.4 L967.3 1666.3 L968.6 1668.5 L969.9 1670.6 L971.2 1672.7 L972.5 1675.3 L973.8 1676.8 L975.1 1678.2 L976.4 1678.8 L977.7 1679.8 L979.0 1680.9 L980.3 1682.8 L981.6 1683.7 L982.9 1684.0 L984.2 1685.2 L985.5 1686.0 L986.8 1686.4 L988.1 1686.9 L989.4 1687.7 L990.7 1687.8 L992.0 1687.8 L993.3 1687.4 L994.6 1686.9 L995.9 1686.5 L997.2 1685.6 L998.5 1685.3 L999.8 1684.2 L1001.1 1683.3 L1002.4 1681.8 L1003.7 1679.9 L1005.0 1678.1 L1006.3 1675.9 L1007.6 1673.5 L1008.9 1671.7 L1010.2 1669.9 L1011.5 1667.6 L1012.8 1665.9 L1014.1 1664.4 L1015.4 1663.0 L1016.7 1662.5 L1018.0 1661.4 L1019.3 1660.2 L1020.6 1659.5 L1021.9 1658.4 L1023.2 1658.0 L1024.5 1656.7 L1025.8 1655.8 L1027.1 1655.0 L1028.4 1652.8 L1029.7 1652.1 L1031.0 1650.5 L1032.3 1648.4 L1033.6 1646.1 L1034.9 1643.7 L1036.2 1640.2 L1037.5 1637.0 L1038.8 1634.3 L1040.1 1630.8 L1041.4 1627.5 L1042.7 1624.7 L1044.0 1621.8 L1045.3 1619.4 L1046.6 1617.2 L1047.9 1615.0 L1049.2 1612.4 L1050.5 1609.8 L1051.8 1608.0 L1053.1 1606.2 L1054.4 1604.5 L1055.7 1603.5 L1057.0 1602.6 L1058.3 1602.6 L1059.6 1602.6 L1060.9 1603.2 L1062.2 1604.3 L1063.5 1605.6 L1064.8 1606.6 L1066.1 1607.8 L1067.4 1609.7 L1068.7 1610.6 L1070.0 1612.4 L1071.3 1614.0 L1072.6 1616.1 L1073.9 1618.4 L1075.2 1620.5 L1076.5 1621.7 L1077.8 1623.4 L1079.1 1624.5 L1080.4 1626.7 L1081.7 1628.1 L1083.0 1628.9 L1084.3 1629.9 L1085.6 1631.4 L1086.9 1632.4 L1088.2 1634.5 L1089.5 1637.2 L1090.8 1640.6 L1092.1 1643.9 L1093.4 1646.4 L1094.7 1647.9 L1096.0 1647.2 L1097.3 1646.0 L1098.6 1644.3 L1099.9 1645.9 L1101.2 1650.5 L1102.5 1653.9 L1103.8 1656.6 L1105.1 1659.3 L1106.4 1660.8 L1107.7 1661.8 L1109.0 1662.6 L1110.3 1662.6 L1111.6 1663.8 L1112.9 1664.1 L1114.2 1664.8 L1115.5 1666.6 L1116.8 1666.9 L1118.1 1668.1 L1119.4 1669.2 L1120.7 1670.2 L1122.0 1672.0 L1123.3 1672.1 L1124.6 1673.6 L1125.9 1674.0 L1127.2 1674.9 L1128.5 1675.0 L1129.8 1674.8 L1131.1 1674.3 L1132.4 1674.7 L1133.7 1674.5 L1135.0 1674.2 L1136.3 1673.8 L1137.6 1673.7 L1138.9 1673.2 L1140.2 1673.3 L1141.5 1673.2 L1142.8 1673.0 L1144.1 1672.9 L1145.4 1673.6 L1146.7 1674.0 L1148.0 1674.5 L1149.3 1675.5 L1150.6 1675.3 L1151.9 1675.2 L1153.2 1675.1 L1154.5 1675.2 L1155.8 1674.9 L1157.1 1674.7 L1158.4 1674.3 L1159.7 1672.9 L1161.0 1671.0 L1162.3 1669.4 L1163.6 1668.6 L1164.9 1666.8 L1166.2 1665.8 L1167.5 1664.2 L1168.8 1662.6 L1170.1 1661.1 L1171.4 1660.1 L1172.7 1658.1 L1174.0 1656.7 L1175.3 1655.1 L1176.6 1653.8 L1177.9 1652.1 L1179.2 1650.8 L1180.5 1649.0 L1181.8 1647.9 L1183.1 1646.4 L1184.4 1645.0 L1185.7 1643.4 L1187.0 1642.4 L1188.3 1641.1 L1189.6 1639.0 L1190.9 1637.2 L1192.2 1635.8 L1193.5 1633.6 L1194.8 1631.7 L1196.1 1629.6 L1197.4 1626.7 L1198.7 1624.7 L1200.0 1621.4 L1201.3 1618.3 L1202.6 1615.2 L1203.9 1610.9 L1205.2 1604.0 L1206.5 1597.6 L1207.8 1591.5 L1209.1 1588.5 L1210.4 1588.0 L1211.7 1588.6 L1213.0 1589.1 L1214.3 1590.1 L1215.6 1590.8 L1216.9 1594.3 L1218.2 1600.0 L1219.5 1607.1 L1220.8 1614.7 L1222.1 1624.0 L1223.4 1634.8 L1224.0 1639.8" fill="none" stroke="#0038ff" stroke-width="3.2" stroke-linejoin="round"/>
<path d="M277.0 1589.7 L278.3 1590.3 L279.6 1590.2 L280.9 1590.0 L282.2 1589.9 L283.5 1589.9 L284.8 1590.0 L286.1 1589.7 L287.4 1590.1 L288.7 1589.7 L290.0 1590.2 L291.3 1589.8 L292.6 1589.7 L293.9 1589.8 L295.2 1589.7 L296.5 1589.9 L297.8 1589.4 L299.1 1589.7 L300.4 1589.9 L301.7 1589.9 L303.0 1589.7 L304.3 1590.1 L305.6 1589.4 L306.9 1589.8 L308.2 1589.7 L309.5 1589.8 L310.8 1589.7 L312.1 1590.1 L313.4 1589.8 L314.7 1589.5 L316.0 1590.4 L317.3 1589.8 L318.6 1589.7 L319.9 1589.9 L321.2 1589.6 L322.5 1589.6 L323.8 1589.9 L325.1 1589.4 L326.4 1589.6 L327.7 1589.9 L329.0 1590.1 L330.3 1589.6 L331.6 1589.6 L332.9 1589.9 L334.2 1589.3 L335.5 1589.4 L336.8 1589.4 L338.1 1589.1 L339.4 1588.9 L340.7 1589.5 L342.0 1589.8 L343.3 1589.7 L344.6 1589.8 L345.9 1588.8 L347.2 1589.5 L348.5 1589.8 L349.8 1589.3 L351.1 1589.1 L352.4 1589.5 L353.7 1589.4 L355.0 1589.6 L356.3 1589.4 L357.6 1589.7 L358.9 1589.6 L360.2 1589.4 L361.5 1589.3 L362.8 1589.5 L364.1 1589.2 L365.4 1589.6 L366.7 1589.6 L368.0 1589.5 L369.3 1589.0 L370.6 1589.4 L371.9 1589.4 L373.2 1589.5 L374.5 1588.9 L375.8 1589.1 L377.1 1589.2 L378.4 1589.6 L379.7 1589.1 L381.0 1589.4 L382.3 1589.2 L383.6 1589.6 L384.9 1589.2 L386.2 1588.7 L387.5 1589.1 L388.8 1589.2 L390.1 1589.4 L391.4 1589.2 L392.7 1589.0 L394.0 1588.7 L395.3 1589.1 L396.6 1589.0 L397.9 1589.3 L399.2 1589.2 L400.5 1588.6 L401.8 1588.4 L403.1 1588.9 L404.4 1589.0 L405.7 1588.7 L407.0 1588.8 L408.3 1589.2 L409.6 1589.1 L410.9 1588.5 L412.2 1589.0 L413.5 1588.9 L414.8 1588.8 L416.1 1589.0 L417.4 1589.0 L418.7 1589.4 L420.0 1588.9 L421.3 1588.6 L422.6 1588.7 L423.9 1588.9 L425.2 1589.2 L426.5 1588.9 L427.8 1588.9 L429.1 1588.8 L430.4 1588.6 L431.7 1588.7 L433.0 1588.4 L434.3 1588.8 L435.6 1588.8 L436.9 1588.7 L438.2 1588.4 L439.5 1588.6 L440.8 1588.5 L442.1 1588.7 L443.4 1588.5 L444.7 1588.7 L446.0 1588.8 L447.3 1588.8 L448.6 1588.3 L449.9 1588.4 L451.2 1588.2 L452.5 1588.8 L453.8 1588.3 L455.1 1588.8 L456.4 1588.3 L457.7 1588.7 L459.0 1588.3 L460.3 1588.3 L461.6 1588.4 L462.9 1588.4 L464.2 1588.3 L465.5 1588.5 L466.8 1588.6 L468.1 1588.5 L469.4 1588.2 L470.7 1587.8 L472.0 1588.3 L473.3 1587.5 L474.6 1588.4 L475.9 1588.4 L477.2 1587.9 L478.5 1588.3 L479.8 1588.0 L481.1 1588.4 L482.4 1587.9 L483.7 1587.9 L485.0 1587.9 L486.3 1588.1 L487.6 1587.8 L488.9 1588.6 L490.2 1587.9 L491.5 1588.4 L492.8 1587.9 L494.1 1587.9 L495.4 1587.7 L496.7 1587.7 L498.0 1588.0 L499.3 1588.1 L500.6 1587.8 L501.9 1587.6 L503.2 1587.8 L504.5 1587.6 L505.8 1587.1 L507.1 1587.7 L508.4 1587.2 L509.7 1587.5 L511.0 1587.6 L512.3 1587.5 L513.6 1587.5 L514.9 1587.9 L516.2 1587.7 L517.5 1587.8 L518.8 1587.5 L520.1 1587.5 L521.4 1587.8 L522.7 1587.2 L524.0 1587.4 L525.3 1587.3 L526.6 1587.3 L527.9 1587.4 L529.2 1587.2 L530.5 1587.4 L531.8 1586.9 L533.1 1587.2 L534.4 1586.8 L535.7 1587.3 L537.0 1587.2 L538.3 1586.9 L539.6 1586.7 L540.9 1586.7 L542.2 1586.7 L543.5 1586.0 L544.8 1585.5 L546.1 1584.6 L547.4 1581.5 L548.7 1576.1 L550.0 1567.9 L551.3 1557.7 L552.6 1546.1 L553.9 1537.4 L555.3 1533.3 L556.5 1535.6 L557.8 1541.0 L559.1 1549.8 L560.4 1557.2 L561.7 1562.7 L563.0 1565.3 L564.3 1565.1 L565.6 1564.8 L567.0 1564.0 L568.2 1564.8 L569.5 1567.9 L570.8 1570.0 L572.1 1571.4 L573.4 1567.7 L574.7 1557.5 L575.7 1553.1 L577.3 1565.5 L578.6 1575.1 L579.9 1579.5 L581.2 1580.9 L582.5 1581.1 L583.8 1581.3 L585.1 1581.7 L586.4 1581.6 L587.7 1582.0 L589.0 1582.2 L590.3 1582.0 L591.6 1582.1 L592.9 1581.8 L594.2 1581.9 L595.5 1582.2 L596.8 1582.3 L598.1 1582.1 L599.4 1582.3 L600.7 1582.1 L602.0 1581.9 L603.3 1582.3 L604.6 1582.2 L605.9 1581.9 L607.2 1582.5 L608.5 1582.4 L609.8 1582.5 L611.1 1582.3 L612.4 1582.8 L613.7 1582.6 L615.0 1582.7 L616.3 1582.3 L617.6 1582.4 L618.9 1582.9 L620.2 1582.6 L621.5 1582.6 L622.8 1583.0 L624.1 1583.0 L625.4 1582.8 L626.7 1583.2 L628.0 1582.4 L629.3 1582.8 L630.6 1582.7 L631.9 1583.2 L633.2 1583.3 L634.5 1582.8 L635.8 1583.0 L637.1 1583.3 L638.4 1583.2 L639.7 1583.2 L641.0 1583.4 L642.3 1583.7 L643.6 1583.3 L644.9 1583.0 L646.2 1583.3 L647.5 1583.3 L648.8 1583.3 L650.1 1583.6 L651.4 1583.7 L652.7 1583.7 L654.0 1583.7 L655.3 1583.7 L656.6 1583.4 L657.9 1583.6 L659.2 1583.5 L660.5 1583.8 L661.8 1583.8 L663.1 1583.8 L664.4 1584.0 L665.7 1583.9 L667.0 1584.2 L668.3 1584.3 L669.6 1583.8 L670.9 1584.4 L672.2 1584.0 L673.5 1584.0 L674.8 1584.1 L676.1 1583.9 L677.4 1584.4 L678.7 1584.6 L680.0 1584.0 L681.3 1584.5 L682.6 1584.6 L683.9 1584.6 L685.2 1584.6 L686.5 1584.6 L687.8 1584.4 L689.1 1584.8 L690.4 1584.7 L691.7 1584.8 L693.0 1584.7 L694.3 1584.6 L695.6 1584.7 L696.9 1584.9 L698.2 1585.0 L699.5 1584.3 L700.8 1584.5 L702.1 1584.4 L703.4 1584.7 L704.7 1584.7 L706.0 1584.9 L707.3 1584.8 L708.6 1585.2 L709.9 1584.8 L711.2 1584.8 L712.5 1584.7 L713.8 1584.9 L715.1 1585.0 L716.4 1584.8 L717.7 1584.7 L719.0 1584.6 L720.3 1585.0 L721.6 1584.9 L722.9 1584.8 L724.2 1584.9 L725.5 1585.1 L726.8 1585.5 L728.1 1585.4 L729.4 1584.8 L730.7 1584.9 L732.0 1584.6 L733.3 1584.6 L734.6 1584.6 L735.9 1585.3 L737.2 1585.1 L738.5 1584.8 L739.8 1585.0 L741.1 1585.0 L742.4 1585.0 L743.7 1585.5 L745.0 1584.8 L746.3 1585.1 L747.6 1585.3 L748.9 1585.4 L750.2 1584.8 L751.5 1585.4 L752.8 1585.1 L754.1 1585.3 L755.4 1585.2 L756.7 1586.3 L758.0 1587.8 L759.3 1588.3 L760.6 1588.7 L761.9 1588.5 L763.2 1588.7 L764.5 1588.0 L765.8 1586.6 L767.1 1586.4 L768.4 1585.5 L769.7 1585.6 L771.0 1585.9 L772.3 1585.4 L773.6 1585.9 L774.9 1586.0 L776.2 1585.6 L777.5 1585.7 L778.8 1585.9 L780.1 1585.6 L781.4 1585.7 L782.7 1585.7 L784.0 1585.1 L785.3 1585.8 L786.6 1585.5 L787.9 1585.3 L789.2 1585.4 L790.5 1585.3 L791.8 1585.2 L793.1 1584.9 L794.4 1585.0 L795.7 1585.0 L797.0 1585.3 L798.3 1585.2 L799.6 1585.1 L800.9 1585.0 L802.2 1585.3 L803.5 1584.4 L804.8 1584.8 L806.1 1585.4 L807.4 1585.5 L808.7 1586.2 L810.0 1586.8 L811.3 1586.6 L812.6 1585.6 L813.9 1585.2 L815.2 1584.4 L816.5 1584.6 L817.8 1584.7 L819.1 1584.4 L820.4 1584.6 L821.7 1584.4 L823.0 1584.9 L824.3 1584.5 L825.6 1584.5 L826.9 1584.6 L828.2 1584.8 L829.5 1584.7 L830.8 1584.5 L832.1 1584.6 L833.4 1584.7 L834.7 1584.8 L836.0 1584.6 L837.3 1584.6 L838.6 1584.7 L839.9 1584.9 L841.2 1584.7 L842.5 1584.6 L843.8 1584.8 L845.1 1584.8 L846.4 1585.1 L847.7 1584.8 L849.0 1584.9 L850.3 1585.4 L851.6 1585.0 L852.9 1584.6 L854.2 1585.0 L855.5 1584.5 L856.8 1584.2 L858.1 1584.2 L859.4 1583.3 L860.7 1583.0 L862.0 1582.3 L863.3 1581.9 L864.6 1581.0 L865.9 1579.1 L867.2 1574.9 L868.5 1567.3 L869.8 1549.9 L871.1 1516.7 L872.4 1457.8 L873.7 1378.3 L875.0 1310.2 L875.6 1301.1 L876.3 1313.6 L877.6 1381.7 L878.9 1449.0 L880.2 1494.0 L881.5 1522.7 L882.8 1540.4 L884.1 1551.8 L885.4 1559.0 L886.7 1564.0 L888.0 1568.0 L889.3 1570.4 L890.6 1572.5 L891.9 1573.9 L893.2 1574.5 L894.5 1575.2 L895.8 1575.6 L897.1 1575.6 L898.4 1576.3 L899.7 1576.6 L901.0 1576.8 L902.3 1576.6 L903.6 1577.1 L904.9 1576.6 L906.2 1576.8 L907.5 1576.7 L908.8 1576.9 L910.1 1577.0 L911.4 1577.0 L912.7 1577.2 L914.0 1577.4 L915.3 1577.5 L916.6 1577.3 L917.9 1577.7 L919.2 1577.4 L920.5 1577.8 L921.8 1577.7 L923.1 1577.2 L924.4 1577.5 L925.7 1577.9 L927.0 1577.5 L928.3 1577.5 L929.6 1577.4 L930.9 1577.4 L932.2 1577.4 L933.5 1576.9 L934.8 1577.0 L936.1 1575.9 L937.4 1574.4 L938.7 1570.1 L940.0 1560.9 L941.3 1547.3 L942.4 1540.1 L943.9 1546.5 L945.2 1555.8 L946.5 1560.4 L947.8 1561.2 L949.1 1561.3 L950.4 1560.7 L951.7 1560.7 L953.0 1558.0 L954.3 1550.7 L955.6 1536.5 L956.0 1535.3 L956.9 1540.8 L958.2 1553.6 L959.5 1556.4 L960.8 1549.5 L962.4 1537.1 L963.4 1543.0 L964.7 1552.4 L966.0 1551.6 L967.3 1540.3 L968.6 1517.5 L969.8 1503.2 L971.2 1521.9 L972.5 1543.2 L973.8 1554.6 L975.1 1558.2 L976.4 1559.1 L977.7 1559.4 L979.0 1559.5 L980.3 1558.9 L981.6 1558.2 L982.9 1556.4 L984.2 1553.0 L985.5 1542.3 L986.8 1523.8 L988.1 1500.9 L988.9 1494.4 L989.4 1496.6 L990.7 1515.3 L992.0 1534.5 L993.3 1542.9 L994.6 1546.1 L995.9 1545.5 L997.2 1542.2 L998.5 1533.1 L999.8 1514.2 L1001.1 1481.0 L1002.4 1444.6 L1003.2 1434.3 L1003.7 1437.4 L1005.0 1466.2 L1006.3 1497.8 L1007.6 1515.7 L1008.9 1522.3 L1010.2 1523.0 L1011.5 1519.1 L1012.8 1511.0 L1014.1 1499.5 L1015.4 1482.2 L1016.7 1460.2 L1018.0 1434.3 L1019.3 1407.2 L1020.6 1383.8 L1021.9 1366.1 L1023.2 1359.2 L1023.6 1359.4 L1024.5 1364.1 L1025.8 1379.2 L1027.1 1403.3 L1028.4 1432.2 L1029.7 1461.4 L1031.0 1488.7 L1032.3 1509.5 L1033.6 1521.8 L1034.9 1522.5 L1036.2 1508.4 L1037.5 1488.2 L1038.2 1482.6 L1038.8 1483.1 L1040.1 1496.7 L1041.4 1510.2 L1042.7 1516.1 L1044.0 1516.5 L1045.3 1515.6 L1046.6 1514.0 L1047.9 1509.4 L1049.2 1502.1 L1049.6 1499.8 L1050.5 1496.4 L1051.8 1486.2 L1053.1 1466.9 L1054.4 1455.8 L1054.4 1455.9 L1055.7 1469.7 L1057.0 1493.3 L1058.3 1509.6 L1059.6 1518.9 L1060.9 1522.9 L1062.2 1525.1 L1063.5 1526.0 L1064.8 1527.5 L1066.1 1528.3 L1067.4 1529.1 L1068.7 1529.3 L1070.0 1528.8 L1071.3 1527.8 L1072.6 1523.2 L1073.9 1512.6 L1075.2 1495.3 L1076.8 1481.7 L1077.8 1488.3 L1079.1 1506.4 L1080.4 1519.6 L1081.7 1520.9 L1083.0 1516.6 L1083.5 1515.9 L1084.3 1519.8 L1085.6 1531.0 L1086.9 1537.9 L1088.2 1540.7 L1089.5 1542.0 L1090.8 1543.5 L1092.1 1544.1 L1093.4 1545.2 L1094.7 1546.6 L1096.0 1546.9 L1097.3 1547.5 L1098.6 1548.6 L1099.9 1548.8 L1101.2 1549.4 L1102.5 1549.6 L1103.8 1550.5 L1105.1 1550.3 L1106.4 1549.4 L1107.7 1545.7 L1108.5 1544.6 L1109.0 1545.4 L1110.3 1549.9 L1111.6 1552.4 L1112.9 1553.5 L1114.2 1554.0 L1115.5 1555.0 L1116.8 1554.9 L1118.1 1554.8 L1119.4 1555.8 L1120.7 1556.2 L1122.0 1555.9 L1123.3 1556.5 L1124.6 1556.1 L1125.9 1556.5 L1127.2 1556.3 L1128.5 1556.3 L1129.8 1555.9 L1131.1 1554.8 L1132.4 1553.2 L1133.7 1546.9 L1135.0 1531.5 L1136.3 1508.6 L1137.1 1501.1 L1137.6 1504.1 L1138.9 1525.8 L1140.2 1540.6 L1141.5 1539.5 L1142.3 1538.1 L1142.8 1540.7 L1144.1 1550.6 L1145.4 1556.0 L1146.7 1557.3 L1148.0 1558.5 L1149.3 1558.4 L1150.6 1559.2 L1151.9 1559.5 L1153.2 1559.3 L1154.5 1559.2 L1155.8 1559.4 L1157.1 1559.2 L1158.4 1560.2 L1159.7 1559.2 L1161.0 1559.3 L1162.3 1559.6 L1163.6 1559.4 L1164.9 1559.5 L1166.2 1559.3 L1167.5 1558.8 L1168.8 1558.2 L1170.1 1557.2 L1171.4 1555.6 L1172.7 1553.1 L1174.0 1549.3 L1175.3 1546.1 L1175.9 1545.0 L1176.6 1545.7 L1177.9 1548.7 L1179.2 1552.0 L1180.5 1554.2 L1181.8 1555.9 L1183.1 1556.5 L1184.4 1556.8 L1185.7 1556.2 L1187.0 1556.1 L1188.3 1556.0 L1189.6 1555.7 L1190.9 1555.2 L1192.2 1555.3 L1193.5 1554.2 L1194.8 1554.3 L1196.1 1553.5 L1197.4 1553.7 L1198.7 1552.7 L1200.0 1552.3 L1201.3 1551.9 L1202.6 1551.0 L1203.9 1550.4 L1205.2 1548.7 L1206.5 1545.9 L1207.8 1536.0 L1209.1 1518.3 L1210.5 1503.8 L1211.7 1514.7 L1213.0 1532.7 L1214.3 1542.1 L1215.6 1545.6 L1216.9 1546.3 L1218.2 1546.8 L1219.5 1546.0 L1220.8 1546.2 L1222.1 1545.8 L1223.4 1545.7 L1224.0 1545.2" fill="none" stroke="#3f7f00" stroke-width="3.1" stroke-linejoin="round"/>
<path d="M277.0 1484.2 L278.3 1483.7 L279.6 1484.3 L280.9 1484.2 L282.2 1484.0 L283.5 1483.7 L284.8 1484.1 L286.1 1484.2 L287.4 1484.4 L288.7 1483.8 L290.0 1484.4 L291.3 1483.9 L292.6 1484.1 L293.9 1483.9 L295.2 1484.0 L296.5 1484.3 L297.8 1483.8 L299.1 1484.2 L300.4 1483.9 L301.7 1483.9 L303.0 1483.8 L304.3 1484.0 L305.6 1483.5 L306.9 1483.9 L308.2 1484.2 L309.5 1484.1 L310.8 1483.5 L312.1 1483.6 L313.4 1483.8 L314.7 1484.4 L316.0 1483.8 L317.3 1483.9 L318.6 1483.8 L319.9 1484.0 L321.2 1483.7 L322.5 1484.0 L323.8 1484.0 L325.1 1484.1 L326.4 1483.7 L327.7 1484.1 L329.0 1484.3 L330.3 1484.1 L331.6 1484.0 L332.9 1483.2 L334.2 1484.2 L335.5 1484.3 L336.8 1484.1 L338.1 1484.0 L339.4 1484.0 L340.7 1484.6 L342.0 1483.6 L343.3 1483.7 L344.6 1484.1 L345.9 1483.9 L347.2 1483.3 L348.5 1483.8 L349.8 1483.9 L351.1 1483.5 L352.4 1483.9 L353.7 1483.8 L355.0 1483.3 L356.3 1483.9 L357.6 1484.3 L358.9 1484.2 L360.2 1483.4 L361.5 1483.4 L362.8 1483.7 L364.1 1483.8 L365.4 1483.4 L366.7 1483.5 L368.0 1484.0 L369.3 1483.7 L370.6 1483.9 L371.9 1483.7 L373.2 1483.9 L374.5 1483.5 L375.8 1483.5 L377.1 1483.4 L378.4 1483.1 L379.7 1483.5 L381.0 1483.3 L382.3 1483.5 L383.6 1483.6 L384.9 1483.6 L386.2 1483.7 L387.5 1483.5 L388.8 1483.5 L390.1 1483.8 L391.4 1483.5 L392.7 1483.5 L394.0 1482.9 L395.3 1483.3 L396.6 1483.8 L397.9 1483.3 L399.2 1483.2 L400.5 1483.7 L401.8 1483.2 L403.1 1483.7 L404.4 1483.4 L405.7 1483.3 L407.0 1482.9 L408.3 1483.8 L409.6 1483.0 L410.9 1483.1 L412.2 1483.6 L413.5 1483.1 L414.8 1483.5 L416.1 1483.4 L417.4 1483.3 L418.7 1483.1 L420.0 1483.2 L421.3 1483.4 L422.6 1483.1 L423.9 1483.5 L425.2 1483.4 L426.5 1483.5 L427.8 1483.4 L429.1 1483.5 L430.4 1483.4 L431.7 1483.5 L433.0 1483.4 L434.3 1483.4 L435.6 1483.1 L436.9 1482.8 L438.2 1483.3 L439.5 1483.5 L440.8 1483.0 L442.1 1482.8 L443.4 1483.1 L444.7 1483.3 L446.0 1483.4 L447.3 1483.1 L448.6 1482.9 L449.9 1483.2 L451.2 1483.3 L452.5 1483.1 L453.8 1483.4 L455.1 1483.0 L456.4 1483.3 L457.7 1483.5 L459.0 1482.9 L460.3 1482.9 L461.6 1483.2 L462.9 1483.9 L464.2 1483.2 L465.5 1483.0 L466.8 1483.4 L468.1 1483.0 L469.4 1482.6 L470.7 1482.8 L472.0 1483.3 L473.3 1482.6 L474.6 1482.6 L475.9 1483.2 L477.2 1483.0 L478.5 1483.2 L479.8 1482.6 L481.1 1482.7 L482.4 1482.8 L483.7 1482.6 L485.0 1482.8 L486.3 1482.8 L487.6 1483.0 L488.9 1482.8 L490.2 1482.7 L491.5 1482.9 L492.8 1483.0 L494.1 1483.0 L495.4 1482.8 L496.7 1482.6 L498.0 1482.6 L499.3 1482.3 L500.6 1482.7 L501.9 1482.6 L503.2 1483.0 L504.5 1482.6 L505.8 1482.8 L507.1 1482.9 L508.4 1482.1 L509.7 1482.3 L511.0 1482.4 L512.3 1482.5 L513.6 1482.2 L514.9 1482.6 L516.2 1482.6 L517.5 1482.5 L518.8 1482.5 L520.1 1482.1 L521.4 1482.6 L522.7 1482.1 L524.0 1481.8 L525.3 1482.3 L526.6 1482.3 L527.9 1482.0 L529.2 1481.7 L530.5 1481.8 L531.8 1482.1 L533.1 1481.4 L534.4 1482.3 L535.7 1482.3 L537.0 1481.9 L538.3 1482.2 L539.6 1481.8 L540.9 1481.5 L542.2 1481.8 L543.5 1481.5 L544.8 1480.5 L546.1 1479.0 L547.4 1476.2 L548.7 1471.4 L550.0 1462.7 L551.3 1452.6 L552.6 1440.0 L553.9 1430.9 L555.3 1426.6 L556.5 1428.4 L557.8 1435.0 L559.1 1443.1 L560.4 1451.3 L561.7 1456.6 L563.0 1458.7 L564.3 1459.1 L565.6 1457.7 L567.0 1457.2 L568.2 1458.7 L569.5 1461.1 L570.8 1464.3 L572.1 1466.1 L573.4 1461.9 L574.7 1451.6 L575.7 1446.3 L577.3 1459.6 L578.6 1470.3 L579.9 1474.3 L581.2 1476.1 L582.5 1476.5 L583.8 1476.6 L585.1 1476.8 L586.4 1477.5 L587.7 1476.8 L589.0 1476.9 L590.3 1477.1 L591.6 1477.1 L592.9 1476.7 L594.2 1477.4 L595.5 1477.6 L596.8 1477.9 L598.1 1477.4 L599.4 1477.4 L600.7 1478.0 L602.0 1477.7 L603.3 1478.1 L604.6 1478.1 L605.9 1478.4 L607.2 1478.4 L608.5 1478.8 L609.8 1478.5 L611.1 1479.5 L612.4 1479.2 L613.7 1479.0 L615.0 1479.0 L616.3 1479.3 L617.6 1479.3 L618.9 1479.2 L620.2 1479.9 L621.5 1479.8 L622.8 1479.3 L624.1 1479.8 L625.4 1479.7 L626.7 1479.9 L628.0 1479.6 L629.3 1480.3 L630.6 1479.8 L631.9 1480.4 L633.2 1479.8 L634.5 1480.3 L635.8 1479.9 L637.1 1480.4 L638.4 1480.0 L639.7 1479.8 L641.0 1479.8 L642.3 1480.0 L643.6 1480.3 L644.9 1480.3 L646.2 1480.2 L647.5 1480.5 L648.8 1480.7 L650.1 1480.0 L651.4 1480.6 L652.7 1480.9 L654.0 1480.2 L655.3 1480.2 L656.6 1480.5 L657.9 1480.5 L659.2 1480.3 L660.5 1480.4 L661.8 1480.9 L663.1 1480.7 L664.4 1480.3 L665.7 1480.1 L667.0 1480.3 L668.3 1480.6 L669.6 1480.4 L670.9 1480.4 L672.2 1480.8 L673.5 1480.6 L674.8 1480.6 L676.1 1480.8 L677.4 1481.1 L678.7 1480.8 L680.0 1480.9 L681.3 1480.8 L682.6 1481.2 L683.9 1480.5 L685.2 1480.5 L686.5 1480.7 L687.8 1481.4 L689.1 1481.3 L690.4 1480.6 L691.7 1480.8 L693.0 1481.1 L694.3 1480.9 L695.6 1481.2 L696.9 1480.8 L698.2 1480.6 L699.5 1481.1 L700.8 1481.3 L702.1 1480.6 L703.4 1480.6 L704.7 1480.9 L706.0 1480.6 L707.3 1481.2 L708.6 1480.8 L709.9 1481.3 L711.2 1481.0 L712.5 1481.1 L713.8 1481.3 L715.1 1481.1 L716.4 1480.9 L717.7 1481.4 L719.0 1480.8 L720.3 1481.5 L721.6 1481.0 L722.9 1481.0 L724.2 1481.3 L725.5 1481.3 L726.8 1481.3 L728.1 1480.8 L729.4 1481.0 L730.7 1481.3 L732.0 1481.3 L733.3 1481.2 L734.6 1481.5 L735.9 1481.2 L737.2 1481.5 L738.5 1481.5 L739.8 1481.3 L741.1 1481.2 L742.4 1481.5 L743.7 1481.4 L745.0 1481.5 L746.3 1481.1 L747.6 1481.5 L748.9 1481.8 L750.2 1481.3 L751.5 1481.5 L752.8 1481.4 L754.1 1481.7 L755.4 1481.0 L756.7 1482.3 L758.0 1482.8 L759.3 1483.3 L760.6 1483.9 L761.9 1484.3 L763.2 1483.7 L764.5 1483.2 L765.8 1482.8 L767.1 1482.0 L768.4 1482.0 L769.7 1482.1 L771.0 1481.7 L772.3 1481.4 L773.6 1481.6 L774.9 1481.9 L776.2 1481.2 L777.5 1481.3 L778.8 1481.3 L780.1 1481.3 L781.4 1480.9 L782.7 1481.0 L784.0 1481.4 L785.3 1481.1 L786.6 1480.7 L787.9 1481.0 L789.2 1480.8 L790.5 1481.1 L791.8 1480.3 L793.1 1480.7 L794.4 1480.9 L795.7 1480.3 L797.0 1480.4 L798.3 1480.7 L799.6 1480.6 L800.9 1480.5 L802.2 1480.6 L803.5 1480.2 L804.8 1480.3 L806.1 1481.1 L807.4 1480.8 L808.7 1481.5 L810.0 1481.7 L811.3 1482.0 L812.6 1481.4 L813.9 1480.8 L815.2 1480.4 L816.5 1480.1 L817.8 1479.6 L819.1 1479.8 L820.4 1480.3 L821.7 1480.2 L823.0 1479.9 L824.3 1479.6 L825.6 1479.8 L826.9 1480.5 L828.2 1480.3 L829.5 1480.3 L830.8 1479.6 L832.1 1479.7 L833.4 1479.9 L834.7 1479.7 L836.0 1480.1 L837.3 1479.8 L838.6 1480.2 L839.9 1480.0 L841.2 1480.0 L842.5 1480.3 L843.8 1480.2 L845.1 1480.2 L846.4 1480.0 L847.7 1480.1 L849.0 1479.6 L850.3 1479.5 L851.6 1479.8 L852.9 1479.9 L854.2 1480.2 L855.5 1479.7 L856.8 1479.1 L858.1 1478.9 L859.4 1478.3 L860.7 1478.0 L862.0 1477.2 L863.3 1476.6 L864.6 1476.0 L865.9 1474.5 L867.2 1470.9 L868.5 1464.6 L869.8 1453.1 L871.1 1426.2 L872.4 1373.3 L873.7 1287.7 L875.0 1194.5 L876.0 1162.0 L877.6 1237.1 L878.9 1323.0 L880.2 1380.3 L881.5 1413.9 L882.8 1434.1 L884.1 1447.1 L885.4 1455.8 L886.7 1461.4 L888.0 1465.4 L889.3 1467.7 L890.6 1470.0 L891.9 1471.6 L893.2 1472.3 L894.5 1474.0 L895.8 1473.9 L897.1 1474.9 L898.4 1474.9 L899.7 1475.5 L901.0 1475.9 L902.3 1475.9 L903.6 1475.7 L904.9 1475.8 L906.2 1476.2 L907.5 1476.0 L908.8 1476.0 L910.1 1476.2 L911.4 1475.4 L912.7 1476.0 L914.0 1476.3 L915.3 1476.4 L916.6 1476.1 L917.9 1475.7 L919.2 1476.1 L920.5 1476.3 L921.8 1475.6 L923.1 1475.5 L924.4 1475.5 L925.7 1475.3 L927.0 1474.8 L928.3 1474.5 L929.6 1474.5 L930.9 1474.4 L932.2 1474.4 L933.5 1473.7 L934.8 1473.3 L936.1 1472.7 L937.4 1471.3 L938.7 1466.3 L940.0 1456.2 L941.3 1442.5 L942.4 1434.6 L943.9 1441.7 L945.2 1451.1 L946.5 1455.5 L947.8 1455.9 L949.1 1455.8 L950.4 1456.0 L951.7 1455.7 L953.0 1454.0 L954.3 1445.3 L955.6 1430.3 L956.0 1428.6 L956.9 1435.2 L958.2 1448.2 L959.5 1451.2 L960.8 1444.9 L962.4 1432.2 L963.4 1438.4 L964.7 1448.2 L966.0 1447.4 L967.3 1435.5 L968.6 1412.1 L969.8 1397.8 L971.2 1416.5 L972.5 1438.5 L973.8 1450.5 L975.1 1454.3 L976.4 1455.4 L977.7 1456.1 L979.0 1455.9 L980.3 1455.6 L981.6 1454.3 L982.9 1452.8 L984.2 1448.6 L985.5 1438.4 L986.8 1419.7 L988.1 1396.8 L988.9 1390.1 L989.4 1392.0 L990.7 1410.6 L992.0 1429.1 L993.3 1438.4 L994.6 1440.6 L995.9 1439.5 L997.2 1435.6 L998.5 1426.4 L999.8 1406.0 L1001.1 1370.7 L1002.4 1331.4 L1003.2 1320.6 L1003.7 1323.3 L1005.0 1354.8 L1006.3 1388.4 L1007.6 1407.9 L1008.9 1414.7 L1010.2 1415.2 L1011.5 1411.7 L1012.8 1403.4 L1014.1 1390.0 L1015.4 1370.5 L1016.7 1344.6 L1018.0 1315.2 L1019.3 1283.4 L1020.6 1255.7 L1021.9 1237.1 L1023.4 1230.1 L1024.5 1238.0 L1025.8 1258.5 L1027.1 1288.8 L1028.4 1323.6 L1029.7 1357.8 L1031.0 1387.9 L1032.3 1410.8 L1033.6 1423.4 L1034.9 1422.5 L1036.2 1406.2 L1037.5 1383.6 L1038.2 1377.4 L1038.8 1378.4 L1040.1 1393.0 L1041.4 1406.9 L1042.7 1413.7 L1044.0 1414.5 L1045.3 1414.3 L1046.6 1412.1 L1047.9 1407.5 L1049.2 1400.0 L1049.6 1397.3 L1050.5 1393.8 L1051.8 1383.0 L1053.1 1364.1 L1054.4 1352.4 L1054.4 1352.7 L1055.7 1366.6 L1057.0 1390.3 L1058.3 1407.7 L1059.6 1416.7 L1060.9 1420.2 L1062.2 1423.0 L1063.5 1424.4 L1064.8 1425.4 L1066.1 1425.8 L1067.4 1426.8 L1068.7 1426.9 L1070.0 1426.8 L1071.3 1425.1 L1072.6 1420.4 L1073.9 1409.9 L1075.2 1393.3 L1076.8 1380.0 L1077.8 1386.6 L1079.1 1404.6 L1080.4 1418.0 L1081.7 1420.3 L1083.0 1415.3 L1083.5 1415.4 L1084.3 1419.8 L1085.6 1430.8 L1086.9 1437.1 L1088.2 1439.6 L1089.5 1441.2 L1090.8 1442.7 L1092.1 1444.0 L1093.4 1444.7 L1094.7 1445.9 L1096.0 1446.3 L1097.3 1447.5 L1098.6 1448.4 L1099.9 1448.1 L1101.2 1449.4 L1102.5 1450.1 L1103.8 1450.7 L1105.1 1450.9 L1106.4 1449.9 L1107.7 1446.6 L1108.5 1445.3 L1109.0 1446.2 L1110.3 1451.3 L1111.6 1453.8 L1112.9 1454.9 L1114.2 1455.1 L1115.5 1455.7 L1116.8 1456.5 L1118.1 1456.4 L1119.4 1457.2 L1120.7 1456.8 L1122.0 1457.9 L1123.3 1457.8 L1124.6 1457.4 L1125.9 1457.3 L1127.2 1456.9 L1128.5 1457.2 L1129.8 1457.1 L1131.1 1456.2 L1132.4 1454.2 L1133.7 1448.7 L1135.0 1432.8 L1136.3 1409.5 L1137.1 1402.4 L1137.6 1405.6 L1138.9 1428.0 L1140.2 1443.2 L1141.5 1443.4 L1142.3 1443.1 L1142.8 1445.6 L1144.1 1454.8 L1145.4 1459.3 L1146.7 1461.2 L1148.0 1461.6 L1149.3 1462.7 L1150.6 1462.8 L1151.9 1463.2 L1153.2 1463.5 L1154.5 1463.6 L1155.8 1464.3 L1157.1 1464.3 L1158.4 1463.8 L1159.7 1463.8 L1161.0 1464.0 L1162.3 1463.4 L1163.6 1463.1 L1164.9 1462.7 L1166.2 1462.9 L1167.5 1462.1 L1168.8 1461.4 L1170.1 1460.2 L1171.4 1458.3 L1172.7 1455.8 L1174.0 1451.5 L1175.3 1448.2 L1175.9 1447.3 L1176.6 1447.8 L1177.9 1450.7 L1179.2 1453.8 L1180.5 1455.7 L1181.8 1457.0 L1183.1 1457.4 L1184.4 1456.7 L1185.7 1457.2 L1187.0 1456.6 L1188.3 1455.9 L1189.6 1455.7 L1190.9 1455.3 L1192.2 1454.6 L1193.5 1454.0 L1194.8 1453.4 L1196.1 1453.0 L1197.4 1451.8 L1198.7 1451.4 L1200.0 1450.9 L1201.3 1450.1 L1202.6 1449.0 L1203.9 1448.2 L1205.2 1446.7 L1206.5 1443.5 L1207.8 1434.2 L1209.1 1416.6 L1210.5 1402.1 L1211.7 1413.5 L1213.0 1432.1 L1214.3 1441.4 L1215.6 1444.8 L1216.9 1445.6 L1218.2 1446.4 L1219.5 1446.4 L1220.8 1446.4 L1222.1 1446.7 L1223.4 1446.2 L1224.0 1446.0" fill="none" stroke="#0038ff" stroke-width="3.1" stroke-linejoin="round"/>
</g>
<line x1="277.4" y1="131" x2="277.4" y2="829.2" stroke="#000" stroke-width="2.4"/>
<line x1="276.2" y1="828" x2="1225.2" y2="828" stroke="#000" stroke-width="3"/>
<line x1="371.7" y1="828" x2="371.7" y2="819.5" stroke="#000" stroke-width="2.4"/>
<line x1="466.4" y1="828" x2="466.4" y2="813.0" stroke="#000" stroke-width="2.4"/>
<line x1="561.1" y1="828" x2="561.1" y2="819.5" stroke="#000" stroke-width="2.4"/>
<line x1="655.8" y1="828" x2="655.8" y2="813.0" stroke="#000" stroke-width="2.4"/>
<line x1="750.5" y1="828" x2="750.5" y2="819.5" stroke="#000" stroke-width="2.4"/>
<line x1="845.2" y1="828" x2="845.2" y2="813.0" stroke="#000" stroke-width="2.4"/>
<line x1="939.9" y1="828" x2="939.9" y2="819.5" stroke="#000" stroke-width="2.4"/>
<line x1="1034.6" y1="828" x2="1034.6" y2="813.0" stroke="#000" stroke-width="2.4"/>
<line x1="1129.3" y1="828" x2="1129.3" y2="819.5" stroke="#000" stroke-width="2.4"/>
<line x1="1224.0" y1="828" x2="1224.0" y2="813.0" stroke="#000" stroke-width="2.4"/>
<line x1="277.4" y1="1129" x2="277.4" y2="1828.2" stroke="#000" stroke-width="2.4"/>
<line x1="276.2" y1="1827" x2="1224.7" y2="1827" stroke="#000" stroke-width="3"/>
<line x1="342.7" y1="1827" x2="342.7" y2="1818.5" stroke="#000" stroke-width="2.4"/>
<line x1="408.5" y1="1827" x2="408.5" y2="1812.0" stroke="#000" stroke-width="2.4"/>
<line x1="474.2" y1="1827" x2="474.2" y2="1818.5" stroke="#000" stroke-width="2.4"/>
<line x1="540.0" y1="1827" x2="540.0" y2="1812.0" stroke="#000" stroke-width="2.4"/>
<line x1="605.7" y1="1827" x2="605.7" y2="1818.5" stroke="#000" stroke-width="2.4"/>
<line x1="671.5" y1="1827" x2="671.5" y2="1812.0" stroke="#000" stroke-width="2.4"/>
<line x1="737.2" y1="1827" x2="737.2" y2="1818.5" stroke="#000" stroke-width="2.4"/>
<line x1="802.9" y1="1827" x2="802.9" y2="1812.0" stroke="#000" stroke-width="2.4"/>
<line x1="868.7" y1="1827" x2="868.7" y2="1818.5" stroke="#000" stroke-width="2.4"/>
<line x1="934.4" y1="1827" x2="934.4" y2="1812.0" stroke="#000" stroke-width="2.4"/>
<line x1="1000.2" y1="1827" x2="1000.2" y2="1818.5" stroke="#000" stroke-width="2.4"/>
<line x1="1065.9" y1="1827" x2="1065.9" y2="1812.0" stroke="#000" stroke-width="2.4"/>
<line x1="1131.7" y1="1827" x2="1131.7" y2="1818.5" stroke="#000" stroke-width="2.4"/>
<line x1="1197.4" y1="1827" x2="1197.4" y2="1812.0" stroke="#000" stroke-width="2.4"/>
<text x="279.5" y="93" font-family="'Liberation Sans', Arial, sans-serif" font-size="39.5" font-weight="bold" font-style="normal" fill="#000" text-anchor="start" >(a)</text>
<text x="278.5" y="1092.4" font-family="'Liberation Sans', Arial, sans-serif" font-size="39.5" font-weight="bold" font-style="normal" fill="#000" text-anchor="start" >(b)</text>
<text x="277.0" y="867" font-family="'Liberation Sans', Arial, sans-serif" font-size="32" font-weight="bold" font-style="normal" fill="#000" text-anchor="middle" >0</text>
<text x="466.4" y="867" font-family="'Liberation Sans', Arial, sans-serif" font-size="32" font-weight="bold" font-style="normal" fill="#000" text-anchor="middle" >3</text>
<text x="655.8" y="867" font-family="'Liberation Sans', Arial, sans-serif" font-size="32" font-weight="bold" font-style="normal" fill="#000" text-anchor="middle" >6</text>
<text x="845.2" y="867" font-family="'Liberation Sans', Arial, sans-serif" font-size="32" font-weight="bold" font-style="normal" fill="#000" text-anchor="middle" >9</text>
<text x="1034.6" y="867" font-family="'Liberation Sans', Arial, sans-serif" font-size="32" font-weight="bold" font-style="normal" fill="#000" text-anchor="middle" >12</text>
<text x="1224.0" y="867" font-family="'Liberation Sans', Arial, sans-serif" font-size="32" font-weight="bold" font-style="normal" fill="#000" text-anchor="middle" >15</text>
<text x="277.0" y="1869" font-family="'Liberation Sans', Arial, sans-serif" font-size="33.5" font-weight="bold" font-style="normal" fill="#000" text-anchor="middle" >4000</text>
<text x="408.5" y="1869" font-family="'Liberation Sans', Arial, sans-serif" font-size="33.5" font-weight="bold" font-style="normal" fill="#000" text-anchor="middle" >3500</text>
<text x="540.0" y="1869" font-family="'Liberation Sans', Arial, sans-serif" font-size="33.5" font-weight="bold" font-style="normal" fill="#000" text-anchor="middle" >3000</text>
<text x="671.5" y="1869" font-family="'Liberation Sans', Arial, sans-serif" font-size="33.5" font-weight="bold" font-style="normal" fill="#000" text-anchor="middle" >2500</text>
<text x="802.9" y="1869" font-family="'Liberation Sans', Arial, sans-serif" font-size="33.5" font-weight="bold" font-style="normal" fill="#000" text-anchor="middle" >2000</text>
<text x="934.4" y="1869" font-family="'Liberation Sans', Arial, sans-serif" font-size="33.5" font-weight="bold" font-style="normal" fill="#000" text-anchor="middle" >1500</text>
<text x="1065.9" y="1869" font-family="'Liberation Sans', Arial, sans-serif" font-size="33.5" font-weight="bold" font-style="normal" fill="#000" text-anchor="middle" >1000</text>
<text x="1197.4" y="1869" font-family="'Liberation Sans', Arial, sans-serif" font-size="33.5" font-weight="bold" font-style="normal" fill="#000" text-anchor="middle" >500</text>
<text x="750.8" y="933" font-family="'Liberation Sans', Arial, sans-serif" font-size="41" font-weight="bold" font-style="normal" fill="#000" text-anchor="middle" >Energy (keV)</text>
<text x="749.6" y="1940" font-family="'Liberation Sans', Arial, sans-serif" font-size="41" font-weight="bold" font-style="normal" fill="#000" text-anchor="middle" >Wavenumber (cm<tspan dy="-18.5" font-size="21">-1</tspan><tspan dy="18.5">)</tspan></text>
<text x="0" y="0" font-family="'Liberation Sans', Arial, sans-serif" font-size="41" font-weight="bold" font-style="normal" fill="#000" text-anchor="middle" transform="translate(229,444.5) rotate(-90)">Intensity (a.u.)</text>
<text x="0" y="0" font-family="'Liberation Sans', Arial, sans-serif" font-size="41" font-weight="bold" font-style="normal" fill="#000" text-anchor="middle" transform="translate(229,1489.3) rotate(-90)">Absorbance</text>
<text x="942" y="534" font-family="'Liberation Sans', Arial, sans-serif" font-size="30.5" font-weight="bold" font-style="italic" fill="#0038ff" text-anchor="start" >PCL-Sr-5</text>
<text x="942" y="655" font-family="'Liberation Sans', Arial, sans-serif" font-size="30.5" font-weight="bold" font-style="italic" fill="#3f7f00" text-anchor="start" >PCL-Mg-5</text>
<text x="942" y="783" font-family="'Liberation Sans', Arial, sans-serif" font-size="30.5" font-weight="bold" font-style="italic" fill="#000000" text-anchor="start" >PCL</text>
<text x="285.8" y="278" font-family="'Liberation Sans', Arial, sans-serif" font-size="27" font-weight="normal" font-style="italic" fill="#000" text-anchor="start" >C</text>
<text x="379" y="204" font-family="'Liberation Sans', Arial, sans-serif" font-size="27" font-weight="normal" font-style="italic" fill="#000" text-anchor="start" >Si</text>
<text x="494.5" y="335.3" font-family="'Liberation Sans', Arial, sans-serif" font-size="27" font-weight="normal" font-style="italic" fill="#000" text-anchor="start" >Ca</text>
<text x="301" y="499" font-family="'Liberation Sans', Arial, sans-serif" font-size="27" font-weight="normal" font-style="italic" fill="#000" text-anchor="start" >O</text>
<text x="325" y="522" font-family="'Liberation Sans', Arial, sans-serif" font-size="27" font-weight="normal" font-style="italic" fill="#000" text-anchor="start" >Zn</text>
<text x="400" y="493" font-family="'Liberation Sans', Arial, sans-serif" font-size="27" font-weight="normal" font-style="italic" fill="#000" text-anchor="start" >P</text>
<text x="516" y="504" font-family="'Liberation Sans', Arial, sans-serif" font-size="27" font-weight="normal" font-style="italic" fill="#000" text-anchor="start" >Ca</text>
<text x="340" y="625" font-family="'Liberation Sans', Arial, sans-serif" font-size="27" font-weight="normal" font-style="italic" fill="#3f7f00" text-anchor="start" >Mg</text>
<text x="808" y="524" font-family="'Liberation Sans', Arial, sans-serif" font-size="27" font-weight="normal" font-style="italic" fill="#000" text-anchor="start" >Zn</text>
<text x="874" y="529" font-family="'Liberation Sans', Arial, sans-serif" font-size="27" font-weight="normal" font-style="italic" fill="#000" text-anchor="start" >Zn</text>
<text x="1160" y="520" font-family="'Liberation Sans', Arial, sans-serif" font-size="27" font-weight="normal" font-style="italic" fill="#0038ff" text-anchor="start" >Sr</text>
<text x="292" y="1465" font-family="'Liberation Sans', Arial, sans-serif" font-size="30.5" font-weight="bold" font-style="italic" fill="#0038ff" text-anchor="start" >PCL-Sr-5</text>
<text x="292" y="1571.5" font-family="'Liberation Sans', Arial, sans-serif" font-size="30.5" font-weight="bold" font-style="italic" fill="#3f7f00" text-anchor="start" >PCL-Mg-5</text>
<text x="292" y="1675" font-family="'Liberation Sans', Arial, sans-serif" font-size="30.5" font-weight="bold" font-style="italic" fill="#0038ff" text-anchor="start" >Powder-Sr</text>
<text x="292" y="1776" font-family="'Liberation Sans', Arial, sans-serif" font-size="30.5" font-weight="bold" font-style="italic" fill="#3f7f00" text-anchor="start" >Powder-Mg</text>
<text x="539.5" y="1411.5" font-family="'Liberation Sans', Arial, sans-serif" font-size="27.5" font-weight="normal" font-style="italic" fill="#000" text-anchor="start" >C-H</text>
<text x="850" y="1147" font-family="'Liberation Sans', Arial, sans-serif" font-size="27" font-weight="normal" font-style="italic" fill="#000" text-anchor="start" >C=O</text>
<text x="998.5" y="1216" font-family="'Liberation Sans', Arial, sans-serif" font-size="27" font-weight="normal" font-style="italic" fill="#000" text-anchor="start" >C-O</text>
<text x="965" y="1309" font-family="'Liberation Sans', Arial, sans-serif" font-size="27" font-weight="normal" font-style="italic" fill="#000" text-anchor="start" >C-O</text>
<text x="928" y="1640" font-family="'Liberation Sans', Arial, sans-serif" font-size="27" font-weight="normal" font-style="italic" fill="#000" text-anchor="start" >N-O</text>
<text x="1033" y="1587" font-family="'Liberation Sans', Arial, sans-serif" font-size="27" font-weight="normal" font-style="italic" fill="#000" text-anchor="start" >Si-O</text>
<text x="1188" y="1574" font-family="'Liberation Sans', Arial, sans-serif" font-size="27" font-weight="normal" font-style="italic" fill="#000" text-anchor="start" >M-O</text>
</svg>
</body></html>
